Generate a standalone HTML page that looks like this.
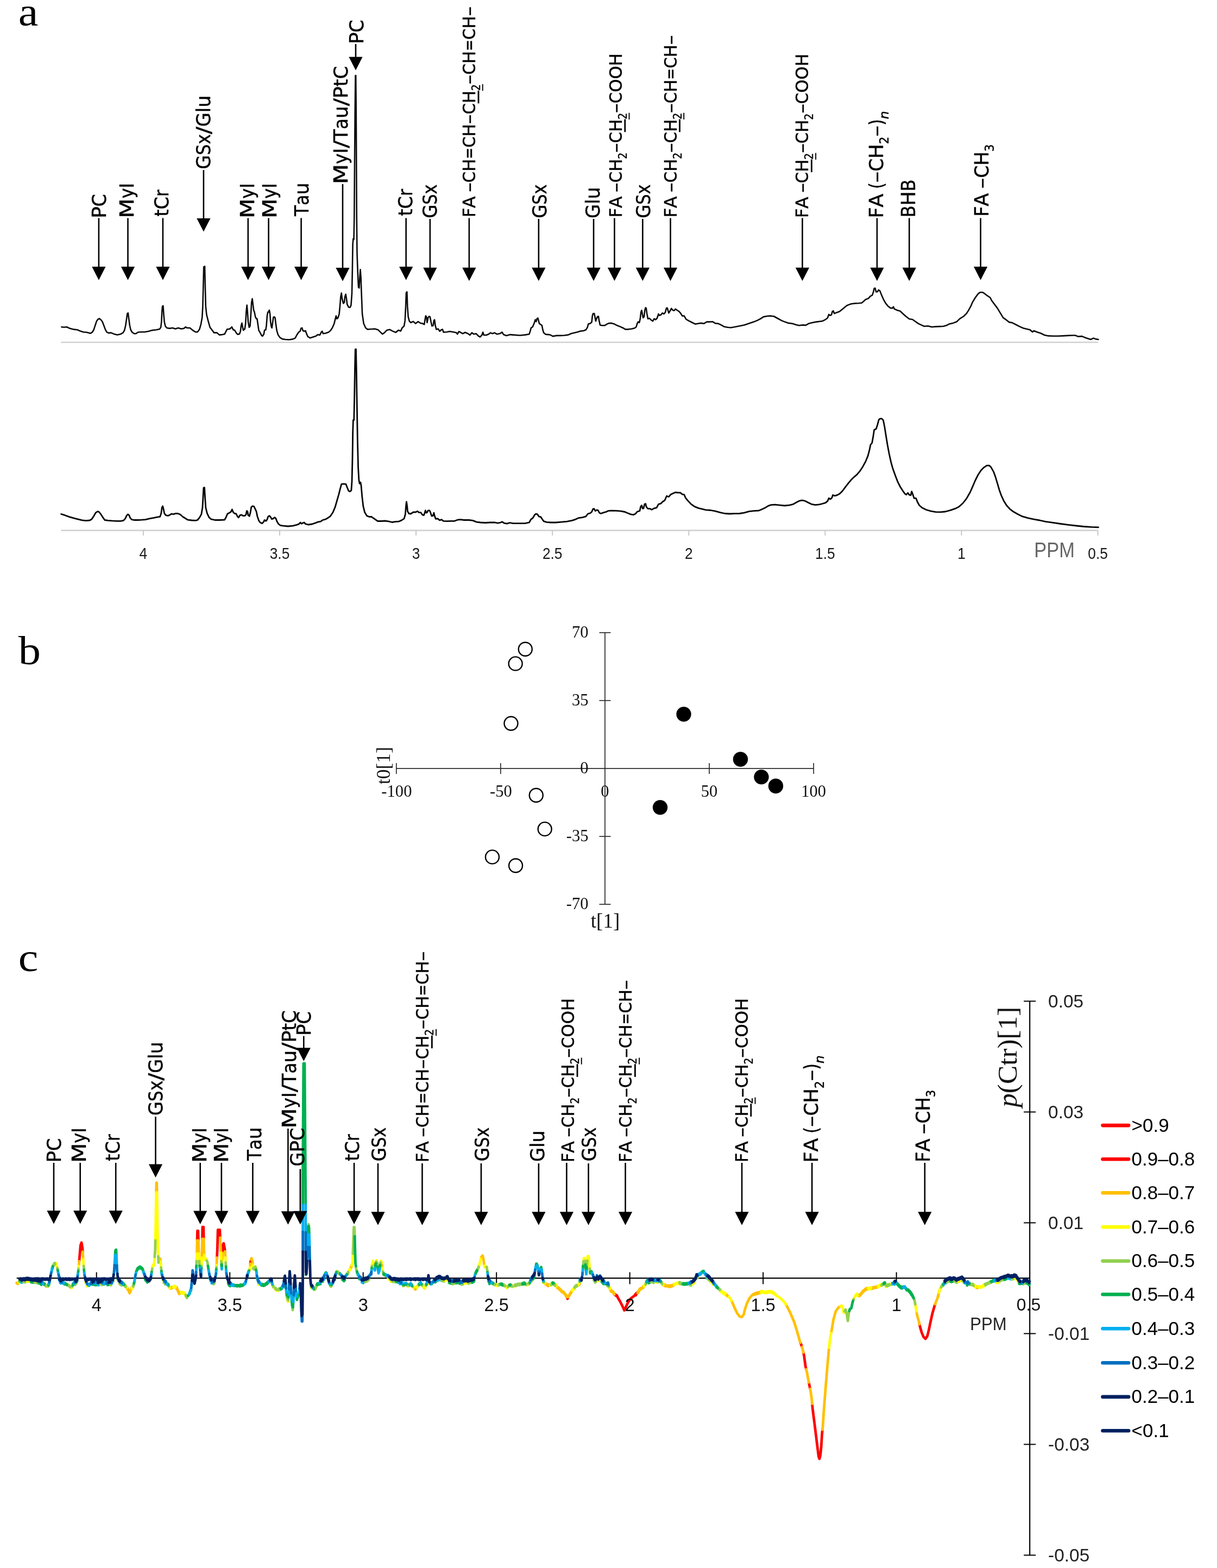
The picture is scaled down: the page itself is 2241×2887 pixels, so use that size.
<!DOCTYPE html>
<html lang="en">
<head>
<meta charset="utf-8">
<title>Figure</title>
<style>
html,body{margin:0;padding:0;background:#fff;}
body{width:2241px;height:2887px;overflow:hidden;}
svg{display:block;}
</style>
</head>
<body>
<svg width="2241" height="2887" viewBox="0 0 2241 2887">
<rect width="2241" height="2887" fill="#fff"/>
<text transform="translate(33.8,46.7) scale(1.12,1)" font-family='"Liberation Serif", serif' font-size="73.6" fill="#000">a</text>
<text transform="translate(33.8,1222.7) scale(1.12,1)" font-family='"Liberation Serif", serif' font-size="73.6" fill="#000">b</text>
<text transform="translate(33.8,1787.7) scale(1.12,1)" font-family='"Liberation Serif", serif' font-size="73.6" fill="#000">c</text>
<g id="panel-a">
<g transform="translate(195.30,398.40) rotate(-90)"><text font-family='"DejaVu Sans", "Liberation Sans", sans-serif' font-size="36.21" fill="#000" stroke="#000" stroke-width="0.5" stroke-linejoin="round" xml:space="preserve"><tspan x="-3.48" textLength="21.39" lengthAdjust="spacingAndGlyphs">P</tspan><tspan x="17.91" textLength="23.32" lengthAdjust="spacingAndGlyphs">C</tspan></text></g>
<line x1="181.9" y1="401.5" x2="181.9" y2="492.1" stroke="#000" stroke-width="2.6"/>
<polygon points="169.3,491.1 194.5,491.1 181.9,515.7" fill="#000"/>
<g transform="translate(246.10,397.60) rotate(-90)"><text font-family='"DejaVu Sans", "Liberation Sans", sans-serif' font-size="36.21" fill="#000" stroke="#000" stroke-width="0.5" stroke-linejoin="round" xml:space="preserve"><tspan x="-4.13" textLength="36.38" lengthAdjust="spacingAndGlyphs">M</tspan><tspan x="32.25" textLength="18.93" lengthAdjust="spacingAndGlyphs">y</tspan><tspan x="51.18" textLength="9.61" lengthAdjust="spacingAndGlyphs">I</tspan></text></g>
<line x1="235.5" y1="401.5" x2="235.5" y2="492.1" stroke="#000" stroke-width="2.6"/>
<polygon points="222.9,491.1 248.1,491.1 235.5,515.7" fill="#000"/>
<g transform="translate(309.90,397.90) rotate(-90)"><text font-family='"DejaVu Sans", "Liberation Sans", sans-serif' font-size="36.21" fill="#000" stroke="#000" stroke-width="0.5" stroke-linejoin="round" xml:space="preserve"><tspan x="-0.92" textLength="13.31" lengthAdjust="spacingAndGlyphs">t</tspan><tspan x="12.39" textLength="23.32" lengthAdjust="spacingAndGlyphs">C</tspan><tspan x="35.71" textLength="13.15" lengthAdjust="spacingAndGlyphs">r</tspan></text></g>
<line x1="299.9" y1="401.5" x2="299.9" y2="492.1" stroke="#000" stroke-width="2.6"/>
<polygon points="287.3,491.1 312.5,491.1 299.9,515.7" fill="#000"/>
<g transform="translate(386.90,309.50) rotate(-90)"><text font-family='"DejaVu Sans", "Liberation Sans", sans-serif' font-size="36.21" fill="#000" stroke="#000" stroke-width="0.5" stroke-linejoin="round" xml:space="preserve"><tspan x="-1.88" textLength="25.97" lengthAdjust="spacingAndGlyphs">G</tspan><tspan x="24.09" textLength="19.82" lengthAdjust="spacingAndGlyphs">S</tspan><tspan x="43.91" textLength="18.61" lengthAdjust="spacingAndGlyphs">x</tspan><tspan x="62.52" textLength="13.79" lengthAdjust="spacingAndGlyphs">/</tspan><tspan x="76.31" textLength="25.97" lengthAdjust="spacingAndGlyphs">G</tspan><tspan x="102.28" textLength="9.49" lengthAdjust="spacingAndGlyphs">l</tspan><tspan x="111.77" textLength="22.15" lengthAdjust="spacingAndGlyphs">u</tspan></text></g>
<line x1="374.9" y1="313.0" x2="374.9" y2="403.0" stroke="#000" stroke-width="2.6"/>
<polygon points="362.3,402.0 387.5,402.0 374.9,426.6" fill="#000"/>
<g transform="translate(468.10,398.00) rotate(-90)"><text font-family='"DejaVu Sans", "Liberation Sans", sans-serif' font-size="36.21" fill="#000" stroke="#000" stroke-width="0.5" stroke-linejoin="round" xml:space="preserve"><tspan x="-4.13" textLength="36.38" lengthAdjust="spacingAndGlyphs">M</tspan><tspan x="32.25" textLength="18.93" lengthAdjust="spacingAndGlyphs">y</tspan><tspan x="51.18" textLength="9.61" lengthAdjust="spacingAndGlyphs">I</tspan></text></g>
<line x1="456.8" y1="401.5" x2="456.8" y2="492.1" stroke="#000" stroke-width="2.6"/>
<polygon points="444.2,491.1 469.4,491.1 456.8,515.7" fill="#000"/>
<g transform="translate(508.50,398.00) rotate(-90)"><text font-family='"DejaVu Sans", "Liberation Sans", sans-serif' font-size="36.21" fill="#000" stroke="#000" stroke-width="0.5" stroke-linejoin="round" xml:space="preserve"><tspan x="-4.13" textLength="36.38" lengthAdjust="spacingAndGlyphs">M</tspan><tspan x="32.25" textLength="18.93" lengthAdjust="spacingAndGlyphs">y</tspan><tspan x="51.18" textLength="9.61" lengthAdjust="spacingAndGlyphs">I</tspan></text></g>
<line x1="494.6" y1="401.5" x2="494.6" y2="492.1" stroke="#000" stroke-width="2.6"/>
<polygon points="482.0,491.1 507.2,491.1 494.6,515.7" fill="#000"/>
<g transform="translate(568.40,398.00) rotate(-90)"><text font-family='"DejaVu Sans", "Liberation Sans", sans-serif' font-size="36.21" fill="#000" stroke="#000" stroke-width="0.5" stroke-linejoin="round" xml:space="preserve"><tspan x="0.10" textLength="19.98" lengthAdjust="spacingAndGlyphs">T</tspan><tspan x="20.08" textLength="19.38" lengthAdjust="spacingAndGlyphs">a</tspan><tspan x="39.45" textLength="22.15" lengthAdjust="spacingAndGlyphs">u</tspan></text></g>
<line x1="554.6" y1="401.5" x2="554.6" y2="492.1" stroke="#000" stroke-width="2.6"/>
<polygon points="542.0,491.1 567.2,491.1 554.6,515.7" fill="#000"/>
<g transform="translate(639.90,335.10) rotate(-90)"><text font-family='"DejaVu Sans", "Liberation Sans", sans-serif' font-size="36.21" fill="#000" stroke="#000" stroke-width="0.5" stroke-linejoin="round" xml:space="preserve"><tspan x="-4.24" textLength="37.36" lengthAdjust="spacingAndGlyphs">M</tspan><tspan x="33.12" textLength="19.45" lengthAdjust="spacingAndGlyphs">y</tspan><tspan x="52.57" textLength="9.87" lengthAdjust="spacingAndGlyphs">I</tspan><tspan x="62.43" textLength="14.16" lengthAdjust="spacingAndGlyphs">/</tspan><tspan x="76.59" textLength="20.52" lengthAdjust="spacingAndGlyphs">T</tspan><tspan x="97.11" textLength="19.90" lengthAdjust="spacingAndGlyphs">a</tspan><tspan x="117.01" textLength="22.75" lengthAdjust="spacingAndGlyphs">u</tspan><tspan x="139.76" textLength="14.16" lengthAdjust="spacingAndGlyphs">/</tspan><tspan x="153.92" textLength="21.96" lengthAdjust="spacingAndGlyphs">P</tspan><tspan x="175.89" textLength="13.67" lengthAdjust="spacingAndGlyphs">t</tspan><tspan x="189.55" textLength="23.95" lengthAdjust="spacingAndGlyphs">C</tspan></text></g>
<line x1="631.0" y1="339.0" x2="631.0" y2="494.1" stroke="#000" stroke-width="2.6"/>
<polygon points="618.4,493.1 643.6,493.1 631.0,517.7" fill="#000"/>
<g transform="translate(668.50,77.60) rotate(-90)"><text font-family='"DejaVu Sans", "Liberation Sans", sans-serif' font-size="36.21" fill="#000" stroke="#000" stroke-width="0.5" stroke-linejoin="round" xml:space="preserve"><tspan x="-3.48" textLength="21.39" lengthAdjust="spacingAndGlyphs">P</tspan><tspan x="17.91" textLength="23.32" lengthAdjust="spacingAndGlyphs">C</tspan></text></g>
<line x1="655.0" y1="81.0" x2="655.0" y2="105.8" stroke="#000" stroke-width="2.6"/>
<polygon points="642.4,104.8 667.6,104.8 655.0,129.4" fill="#000"/>
<g transform="translate(758.80,396.80) rotate(-90)"><text font-family='"DejaVu Sans", "Liberation Sans", sans-serif' font-size="36.21" fill="#000" stroke="#000" stroke-width="0.5" stroke-linejoin="round" xml:space="preserve"><tspan x="-0.92" textLength="13.31" lengthAdjust="spacingAndGlyphs">t</tspan><tspan x="12.39" textLength="23.32" lengthAdjust="spacingAndGlyphs">C</tspan><tspan x="35.71" textLength="13.15" lengthAdjust="spacingAndGlyphs">r</tspan></text></g>
<line x1="747.7" y1="401.5" x2="747.7" y2="492.1" stroke="#000" stroke-width="2.6"/>
<polygon points="735.1,491.1 760.3,491.1 747.7,515.7" fill="#000"/>
<g transform="translate(803.50,400.00) rotate(-90)"><text font-family='"DejaVu Sans", "Liberation Sans", sans-serif' font-size="36.21" fill="#000" stroke="#000" stroke-width="0.5" stroke-linejoin="round" xml:space="preserve"><tspan x="-1.82" textLength="25.19" lengthAdjust="spacingAndGlyphs">G</tspan><tspan x="23.37" textLength="19.22" lengthAdjust="spacingAndGlyphs">S</tspan><tspan x="42.59" textLength="18.05" lengthAdjust="spacingAndGlyphs">x</tspan></text></g>
<line x1="791.9" y1="403.0" x2="791.9" y2="493.7" stroke="#000" stroke-width="2.6"/>
<polygon points="779.3,492.7 804.5,492.7 791.9,517.3" fill="#000"/>
<g transform="translate(875.05,397.20) rotate(-90)"><text font-family='"DejaVu Sans", "Liberation Sans", sans-serif' font-size="31.69" fill="#000" stroke="#000" stroke-width="0.5" stroke-linejoin="round" xml:space="preserve"><tspan x="-2.93" textLength="17.19" lengthAdjust="spacingAndGlyphs">F</tspan><tspan x="14.26" textLength="21.60" lengthAdjust="spacingAndGlyphs">A</tspan><tspan x="35.86"> </tspan><tspan x="43.35" textLength="17.65" lengthAdjust="spacingAndGlyphs">–</tspan><tspan x="61.00" textLength="20.47" lengthAdjust="spacingAndGlyphs">C</tspan><tspan x="81.47" textLength="23.02" lengthAdjust="spacingAndGlyphs">H</tspan><tspan x="104.49" textLength="21.04" lengthAdjust="spacingAndGlyphs">=</tspan><tspan x="125.53" textLength="20.47" lengthAdjust="spacingAndGlyphs">C</tspan><tspan x="146.00" textLength="23.02" lengthAdjust="spacingAndGlyphs">H</tspan><tspan x="169.02" textLength="17.65" lengthAdjust="spacingAndGlyphs">–</tspan><tspan x="186.67" textLength="20.47" lengthAdjust="spacingAndGlyphs">C</tspan><tspan x="207.14" textLength="23.02" lengthAdjust="spacingAndGlyphs">H</tspan><tspan x="230.16" dy="9.00" font-size="20.76" textLength="11.86" lengthAdjust="spacingAndGlyphs">2</tspan><tspan x="242.02" dy="-9.00" textLength="17.65" lengthAdjust="spacingAndGlyphs">–</tspan><tspan x="259.67" textLength="20.47" lengthAdjust="spacingAndGlyphs">C</tspan><tspan x="280.14" textLength="23.02" lengthAdjust="spacingAndGlyphs">H</tspan><tspan x="303.16" textLength="21.04" lengthAdjust="spacingAndGlyphs">=</tspan><tspan x="324.20" textLength="20.47" lengthAdjust="spacingAndGlyphs">C</tspan><tspan x="344.67" textLength="23.02" lengthAdjust="spacingAndGlyphs">H</tspan><tspan x="367.69" textLength="17.65" lengthAdjust="spacingAndGlyphs">–</tspan></text><rect x="206.84" y="4.59" width="23.62" height="2.82" fill="#000"/><rect x="229.96" y="12.74" width="12.26" height="1.91" fill="#000"/></g>
<line x1="863.9" y1="401.5" x2="863.9" y2="493.7" stroke="#000" stroke-width="2.6"/>
<polygon points="851.3,492.7 876.5,492.7 863.9,517.3" fill="#000"/>
<g transform="translate(1005.90,400.00) rotate(-90)"><text font-family='"DejaVu Sans", "Liberation Sans", sans-serif' font-size="36.21" fill="#000" stroke="#000" stroke-width="0.5" stroke-linejoin="round" xml:space="preserve"><tspan x="-1.82" textLength="25.19" lengthAdjust="spacingAndGlyphs">G</tspan><tspan x="23.37" textLength="19.22" lengthAdjust="spacingAndGlyphs">S</tspan><tspan x="42.59" textLength="18.05" lengthAdjust="spacingAndGlyphs">x</tspan></text></g>
<line x1="991.9" y1="403.0" x2="991.9" y2="493.7" stroke="#000" stroke-width="2.6"/>
<polygon points="979.3,492.7 1004.5,492.7 991.9,517.3" fill="#000"/>
<g transform="translate(1104.20,400.00) rotate(-90)"><text font-family='"DejaVu Sans", "Liberation Sans", sans-serif' font-size="36.21" fill="#000" stroke="#000" stroke-width="0.5" stroke-linejoin="round" xml:space="preserve"><tspan x="-1.88" textLength="25.97" lengthAdjust="spacingAndGlyphs">G</tspan><tspan x="24.09" textLength="9.49" lengthAdjust="spacingAndGlyphs">l</tspan><tspan x="33.58" textLength="22.15" lengthAdjust="spacingAndGlyphs">u</tspan></text></g>
<line x1="1093.1" y1="403.0" x2="1093.1" y2="493.7" stroke="#000" stroke-width="2.6"/>
<polygon points="1080.5,492.7 1105.7,492.7 1093.1,517.3" fill="#000"/>
<g transform="translate(1144.85,397.30) rotate(-90)"><text font-family='"DejaVu Sans", "Liberation Sans", sans-serif' font-size="31.69" fill="#000" stroke="#000" stroke-width="0.5" stroke-linejoin="round" xml:space="preserve"><tspan x="-2.93" textLength="17.19" lengthAdjust="spacingAndGlyphs">F</tspan><tspan x="14.26" textLength="21.60" lengthAdjust="spacingAndGlyphs">A</tspan><tspan x="35.86"> </tspan><tspan x="43.35" textLength="17.65" lengthAdjust="spacingAndGlyphs">–</tspan><tspan x="61.00" textLength="20.47" lengthAdjust="spacingAndGlyphs">C</tspan><tspan x="81.47" textLength="23.02" lengthAdjust="spacingAndGlyphs">H</tspan><tspan x="104.49" dy="9.00" font-size="20.76" textLength="11.86" lengthAdjust="spacingAndGlyphs">2</tspan><tspan x="116.35" dy="-9.00" textLength="17.65" lengthAdjust="spacingAndGlyphs">–</tspan><tspan x="134.00" textLength="20.47" lengthAdjust="spacingAndGlyphs">C</tspan><tspan x="154.47" textLength="23.02" lengthAdjust="spacingAndGlyphs">H</tspan><tspan x="177.49" dy="9.00" font-size="20.76" textLength="11.86" lengthAdjust="spacingAndGlyphs">2</tspan><tspan x="189.35" dy="-9.00" textLength="17.65" lengthAdjust="spacingAndGlyphs">–</tspan><tspan x="207.00" textLength="20.47" lengthAdjust="spacingAndGlyphs">C</tspan><tspan x="227.47" textLength="24.32" lengthAdjust="spacingAndGlyphs">O</tspan><tspan x="251.80" textLength="24.32" lengthAdjust="spacingAndGlyphs">O</tspan><tspan x="276.12" textLength="23.02" lengthAdjust="spacingAndGlyphs">H</tspan></text><rect x="154.17" y="4.59" width="23.62" height="2.82" fill="#000"/><rect x="177.29" y="12.74" width="12.26" height="1.91" fill="#000"/></g>
<line x1="1131.5" y1="401.5" x2="1131.5" y2="493.7" stroke="#000" stroke-width="2.6"/>
<polygon points="1118.9,492.7 1144.1,492.7 1131.5,517.3" fill="#000"/>
<g transform="translate(1196.60,400.00) rotate(-90)"><text font-family='"DejaVu Sans", "Liberation Sans", sans-serif' font-size="36.21" fill="#000" stroke="#000" stroke-width="0.5" stroke-linejoin="round" xml:space="preserve"><tspan x="-1.82" textLength="25.19" lengthAdjust="spacingAndGlyphs">G</tspan><tspan x="23.37" textLength="19.22" lengthAdjust="spacingAndGlyphs">S</tspan><tspan x="42.59" textLength="18.05" lengthAdjust="spacingAndGlyphs">x</tspan></text></g>
<line x1="1183.4" y1="403.0" x2="1183.4" y2="493.7" stroke="#000" stroke-width="2.6"/>
<polygon points="1170.8,492.7 1196.0,492.7 1183.4,517.3" fill="#000"/>
<g transform="translate(1245.55,397.30) rotate(-90)"><text font-family='"DejaVu Sans", "Liberation Sans", sans-serif' font-size="31.69" fill="#000" stroke="#000" stroke-width="0.5" stroke-linejoin="round" xml:space="preserve"><tspan x="-2.93" textLength="17.19" lengthAdjust="spacingAndGlyphs">F</tspan><tspan x="14.26" textLength="21.60" lengthAdjust="spacingAndGlyphs">A</tspan><tspan x="35.86"> </tspan><tspan x="43.35" textLength="17.65" lengthAdjust="spacingAndGlyphs">–</tspan><tspan x="61.00" textLength="20.47" lengthAdjust="spacingAndGlyphs">C</tspan><tspan x="81.47" textLength="23.02" lengthAdjust="spacingAndGlyphs">H</tspan><tspan x="104.49" dy="9.00" font-size="20.76" textLength="11.86" lengthAdjust="spacingAndGlyphs">2</tspan><tspan x="116.35" dy="-9.00" textLength="17.65" lengthAdjust="spacingAndGlyphs">–</tspan><tspan x="134.00" textLength="20.47" lengthAdjust="spacingAndGlyphs">C</tspan><tspan x="154.47" textLength="23.02" lengthAdjust="spacingAndGlyphs">H</tspan><tspan x="177.49" dy="9.00" font-size="20.76" textLength="11.86" lengthAdjust="spacingAndGlyphs">2</tspan><tspan x="189.35" dy="-9.00" textLength="17.65" lengthAdjust="spacingAndGlyphs">–</tspan><tspan x="207.00" textLength="20.47" lengthAdjust="spacingAndGlyphs">C</tspan><tspan x="227.47" textLength="23.02" lengthAdjust="spacingAndGlyphs">H</tspan><tspan x="250.49" textLength="21.04" lengthAdjust="spacingAndGlyphs">=</tspan><tspan x="271.53" textLength="20.47" lengthAdjust="spacingAndGlyphs">C</tspan><tspan x="292.00" textLength="23.02" lengthAdjust="spacingAndGlyphs">H</tspan><tspan x="315.02" textLength="17.65" lengthAdjust="spacingAndGlyphs">–</tspan></text><rect x="154.17" y="4.59" width="23.62" height="2.82" fill="#000"/><rect x="177.29" y="12.74" width="12.26" height="1.91" fill="#000"/></g>
<line x1="1234.6" y1="401.5" x2="1234.6" y2="493.7" stroke="#000" stroke-width="2.6"/>
<polygon points="1222.0,492.7 1247.2,492.7 1234.6,517.3" fill="#000"/>
<g transform="translate(1488.45,398.20) rotate(-90)"><text font-family='"DejaVu Sans", "Liberation Sans", sans-serif' font-size="31.69" fill="#000" stroke="#000" stroke-width="0.5" stroke-linejoin="round" xml:space="preserve"><tspan x="-2.93" textLength="17.19" lengthAdjust="spacingAndGlyphs">F</tspan><tspan x="14.26" textLength="21.60" lengthAdjust="spacingAndGlyphs">A</tspan><tspan x="35.86"> </tspan><tspan x="43.35" textLength="17.65" lengthAdjust="spacingAndGlyphs">–</tspan><tspan x="61.00" textLength="20.47" lengthAdjust="spacingAndGlyphs">C</tspan><tspan x="81.47" textLength="23.02" lengthAdjust="spacingAndGlyphs">H</tspan><tspan x="104.49" dy="9.00" font-size="20.76" textLength="11.86" lengthAdjust="spacingAndGlyphs">2</tspan><tspan x="116.35" dy="-9.00" textLength="17.65" lengthAdjust="spacingAndGlyphs">–</tspan><tspan x="134.00" textLength="20.47" lengthAdjust="spacingAndGlyphs">C</tspan><tspan x="154.47" textLength="23.02" lengthAdjust="spacingAndGlyphs">H</tspan><tspan x="177.49" dy="9.00" font-size="20.76" textLength="11.86" lengthAdjust="spacingAndGlyphs">2</tspan><tspan x="189.35" dy="-9.00" textLength="17.65" lengthAdjust="spacingAndGlyphs">–</tspan><tspan x="207.00" textLength="20.47" lengthAdjust="spacingAndGlyphs">C</tspan><tspan x="227.47" textLength="24.32" lengthAdjust="spacingAndGlyphs">O</tspan><tspan x="251.80" textLength="24.32" lengthAdjust="spacingAndGlyphs">O</tspan><tspan x="276.12" textLength="23.02" lengthAdjust="spacingAndGlyphs">H</tspan></text><rect x="81.17" y="4.59" width="23.62" height="2.82" fill="#000"/><rect x="104.29" y="12.74" width="12.26" height="1.91" fill="#000"/></g>
<line x1="1477.5" y1="401.5" x2="1477.5" y2="493.7" stroke="#000" stroke-width="2.6"/>
<polygon points="1464.9,492.7 1490.1,492.7 1477.5,517.3" fill="#000"/>
<g transform="translate(1625.50,398.20) rotate(-90)"><text font-family='"DejaVu Sans", "Liberation Sans", sans-serif' font-size="36.21" fill="#000" stroke="#000" stroke-width="0.5" stroke-linejoin="round" xml:space="preserve"><tspan x="-3.40" textLength="19.97" lengthAdjust="spacingAndGlyphs">F</tspan><tspan x="16.57" textLength="25.09" lengthAdjust="spacingAndGlyphs">A</tspan><tspan x="41.66"> </tspan><tspan x="50.35" textLength="11.65" lengthAdjust="spacingAndGlyphs">(</tspan><tspan x="62.00" textLength="20.50" lengthAdjust="spacingAndGlyphs">–</tspan><tspan x="82.50" textLength="23.78" lengthAdjust="spacingAndGlyphs">C</tspan><tspan x="106.28" textLength="26.73" lengthAdjust="spacingAndGlyphs">H</tspan><tspan x="133.02" dy="10.46" font-size="23.72" textLength="13.78" lengthAdjust="spacingAndGlyphs">2</tspan><tspan x="146.79" dy="-10.46" textLength="20.50" lengthAdjust="spacingAndGlyphs">–</tspan><tspan x="167.30" textLength="11.65" lengthAdjust="spacingAndGlyphs">)</tspan><tspan x="178.94" dy="10.46" font-size="23.72" font-style="italic" textLength="14.91" lengthAdjust="spacingAndGlyphs">n</tspan></text></g>
<line x1="1615.0" y1="401.5" x2="1615.0" y2="493.7" stroke="#000" stroke-width="2.6"/>
<polygon points="1602.4,492.7 1627.6,492.7 1615.0,517.3" fill="#000"/>
<g transform="translate(1685.30,397.20) rotate(-90)"><text font-family='"DejaVu Sans", "Liberation Sans", sans-serif' font-size="36.21" fill="#000" stroke="#000" stroke-width="0.5" stroke-linejoin="round" xml:space="preserve"><tspan x="-3.11" textLength="21.79" lengthAdjust="spacingAndGlyphs">B</tspan><tspan x="18.68" textLength="26.21" lengthAdjust="spacingAndGlyphs">H</tspan><tspan x="44.89" textLength="21.79" lengthAdjust="spacingAndGlyphs">B</tspan></text></g>
<line x1="1674.3" y1="401.5" x2="1674.3" y2="493.7" stroke="#000" stroke-width="2.6"/>
<polygon points="1661.7,492.7 1686.9,492.7 1674.3,517.3" fill="#000"/>
<g transform="translate(1820.40,395.60) rotate(-90)"><text font-family='"DejaVu Sans", "Liberation Sans", sans-serif' font-size="36.21" fill="#000" stroke="#000" stroke-width="0.5" stroke-linejoin="round" xml:space="preserve"><tspan x="-3.27" textLength="19.19" lengthAdjust="spacingAndGlyphs">F</tspan><tspan x="15.92" textLength="24.11" lengthAdjust="spacingAndGlyphs">A</tspan><tspan x="40.03"> </tspan><tspan x="48.38" textLength="19.70" lengthAdjust="spacingAndGlyphs">–</tspan><tspan x="68.08" textLength="22.85" lengthAdjust="spacingAndGlyphs">C</tspan><tspan x="90.93" textLength="25.69" lengthAdjust="spacingAndGlyphs">H</tspan><tspan x="116.61" dy="10.05" font-size="23.72" textLength="13.24" lengthAdjust="spacingAndGlyphs">3</tspan></text></g>
<line x1="1805.7" y1="401.5" x2="1805.7" y2="492.1" stroke="#000" stroke-width="2.6"/>
<polygon points="1793.1,491.1 1818.3,491.1 1805.7,515.7" fill="#000"/>
<line x1="112.3" y1="630.3" x2="2022" y2="630.3" stroke="#d2d2d2" stroke-width="2.6"/>
<line x1="112.3" y1="976.6" x2="2022" y2="976.6" stroke="#d2d2d2" stroke-width="2.6"/>
<line x1="263.9" y1="976.6" x2="263.9" y2="986" stroke="#c8c8c8" stroke-width="2"/>
<text transform="translate(263.9,1029.2) scale(0.9,1)" font-family='"Liberation Sans", sans-serif' font-size="29.3" text-anchor="middle" fill="#1a1a1a">4</text>
<line x1="515.0" y1="976.6" x2="515.0" y2="986" stroke="#c8c8c8" stroke-width="2"/>
<text transform="translate(515.0,1029.2) scale(0.9,1)" font-family='"Liberation Sans", sans-serif' font-size="29.3" text-anchor="middle" fill="#1a1a1a">3.5</text>
<line x1="766.1" y1="976.6" x2="766.1" y2="986" stroke="#c8c8c8" stroke-width="2"/>
<text transform="translate(766.1,1029.2) scale(0.9,1)" font-family='"Liberation Sans", sans-serif' font-size="29.3" text-anchor="middle" fill="#1a1a1a">3</text>
<line x1="1017.2" y1="976.6" x2="1017.2" y2="986" stroke="#c8c8c8" stroke-width="2"/>
<text transform="translate(1017.2,1029.2) scale(0.9,1)" font-family='"Liberation Sans", sans-serif' font-size="29.3" text-anchor="middle" fill="#1a1a1a">2.5</text>
<line x1="1268.3" y1="976.6" x2="1268.3" y2="986" stroke="#c8c8c8" stroke-width="2"/>
<text transform="translate(1268.3,1029.2) scale(0.9,1)" font-family='"Liberation Sans", sans-serif' font-size="29.3" text-anchor="middle" fill="#1a1a1a">2</text>
<line x1="1519.4" y1="976.6" x2="1519.4" y2="986" stroke="#c8c8c8" stroke-width="2"/>
<text transform="translate(1519.4,1029.2) scale(0.9,1)" font-family='"Liberation Sans", sans-serif' font-size="29.3" text-anchor="middle" fill="#1a1a1a">1.5</text>
<line x1="1770.5" y1="976.6" x2="1770.5" y2="986" stroke="#c8c8c8" stroke-width="2"/>
<text transform="translate(1770.5,1029.2) scale(0.9,1)" font-family='"Liberation Sans", sans-serif' font-size="29.3" text-anchor="middle" fill="#1a1a1a">1</text>
<line x1="2021.6" y1="976.6" x2="2021.6" y2="986" stroke="#c8c8c8" stroke-width="2"/>
<text transform="translate(2021.6,1029.2) scale(0.9,1)" font-family='"Liberation Sans", sans-serif' font-size="29.3" text-anchor="middle" fill="#1a1a1a">0.5</text>
<text transform="translate(1904.2,1026.3) scale(0.885,1)" font-family='"Liberation Sans", sans-serif' font-size="39" fill="#666">PPM</text>
<polyline points="113.3,602.0 117.7,602.5 123.0,602.0 128.3,604.6 135.4,606.4 142.5,607.3 147.8,609.6 153.1,611.3 160.2,612.0 166.4,613.8 169.9,611.7 172.6,607.3 175.2,599.3 177.9,591.3 180.5,587.8 182.8,586.5 185.8,588.7 188.5,592.2 191.2,599.3 193.8,606.4 196.5,611.3 200.0,613.1 204.4,612.6 209.7,614.9 215.9,616.6 222.1,615.2 226.6,612.6 229.2,608.1 231.3,599.3 233.1,586.9 234.5,577.2 235.9,576.3 237.2,586.9 238.9,599.3 240.7,607.3 243.4,611.7 246.9,614.3 250.4,614.3 254.0,611.7 259.3,611.3 266.4,611.3 273.4,609.9 280.5,608.1 287.6,607.3 293.8,606.0 296.1,602.8 297.4,592.2 298.2,574.5 299.1,563.9 300.4,563.0 301.4,578.0 302.6,592.2 304.4,600.2 307.1,603.7 312.4,604.6 317.7,603.7 323.0,605.5 328.3,603.7 333.6,605.5 338.9,604.6 341.6,602.0 344.2,603.7 349.6,603.7 354.9,608.1 360.2,611.3 363.7,611.3 367.3,606.4 369.9,597.5 372.2,585.1 373.4,563.9 374.3,528.5 375.2,491.3 377.0,490.4 377.9,528.5 378.8,563.9 380.5,579.8 383.2,590.4 386.7,602.8 394.2,612.6 399.5,612.6 403.9,616.6 409.2,616.1 413.6,615.2 416.3,609.9 418.1,606.4 423.4,605.5 426.9,602.0 429.6,607.3 432.2,608.1 434.9,612.6 437.5,615.6 441.1,614.9 442.8,609.9 444.1,599.3 445.5,594.9 446.9,602.8 448.1,608.1 450.8,605.5 452.2,595.8 453.4,574.5 454.7,561.8 455.8,574.5 457.0,592.2 458.8,602.8 460.5,600.2 461.8,581.6 463.2,556.8 464.6,550.1 465.8,560.4 467.1,571.0 468.5,574.5 470.3,583.4 472.0,586.9 473.4,586.9 474.7,595.8 476.5,608.1 479.1,612.6 481.8,617.9 483.5,618.8 485.8,615.2 487.1,608.1 489.4,607.3 490.6,599.3 491.9,581.6 493.3,574.5 494.7,574.5 495.9,571.0 497.2,578.0 498.2,592.2 499.5,601.1 500.7,603.7 502.1,594.0 503.4,584.2 504.8,583.4 506.6,585.1 507.8,595.8 509.6,608.1 511.9,616.1 515.4,621.4 519.8,624.1 525.1,625.0 532.2,625.5 539.3,624.4 543.7,622.3 546.4,617.0 549.9,611.7 552.6,609.9 554.3,604.6 556.1,603.7 557.9,609.0 560.5,609.9 562.6,609.0 564.4,614.3 566.7,619.6 571.1,622.3 576.5,620.5 581.8,618.8 585.3,616.1 588.9,617.0 591.5,611.7 593.3,609.9 595.0,614.3 599.5,613.5 604.8,611.7 608.3,609.0 611.9,603.7 615.4,595.8 617.5,586.9 618.9,581.6 620.4,586.9 622.5,585.1 624.6,578.0 626.0,563.9 627.4,546.2 628.7,539.5 629.9,549.7 632.2,558.6 634.0,556.8 635.2,546.2 636.6,541.8 638.0,549.7 639.3,560.4 642.0,565.7 644.6,566.0 646.4,562.1 647.6,546.2 648.0,540.0 648.8,500.0 649.6,450.0 650.4,439.5 651.6,441.0 652.3,400.0 653.0,300.0 653.8,200.0 654.5,139.0 655.2,139.0 655.8,200.0 656.3,300.0 656.8,400.0 657.5,466.5 658.8,502.0 660.0,528.5 661.4,530.3 662.5,510.8 663.5,496.3 664.6,510.8 665.5,537.3 667.1,578.0 669.7,595.8 673.3,603.7 676.8,606.4 683.0,606.0 690.1,605.5 696.3,607.3 700.7,611.7 704.2,615.2 707.8,612.6 712.2,608.1 717.5,606.7 722.8,609.6 729.0,612.0 733.5,608.1 737.9,609.6 740.5,603.7 744.1,600.2 745.8,590.4 747.1,563.9 748.0,539.1 749.4,537.4 750.3,563.9 751.7,583.4 753.8,591.3 756.5,594.0 760.9,591.9 765.3,595.8 769.7,592.2 774.2,594.9 778.6,595.8 781.2,597.5 782.6,588.7 783.9,581.6 785.3,583.4 786.5,594.0 788.3,585.1 790.1,582.5 791.9,583.4 793.6,592.2 795.4,600.2 797.7,599.3 798.9,590.4 800.2,588.7 801.6,599.3 803.4,606.4 806.9,605.5 809.6,609.9 812.6,607.3 814.9,606.4 816.6,611.7 822.8,611.3 828.1,610.3 834.3,611.3 840.5,612.6 842.3,615.2 845.0,610.3 847.6,611.7 852.0,614.3 856.5,612.0 861.8,614.3 865.3,617.0 868.9,612.6 872.4,615.2 876.8,614.3 881.2,618.8 883.9,620.5 887.4,617.0 889.2,611.7 891.0,617.0 895.4,617.0 899.8,615.2 903.4,612.6 906.9,614.3 910.4,612.6 914.9,615.2 920.2,614.3 924.6,611.7 927.3,616.1 932.6,617.9 939.6,616.1 945.0,616.6 957.7,617.5 966.5,616.6 974.5,615.2 976.3,609.9 978.0,603.7 980.7,602.0 983.4,595.8 985.7,588.7 987.4,592.2 988.7,586.9 990.4,585.5 991.7,590.4 993.1,595.8 995.8,597.5 998.0,599.3 999.3,606.4 1001.1,612.6 1004.6,615.6 1010.8,616.1 1014.3,617.0 1017.9,619.1 1025.0,617.9 1032.0,617.9 1039.1,617.5 1046.2,616.6 1051.5,614.3 1058.6,612.6 1063.9,611.3 1069.2,609.6 1074.5,609.0 1078.9,607.3 1081.6,602.8 1083.4,596.6 1086.9,595.4 1089.6,593.1 1090.8,581.6 1092.2,577.2 1094.3,577.2 1095.8,585.1 1097.0,591.3 1098.4,586.9 1100.2,583.0 1102.0,582.5 1103.2,590.4 1105.0,598.4 1108.1,599.3 1113.5,599.3 1117.0,597.2 1120.5,595.4 1125.8,594.9 1131.2,596.6 1136.5,599.3 1141.8,601.4 1147.1,603.7 1151.5,606.4 1155.9,606.4 1163.0,605.5 1168.3,604.2 1171.5,602.0 1173.3,595.8 1175.0,592.6 1177.2,594.0 1178.9,586.9 1180.3,574.5 1181.6,571.3 1182.8,578.0 1184.2,585.1 1186.0,583.4 1187.4,571.0 1188.7,566.5 1189.9,567.4 1191.3,578.0 1193.1,586.9 1195.8,586.0 1198.4,588.7 1202.0,591.3 1204.6,586.9 1207.3,588.7 1209.9,586.0 1212.6,578.0 1214.3,580.7 1217.0,579.8 1219.7,576.3 1222.3,578.0 1225.0,575.4 1227.1,567.4 1228.8,567.1 1231.5,576.3 1234.2,571.9 1236.3,567.8 1238.6,571.0 1241.2,571.9 1243.9,568.9 1246.5,571.0 1250.1,573.1 1253.6,577.2 1256.3,581.6 1259.8,581.6 1263.4,587.8 1268.7,590.8 1274.9,594.0 1280.2,596.6 1285.5,595.8 1290.8,594.9 1296.1,595.8 1301.4,592.6 1306.7,592.6 1312.0,592.2 1317.3,595.4 1322.7,595.8 1328.0,598.4 1333.3,601.4 1340.3,602.8 1345.7,603.2 1352.7,602.0 1361.6,600.2 1370.4,598.4 1379.3,595.4 1388.1,592.6 1395.2,589.6 1400.5,586.9 1405.8,583.4 1412.9,582.0 1418.2,581.6 1425.3,582.5 1432.4,586.5 1439.5,590.4 1446.5,593.1 1451.9,594.9 1458.9,595.8 1466.0,597.9 1471.3,599.3 1478.4,598.4 1483.7,598.9 1489.0,595.8 1496.1,594.0 1503.2,592.6 1514.2,591.3 1519.5,588.7 1523.9,585.5 1526.2,578.9 1528.3,580.7 1531.0,579.8 1532.7,573.6 1534.5,572.4 1536.3,577.2 1540.7,575.4 1546.0,573.6 1551.3,569.2 1556.6,564.8 1560.2,562.1 1567.3,559.5 1574.3,558.6 1581.4,558.2 1586.7,557.7 1590.3,554.7 1593.8,551.5 1599.1,549.4 1602.7,545.3 1606.2,543.5 1608.3,537.4 1609.7,531.1 1611.5,530.6 1613.3,537.4 1615.9,537.0 1617.7,533.8 1620.3,535.6 1623.0,542.6 1626.5,550.6 1631.0,558.6 1635.4,563.9 1639.8,567.1 1643.4,567.4 1645.1,564.8 1646.9,568.9 1652.2,571.3 1657.5,572.7 1662.8,577.7 1668.1,582.5 1674.3,587.3 1680.5,588.3 1685.8,592.2 1691.2,595.8 1696.5,598.4 1701.8,600.7 1708.8,600.2 1715.9,602.0 1723.0,601.4 1730.1,601.1 1737.2,600.7 1742.5,599.3 1747.8,596.6 1754.9,594.9 1762.0,592.2 1767.3,586.9 1774.3,582.5 1779.7,577.2 1783.2,571.9 1787.6,563.9 1790.6,556.8 1795.9,548.0 1801.2,540.9 1804.8,538.2 1809.2,538.2 1813.6,540.9 1818.0,544.4 1823.4,548.0 1826.0,553.3 1831.3,560.4 1836.6,567.4 1842.0,576.3 1847.3,585.1 1852.6,588.7 1857.9,593.1 1864.1,594.3 1870.3,597.5 1877.3,601.1 1884.4,604.2 1891.5,606.0 1896.8,607.3 1901.2,611.3 1903.9,609.0 1909.2,611.3 1916.3,613.5 1923.4,617.0 1930.4,618.4 1939.3,618.8 1948.1,618.8 1957.0,618.4 1965.8,617.9 1974.7,617.5 1980.0,617.5 1985.3,619.6 1992.4,619.1 1997.7,621.4 2003.0,623.2 2008.3,625.0 2013.6,622.6 2018.0,624.4 2022.5,625.0" fill="none" stroke="#0a0a0a" stroke-width="2.6" stroke-linejoin="round" stroke-linecap="round"/>
<polyline points="112.7,946.5 119.5,948.7 128.3,951.9 137.2,954.3 144.2,956.1 151.3,957.9 158.4,958.6 165.5,958.0 169.0,955.8 172.6,950.4 176.1,944.2 179.7,941.6 182.3,942.5 185.8,946.9 189.4,952.6 192.9,957.5 199.1,958.4 206.2,958.9 215.0,959.3 222.1,959.3 227.4,958.4 230.6,954.9 233.1,949.6 235.4,946.9 237.7,948.7 239.8,953.6 242.5,956.6 246.9,957.5 254.0,957.5 261.1,957.2 268.1,956.6 275.2,954.9 282.3,953.6 289.4,952.2 294.7,951.3 296.8,945.1 298.2,934.5 299.6,931.9 300.9,936.3 302.6,945.1 305.3,948.7 309.7,949.6 313.3,947.8 315.9,946.0 319.5,946.9 323.0,945.5 327.4,945.5 331.9,947.3 336.3,951.3 340.7,954.0 346.0,957.2 353.1,958.0 360.2,958.4 363.7,957.5 367.3,953.1 370.8,946.9 372.9,934.5 374.0,915.0 374.9,898.2 376.5,897.7 377.5,915.0 378.8,934.5 381.4,945.1 385.0,952.6 388.5,955.8 395.9,957.5 404.8,957.5 413.6,957.0 416.3,952.2 418.9,946.0 422.5,944.2 425.1,942.5 427.4,938.0 429.6,943.4 432.2,945.5 434.9,946.0 437.5,951.3 439.3,953.1 441.9,948.7 444.6,947.8 447.3,949.6 450.8,949.6 452.9,947.8 454.3,940.7 455.8,941.6 457.0,948.7 459.3,950.4 461.1,943.4 462.8,933.6 465.0,931.9 467.6,932.4 469.9,937.2 472.0,941.6 473.8,950.4 476.5,958.4 479.1,962.0 482.6,963.7 485.3,961.1 487.1,957.5 489.7,959.3 491.9,956.6 493.6,951.3 495.9,949.6 498.2,951.9 500.4,955.8 503.0,954.9 505.7,952.6 507.8,954.3 510.1,960.2 512.7,964.6 516.3,967.3 521.6,968.1 530.4,969.0 539.3,968.1 546.4,966.4 550.8,964.6 553.1,962.0 555.2,964.2 557.9,962.8 560.2,962.0 562.3,964.6 567.6,966.0 574.7,965.0 580.0,963.2 585.3,961.1 590.6,960.2 594.2,957.5 599.5,956.1 603.2,954.0 608.1,950.7 613.1,943.3 617.2,933.4 620.5,921.9 623.8,910.3 626.3,900.4 628.8,891.4 632.9,890.9 637.0,891.4 639.5,898.0 641.9,903.7 644.4,905.0 646.9,902.9 648.0,887.2 649.0,844.4 649.7,794.9 650.4,773.5 651.8,773.5 652.7,728.9 653.5,679.5 654.3,643.2 655.5,642.9 656.3,679.5 657.3,745.4 658.4,811.4 659.6,860.9 660.9,884.0 662.2,890.5 663.9,888.1 665.0,893.8 666.7,913.6 668.8,931.8 671.6,943.3 675.8,949.9 679.9,951.5 684.0,951.5 688.9,954.9 695.5,959.5 702.1,959.5 708.7,959.0 715.3,959.8 721.9,961.5 727.3,960.7 734.3,960.2 739.6,957.9 744.1,954.9 746.4,946.9 747.6,931.0 748.5,923.9 749.6,931.0 750.6,941.6 752.9,945.5 756.5,946.0 760.9,943.0 765.3,943.0 768.9,941.2 771.5,943.7 775.0,943.7 777.7,947.8 780.4,948.7 782.1,944.2 783.4,939.8 784.8,944.2 786.5,943.4 788.3,939.8 791.0,939.8 792.7,943.7 794.9,950.1 797.2,949.6 798.9,944.2 800.4,950.4 802.5,955.4 806.0,954.9 809.6,957.9 813.1,956.6 816.6,959.3 822.8,959.6 829.9,959.3 837.0,959.3 842.3,957.2 847.6,956.6 854.7,957.5 863.5,957.5 870.6,958.4 877.7,961.1 884.8,962.0 893.6,962.5 902.5,962.0 911.3,962.0 916.6,963.2 922.0,962.0 924.6,960.7 928.1,963.2 933.5,964.2 938.8,962.5 945.0,963.7 957.7,963.7 966.5,963.7 974.5,962.0 977.5,956.6 981.6,953.1 984.6,947.8 986.9,946.0 989.6,946.9 992.2,950.8 995.8,951.9 998.4,955.8 1001.1,959.6 1006.4,961.4 1014.3,962.0 1023.2,962.0 1033.8,961.1 1044.4,960.2 1053.3,958.4 1060.3,956.1 1065.7,953.6 1072.7,952.6 1078.9,950.8 1082.5,946.0 1086.9,944.8 1089.6,942.5 1091.9,937.2 1094.0,936.6 1096.1,940.7 1099.3,938.9 1101.4,939.8 1103.7,944.2 1106.4,945.5 1111.7,943.7 1116.1,942.5 1119.7,940.7 1125.8,940.2 1134.7,940.4 1143.5,941.2 1150.6,942.5 1155.9,944.8 1161.2,946.9 1166.5,947.8 1170.1,946.0 1173.6,942.0 1178.0,940.7 1179.8,932.7 1181.6,930.6 1183.4,936.3 1185.1,935.9 1186.9,928.3 1188.7,927.4 1190.4,933.6 1193.1,936.6 1196.6,936.6 1200.2,938.4 1204.6,935.9 1209.0,934.9 1212.6,928.3 1217.0,927.1 1220.5,923.5 1224.1,921.2 1227.6,913.3 1231.5,914.7 1235.0,910.6 1239.5,908.3 1243.9,906.5 1248.3,907.1 1252.7,907.1 1256.3,910.1 1259.8,910.6 1262.5,916.8 1266.9,922.1 1272.2,927.8 1278.4,932.4 1285.5,935.4 1292.6,937.2 1299.7,938.9 1308.5,939.5 1317.3,941.2 1326.2,943.7 1335.0,945.5 1343.9,946.0 1352.7,945.7 1361.6,945.5 1370.4,944.2 1379.3,941.6 1388.1,940.7 1397.0,940.2 1404.1,937.2 1410.3,934.2 1414.7,931.3 1420.0,929.6 1427.1,929.2 1435.9,930.1 1444.8,931.0 1453.6,930.1 1460.7,928.3 1466.9,924.8 1472.2,922.1 1477.5,921.2 1482.8,922.5 1488.1,925.3 1494.3,928.3 1501.4,929.6 1508.5,928.9 1514.2,927.5 1520.3,925.6 1523.9,922.6 1526.2,917.3 1529.2,919.0 1531.9,916.4 1533.6,911.4 1536.3,912.8 1540.7,912.0 1546.0,909.3 1551.3,904.0 1556.6,896.9 1562.0,889.8 1567.3,883.6 1572.6,878.3 1577.9,873.9 1583.2,867.7 1588.5,859.7 1593.8,850.0 1598.2,839.4 1601.2,827.9 1603.0,819.0 1605.8,815.5 1608.0,803.1 1609.7,791.6 1613.3,789.8 1615.9,781.9 1618.2,773.0 1620.3,770.9 1623.9,770.9 1626.5,773.9 1628.8,785.4 1631.3,801.3 1634.2,819.0 1637.2,835.0 1640.7,850.9 1644.2,863.3 1648.7,875.7 1653.1,887.2 1657.5,896.0 1662.0,903.1 1666.4,909.3 1669.0,910.7 1671.7,907.5 1674.3,911.1 1677.0,912.0 1678.8,904.9 1680.5,909.3 1683.2,917.3 1686.7,917.3 1689.4,924.3 1692.9,930.5 1698.2,935.0 1705.3,938.5 1714.2,941.1 1723.0,942.6 1731.9,942.9 1740.7,942.0 1749.6,939.7 1758.4,936.7 1765.5,933.2 1772.6,927.0 1779.7,918.1 1786.7,905.8 1790.6,896.9 1795.9,884.5 1801.2,873.9 1806.5,865.9 1811.9,860.6 1817.2,857.1 1821.6,857.1 1825.1,860.6 1829.6,868.6 1833.1,878.3 1836.6,889.8 1840.2,902.2 1843.7,912.0 1848.1,921.7 1853.5,930.5 1859.7,937.3 1866.7,942.6 1873.8,946.5 1882.7,950.9 1893.3,953.9 1903.9,956.2 1914.5,958.0 1925.1,960.3 1939.3,962.4 1953.5,964.5 1967.6,966.3 1981.8,968.0 1995.9,969.5 2010.1,970.4 2022.5,970.9" fill="none" stroke="#050505" stroke-width="2.8" stroke-linejoin="round" stroke-linecap="round"/>
</g>
<g id="panel-b">
<line x1="729.8" y1="1414.9" x2="1498.2" y2="1414.9" stroke="#2a2a2a" stroke-width="1.7"/>
<line x1="1114.0" y1="1164.8" x2="1114.0" y2="1665.0" stroke="#2a2a2a" stroke-width="1.7"/>
<line x1="729.8" y1="1404.9" x2="729.8" y2="1424.9" stroke="#2a2a2a" stroke-width="1.7"/>
<line x1="921.9" y1="1404.9" x2="921.9" y2="1424.9" stroke="#2a2a2a" stroke-width="1.7"/>
<line x1="1306.1" y1="1404.9" x2="1306.1" y2="1424.9" stroke="#2a2a2a" stroke-width="1.7"/>
<line x1="1498.2" y1="1404.9" x2="1498.2" y2="1424.9" stroke="#2a2a2a" stroke-width="1.7"/>
<line x1="1103.5" y1="1665.0" x2="1124.5" y2="1665.0" stroke="#2a2a2a" stroke-width="1.7"/>
<line x1="1103.5" y1="1540.0" x2="1124.5" y2="1540.0" stroke="#2a2a2a" stroke-width="1.7"/>
<line x1="1103.5" y1="1289.8" x2="1124.5" y2="1289.8" stroke="#2a2a2a" stroke-width="1.7"/>
<line x1="1103.5" y1="1164.8" x2="1124.5" y2="1164.8" stroke="#2a2a2a" stroke-width="1.7"/>
<text x="730.4" y="1466.6" font-family='"Liberation Serif", serif' font-size="30.6" text-anchor="middle" fill="#111">-100</text>
<text x="922.5" y="1466.6" font-family='"Liberation Serif", serif' font-size="30.6" text-anchor="middle" fill="#111">-50</text>
<text x="1114.0" y="1466.6" font-family='"Liberation Serif", serif' font-size="30.6" text-anchor="middle" fill="#111">0</text>
<text x="1306.1" y="1466.6" font-family='"Liberation Serif", serif' font-size="30.6" text-anchor="middle" fill="#111">50</text>
<text x="1498.2" y="1466.6" font-family='"Liberation Serif", serif' font-size="30.6" text-anchor="middle" fill="#111">100</text>
<text x="1083.5" y="1173.8" font-family='"Liberation Serif", serif' font-size="30.6" text-anchor="end" fill="#111">70</text>
<text x="1083.5" y="1298.8" font-family='"Liberation Serif", serif' font-size="30.6" text-anchor="end" fill="#111">35</text>
<text x="1083.5" y="1423.9" font-family='"Liberation Serif", serif' font-size="30.6" text-anchor="end" fill="#111">0</text>
<text x="1083.5" y="1549.0" font-family='"Liberation Serif", serif' font-size="30.6" text-anchor="end" fill="#111">-35</text>
<text x="1083.5" y="1674.0" font-family='"Liberation Serif", serif' font-size="30.6" text-anchor="end" fill="#111">-70</text>
<text x="1114.5" y="1708.0" font-family='"Liberation Serif", serif' font-size="37" text-anchor="middle" fill="#111">t[1]</text>
<text transform="translate(718.2,1409.6) rotate(-90)" font-family='"Liberation Serif", serif' font-size="35.5" text-anchor="middle" fill="#111">t0[1]</text>
<circle cx="967.3" cy="1195.3" r="12.5" fill="#fff" stroke="#000" stroke-width="2.4"/>
<circle cx="949.2" cy="1221.9" r="12.5" fill="#fff" stroke="#000" stroke-width="2.4"/>
<circle cx="941" cy="1332" r="12.5" fill="#fff" stroke="#000" stroke-width="2.4"/>
<circle cx="987.3" cy="1464.3" r="12.5" fill="#fff" stroke="#000" stroke-width="2.4"/>
<circle cx="1003.2" cy="1526.4" r="12.5" fill="#fff" stroke="#000" stroke-width="2.4"/>
<circle cx="906.5" cy="1577.9" r="12.5" fill="#fff" stroke="#000" stroke-width="2.4"/>
<circle cx="949.6" cy="1593.8" r="12.5" fill="#fff" stroke="#000" stroke-width="2.4"/>
<circle cx="1259.1" cy="1315" r="13.7" fill="#000"/>
<circle cx="1363.5" cy="1398.0" r="13.7" fill="#000"/>
<circle cx="1402.0" cy="1430.6" r="13.7" fill="#000"/>
<circle cx="1428.5" cy="1447.2" r="13.7" fill="#000"/>
<circle cx="1215.6" cy="1486.6" r="13.7" fill="#000"/>
</g>
<g id="panel-c">
<line x1="30.7" y1="2353.4" x2="1896.2" y2="2353.4" stroke="#000" stroke-width="2.2"/>
<line x1="1896.2" y1="1843.4" x2="1896.2" y2="2863.4" stroke="#000" stroke-width="2.2"/>
<line x1="177.7" y1="2342.4" x2="177.7" y2="2364.4" stroke="#000" stroke-width="2"/>
<line x1="423.2" y1="2342.4" x2="423.2" y2="2364.4" stroke="#000" stroke-width="2"/>
<line x1="668.7" y1="2342.4" x2="668.7" y2="2364.4" stroke="#000" stroke-width="2"/>
<line x1="914.2" y1="2342.4" x2="914.2" y2="2364.4" stroke="#000" stroke-width="2"/>
<line x1="1159.7" y1="2342.4" x2="1159.7" y2="2364.4" stroke="#000" stroke-width="2"/>
<line x1="1405.2" y1="2342.4" x2="1405.2" y2="2364.4" stroke="#000" stroke-width="2"/>
<line x1="1650.7" y1="2342.4" x2="1650.7" y2="2364.4" stroke="#000" stroke-width="2"/>
<polyline points="38.6,2361.2 39.5,2358.7 40.6,2361.6 41.8,2358.8 43.0,2360.5" fill="none" stroke="#00b0f0" stroke-width="4.8" stroke-linejoin="round" stroke-linecap="round"/>
<polyline points="43.0,2360.5 44.2,2357.8 45.4,2361.1 46.5,2357.6 47.8,2360.2 49.1,2357.0" fill="none" stroke="#92d050" stroke-width="4.8" stroke-linejoin="round" stroke-linecap="round"/>
<polyline points="49.1,2357.0 50.3,2359.7 51.6,2357.0 52.9,2359.9 54.1,2357.9 55.4,2359.5 56.5,2357.9" fill="none" stroke="#ffff00" stroke-width="4.8" stroke-linejoin="round" stroke-linecap="round"/>
<polyline points="56.5,2357.9 57.6,2361.0 58.7,2358.6 59.8,2361.2 60.9,2358.5 62.0,2361.5 63.1,2359.1" fill="none" stroke="#00b050" stroke-width="4.8" stroke-linejoin="round" stroke-linecap="round"/>
<polyline points="63.1,2359.1 64.2,2361.6 65.5,2360.2 66.8,2362.0 68.0,2359.6 69.3,2362.6 70.6,2360.3" fill="none" stroke="#92d050" stroke-width="4.8" stroke-linejoin="round" stroke-linecap="round"/>
<polyline points="70.6,2360.3 71.8,2363.0 73.1,2360.4" fill="none" stroke="#00b050" stroke-width="4.8" stroke-linejoin="round" stroke-linecap="round"/>
<polyline points="74.0,2363.5 74.9,2361.4" fill="none" stroke="#00b050" stroke-width="4.8" stroke-linejoin="round" stroke-linecap="round"/>
<polyline points="75.8,2365.5 76.6,2363.6" fill="none" stroke="#00b050" stroke-width="4.8" stroke-linejoin="round" stroke-linecap="round"/>
<polyline points="90.8,2364.8 91.0,2364.9" fill="none" stroke="#ffff00" stroke-width="4.8" stroke-linejoin="round" stroke-linecap="round"/>
<polyline points="108.9,2356.6 109.4,2355.2" fill="none" stroke="#00b0f0" stroke-width="4.8" stroke-linejoin="round" stroke-linecap="round"/>
<polyline points="109.8,2358.3 110.3,2357.2" fill="none" stroke="#00b0f0" stroke-width="4.8" stroke-linejoin="round" stroke-linecap="round"/>
<polyline points="110.7,2361.5 111.2,2360.0" fill="none" stroke="#00b0f0" stroke-width="4.8" stroke-linejoin="round" stroke-linecap="round"/>
<polyline points="111.9,2363.0 112.6,2361.2" fill="none" stroke="#00b0f0" stroke-width="4.8" stroke-linejoin="round" stroke-linecap="round"/>
<polyline points="137.7,2364.0 138.6,2365.6" fill="none" stroke="#92d050" stroke-width="4.8" stroke-linejoin="round" stroke-linecap="round"/>
<polyline points="139.3,2362.5 140.0,2363.8" fill="none" stroke="#92d050" stroke-width="4.8" stroke-linejoin="round" stroke-linecap="round"/>
<polyline points="140.7,2360.4 141.4,2360.9" fill="none" stroke="#00b050" stroke-width="4.8" stroke-linejoin="round" stroke-linecap="round"/>
<polyline points="142.1,2358.1 142.3,2357.8" fill="none" stroke="#00b050" stroke-width="4.8" stroke-linejoin="round" stroke-linecap="round"/>
<polyline points="157.6,2361.1 158.1,2360.3" fill="none" stroke="#ffff00" stroke-width="4.8" stroke-linejoin="round" stroke-linecap="round"/>
<polyline points="158.5,2363.4 158.9,2363.1" fill="none" stroke="#ffff00" stroke-width="4.8" stroke-linejoin="round" stroke-linecap="round"/>
<polyline points="159.4,2365.8 159.8,2365.3 160.7,2368.2" fill="none" stroke="#ffff00" stroke-width="4.8" stroke-linejoin="round" stroke-linecap="round"/>
<polyline points="169.6,2363.4 170.4,2365.3 171.3,2362.5 172.2,2363.4 172.9,2362.5" fill="none" stroke="#00b050" stroke-width="4.8" stroke-linejoin="round" stroke-linecap="round"/>
<polyline points="173.7,2365.7 174.4,2363.9" fill="none" stroke="#00b050" stroke-width="4.8" stroke-linejoin="round" stroke-linecap="round"/>
<polyline points="179.3,2364.7 180.2,2366.0" fill="none" stroke="#00b0f0" stroke-width="4.8" stroke-linejoin="round" stroke-linecap="round"/>
<polyline points="181.1,2363.0 182.1,2366.0" fill="none" stroke="#00b0f0" stroke-width="4.8" stroke-linejoin="round" stroke-linecap="round"/>
<polyline points="183.2,2361.8 184.2,2364.9 185.3,2361.9 186.4,2363.8 187.3,2362.6" fill="none" stroke="#92d050" stroke-width="4.8" stroke-linejoin="round" stroke-linecap="round"/>
<polyline points="188.1,2366.1 189.0,2363.8" fill="none" stroke="#92d050" stroke-width="4.8" stroke-linejoin="round" stroke-linecap="round"/>
<polyline points="197.0,2362.6 198.1,2366.0 199.1,2363.4 200.2,2365.7 201.2,2363.2 202.3,2365.1 203.2,2364.1" fill="none" stroke="#00b050" stroke-width="4.8" stroke-linejoin="round" stroke-linecap="round"/>
<polyline points="203.2,2364.1 204.1,2366.3 205.0,2364.6" fill="none" stroke="#92d050" stroke-width="4.8" stroke-linejoin="round" stroke-linecap="round"/>
<polyline points="208.2,2357.4 208.5,2358.3" fill="none" stroke="#92d050" stroke-width="4.8" stroke-linejoin="round" stroke-linecap="round"/>
<polyline points="216.8,2355.5 217.3,2355.7" fill="none" stroke="#00b050" stroke-width="4.8" stroke-linejoin="round" stroke-linecap="round"/>
<polyline points="217.9,2358.8 218.4,2357.5" fill="none" stroke="#92d050" stroke-width="4.8" stroke-linejoin="round" stroke-linecap="round"/>
<polyline points="220.0,2363.9 221.1,2361.7" fill="none" stroke="#92d050" stroke-width="4.8" stroke-linejoin="round" stroke-linecap="round"/>
<polyline points="222.1,2365.7 223.2,2363.9 224.2,2366.7" fill="none" stroke="#92d050" stroke-width="4.8" stroke-linejoin="round" stroke-linecap="round"/>
<polyline points="267.3,2356.0 267.8,2354.7" fill="none" stroke="#00b050" stroke-width="4.8" stroke-linejoin="round" stroke-linecap="round"/>
<polyline points="268.5,2357.8 269.2,2356.3" fill="none" stroke="#00b050" stroke-width="4.8" stroke-linejoin="round" stroke-linecap="round"/>
<polyline points="269.9,2359.2 270.6,2357.3" fill="none" stroke="#00b050" stroke-width="4.8" stroke-linejoin="round" stroke-linecap="round"/>
<polyline points="271.3,2361.3 272.2,2358.9" fill="none" stroke="#00b050" stroke-width="4.8" stroke-linejoin="round" stroke-linecap="round"/>
<polyline points="277.7,2355.6 277.9,2355.7" fill="none" stroke="#92d050" stroke-width="4.8" stroke-linejoin="round" stroke-linecap="round"/>
<polyline points="299.5,2356.8 299.8,2356.1" fill="none" stroke="#ffff00" stroke-width="4.8" stroke-linejoin="round" stroke-linecap="round"/>
<polyline points="301.7,2361.8 302.4,2360.1" fill="none" stroke="#92d050" stroke-width="4.8" stroke-linejoin="round" stroke-linecap="round"/>
<polyline points="304.2,2364.9 305.1,2363.0" fill="none" stroke="#92d050" stroke-width="4.8" stroke-linejoin="round" stroke-linecap="round"/>
<polyline points="352.0,2375.3 352.2,2375.1" fill="none" stroke="#00b050" stroke-width="4.8" stroke-linejoin="round" stroke-linecap="round"/>
<polyline points="386.1,2353.8 386.5,2353.1" fill="none" stroke="#00b0f0" stroke-width="4.8" stroke-linejoin="round" stroke-linecap="round"/>
<polyline points="387.0,2356.1 387.4,2355.6" fill="none" stroke="#00b0f0" stroke-width="4.8" stroke-linejoin="round" stroke-linecap="round"/>
<polyline points="387.9,2358.5 388.3,2357.6" fill="none" stroke="#00b0f0" stroke-width="4.8" stroke-linejoin="round" stroke-linecap="round"/>
<polyline points="389.8,2362.8 390.3,2361.4" fill="none" stroke="#00b0f0" stroke-width="4.8" stroke-linejoin="round" stroke-linecap="round"/>
<polyline points="392.6,2363.9 393.3,2364.4" fill="none" stroke="#92d050" stroke-width="4.8" stroke-linejoin="round" stroke-linecap="round"/>
<polyline points="394.0,2360.9 394.7,2362.9" fill="none" stroke="#92d050" stroke-width="4.8" stroke-linejoin="round" stroke-linecap="round"/>
<polyline points="395.4,2359.5 395.7,2359.3" fill="none" stroke="#92d050" stroke-width="4.8" stroke-linejoin="round" stroke-linecap="round"/>
<polyline points="419.7,2361.3 420.2,2359.9" fill="none" stroke="#92d050" stroke-width="4.8" stroke-linejoin="round" stroke-linecap="round"/>
<polyline points="420.6,2364.1 421.1,2362.7" fill="none" stroke="#00b050" stroke-width="4.8" stroke-linejoin="round" stroke-linecap="round"/>
<polyline points="421.9,2366.7 422.8,2364.6" fill="none" stroke="#00b050" stroke-width="4.8" stroke-linejoin="round" stroke-linecap="round"/>
<polyline points="423.7,2368.0 424.6,2365.9" fill="none" stroke="#00b050" stroke-width="4.8" stroke-linejoin="round" stroke-linecap="round"/>
<polyline points="473.3,2355.2 473.6,2354.8" fill="none" stroke="#ffff00" stroke-width="4.8" stroke-linejoin="round" stroke-linecap="round"/>
<polyline points="475.9,2365.1 476.8,2362.9" fill="none" stroke="#ffff00" stroke-width="4.8" stroke-linejoin="round" stroke-linecap="round"/>
<polyline points="497.6,2359.6 498.3,2360.7" fill="none" stroke="#92d050" stroke-width="4.8" stroke-linejoin="round" stroke-linecap="round"/>
<polyline points="521.5,2369.0 522.0,2369.9" fill="none" stroke="#00b050" stroke-width="4.8" stroke-linejoin="round" stroke-linecap="round"/>
<polyline points="563.3,2347.0 563.6,2346.4" fill="none" stroke="#00b050" stroke-width="4.8" stroke-linejoin="round" stroke-linecap="round"/>
<polyline points="572.5,2368.8 573.1,2370.4 573.6,2369.7" fill="none" stroke="#92d050" stroke-width="4.8" stroke-linejoin="round" stroke-linecap="round"/>
<polyline points="574.2,2372.4 574.7,2370.6" fill="none" stroke="#ffff00" stroke-width="4.8" stroke-linejoin="round" stroke-linecap="round"/>
<polyline points="589.6,2362.5 590.1,2364.2" fill="none" stroke="#00b050" stroke-width="4.8" stroke-linejoin="round" stroke-linecap="round"/>
<polyline points="593.4,2357.9 594.1,2359.9" fill="none" stroke="#00b050" stroke-width="4.8" stroke-linejoin="round" stroke-linecap="round"/>
<polyline points="594.7,2355.9 595.4,2357.0" fill="none" stroke="#00b050" stroke-width="4.8" stroke-linejoin="round" stroke-linecap="round"/>
<polyline points="596.0,2354.7 596.7,2355.9" fill="none" stroke="#00b0f0" stroke-width="4.8" stroke-linejoin="round" stroke-linecap="round"/>
<polyline points="602.7,2353.5 603.1,2352.8" fill="none" stroke="#92d050" stroke-width="4.8" stroke-linejoin="round" stroke-linecap="round"/>
<polyline points="616.0,2355.1 616.5,2356.4" fill="none" stroke="#00b050" stroke-width="4.8" stroke-linejoin="round" stroke-linecap="round"/>
<polyline points="629.9,2356.3 630.6,2354.2" fill="none" stroke="#92d050" stroke-width="4.8" stroke-linejoin="round" stroke-linecap="round"/>
<polyline points="630.6,2354.2 631.5,2356.9 632.4,2354.5" fill="none" stroke="#00b050" stroke-width="4.8" stroke-linejoin="round" stroke-linecap="round"/>
<polyline points="633.3,2358.8 634.2,2356.0 634.9,2357.1" fill="none" stroke="#00b050" stroke-width="4.8" stroke-linejoin="round" stroke-linecap="round"/>
<polyline points="661.8,2355.1 662.5,2354.3" fill="none" stroke="#00b050" stroke-width="4.8" stroke-linejoin="round" stroke-linecap="round"/>
<polyline points="666.2,2361.0 666.9,2360.0 668.0,2361.3 669.1,2358.6 670.2,2361.1" fill="none" stroke="#00b0f0" stroke-width="4.8" stroke-linejoin="round" stroke-linecap="round"/>
<polyline points="671.3,2357.1 672.4,2360.3" fill="none" stroke="#00b0f0" stroke-width="4.8" stroke-linejoin="round" stroke-linecap="round"/>
<polyline points="672.4,2360.3 673.5,2356.8 674.5,2359.7 675.6,2356.3 676.6,2358.7" fill="none" stroke="#92d050" stroke-width="4.8" stroke-linejoin="round" stroke-linecap="round"/>
<polyline points="677.4,2355.6 678.1,2357.2" fill="none" stroke="#92d050" stroke-width="4.8" stroke-linejoin="round" stroke-linecap="round"/>
<polyline points="678.8,2353.6 679.6,2355.6" fill="none" stroke="#92d050" stroke-width="4.8" stroke-linejoin="round" stroke-linecap="round"/>
<polyline points="714.5,2352.0 715.6,2355.3 716.5,2353.4" fill="none" stroke="#ffff00" stroke-width="4.8" stroke-linejoin="round" stroke-linecap="round"/>
<polyline points="717.3,2356.5 718.2,2354.8" fill="none" stroke="#ffff00" stroke-width="4.8" stroke-linejoin="round" stroke-linecap="round"/>
<polyline points="719.1,2359.2 720.0,2357.2 720.9,2359.8 722.1,2357.9" fill="none" stroke="#ffff00" stroke-width="4.8" stroke-linejoin="round" stroke-linecap="round"/>
<polyline points="722.1,2357.9 723.2,2360.3 724.4,2357.5 725.6,2360.0 726.8,2357.3 728.0,2360.7 729.1,2358.0" fill="none" stroke="#92d050" stroke-width="4.8" stroke-linejoin="round" stroke-linecap="round"/>
<polyline points="729.1,2358.0 730.3,2360.6 731.5,2358.0 732.7,2361.3 733.9,2358.8 735.0,2361.8" fill="none" stroke="#00b050" stroke-width="4.8" stroke-linejoin="round" stroke-linecap="round"/>
<polyline points="735.0,2361.8 735.9,2360.7" fill="none" stroke="#00b0f0" stroke-width="4.8" stroke-linejoin="round" stroke-linecap="round"/>
<polyline points="736.8,2364.3 737.7,2362.4" fill="none" stroke="#00b0f0" stroke-width="4.8" stroke-linejoin="round" stroke-linecap="round"/>
<polyline points="790.3,2364.4 791.1,2364.0" fill="none" stroke="#ffff00" stroke-width="4.8" stroke-linejoin="round" stroke-linecap="round"/>
<polyline points="800.5,2359.6 801.4,2361.0" fill="none" stroke="#00b050" stroke-width="4.8" stroke-linejoin="round" stroke-linecap="round"/>
<polyline points="802.3,2357.8 803.2,2359.5" fill="none" stroke="#00b050" stroke-width="4.8" stroke-linejoin="round" stroke-linecap="round"/>
<polyline points="804.1,2355.4 805.1,2357.7" fill="none" stroke="#00b050" stroke-width="4.8" stroke-linejoin="round" stroke-linecap="round"/>
<polyline points="805.1,2357.7 806.2,2354.5 807.3,2357.3" fill="none" stroke="#00b0f0" stroke-width="4.8" stroke-linejoin="round" stroke-linecap="round"/>
<polyline points="808.3,2353.4 809.4,2356.3 810.4,2353.8 811.5,2357.2 812.6,2355.6" fill="none" stroke="#00b0f0" stroke-width="4.8" stroke-linejoin="round" stroke-linecap="round"/>
<polyline points="812.6,2355.6 813.6,2358.6 814.7,2356.4 815.8,2358.8 816.8,2356.8 817.9,2359.3 818.9,2356.4 820.0,2358.1" fill="none" stroke="#92d050" stroke-width="4.8" stroke-linejoin="round" stroke-linecap="round"/>
<polyline points="820.0,2358.1 820.9,2355.9 821.8,2357.4" fill="none" stroke="#ffff00" stroke-width="4.8" stroke-linejoin="round" stroke-linecap="round"/>
<polyline points="822.7,2354.2 823.5,2356.6" fill="none" stroke="#ffff00" stroke-width="4.8" stroke-linejoin="round" stroke-linecap="round"/>
<polyline points="825.9,2359.6 826.5,2359.0" fill="none" stroke="#ffff00" stroke-width="4.8" stroke-linejoin="round" stroke-linecap="round"/>
<polyline points="827.1,2362.2 828.1,2359.5 829.2,2362.8 830.3,2360.9 831.3,2363.5 832.4,2361.1 833.5,2364.0" fill="none" stroke="#00b050" stroke-width="4.8" stroke-linejoin="round" stroke-linecap="round"/>
<polyline points="833.5,2364.0 834.5,2360.6 835.6,2363.9" fill="none" stroke="#92d050" stroke-width="4.8" stroke-linejoin="round" stroke-linecap="round"/>
<polyline points="836.6,2360.3 837.7,2362.6 838.9,2359.8 840.1,2362.5" fill="none" stroke="#92d050" stroke-width="4.8" stroke-linejoin="round" stroke-linecap="round"/>
<polyline points="840.1,2362.5 841.2,2359.8 842.4,2362.3 843.6,2359.3 844.8,2361.8 845.7,2360.7 846.5,2363.6 847.4,2362.6" fill="none" stroke="#00b050" stroke-width="4.8" stroke-linejoin="round" stroke-linecap="round"/>
<polyline points="850.1,2365.4 851.0,2362.6 851.9,2365.1" fill="none" stroke="#92d050" stroke-width="4.8" stroke-linejoin="round" stroke-linecap="round"/>
<polyline points="852.7,2361.0 853.6,2362.7 854.8,2359.9" fill="none" stroke="#92d050" stroke-width="4.8" stroke-linejoin="round" stroke-linecap="round"/>
<polyline points="854.8,2359.9 856.0,2363.2 857.2,2359.7 858.3,2362.5 859.5,2360.4 860.7,2363.5 861.9,2359.8" fill="none" stroke="#ffff00" stroke-width="4.8" stroke-linejoin="round" stroke-linecap="round"/>
<polyline points="861.9,2359.8 863.1,2363.3 864.2,2360.5 865.4,2362.2 866.6,2360.1 867.8,2361.8 868.8,2358.5" fill="none" stroke="#92d050" stroke-width="4.8" stroke-linejoin="round" stroke-linecap="round"/>
<polyline points="868.8,2358.5 869.9,2361.6" fill="none" stroke="#00b050" stroke-width="4.8" stroke-linejoin="round" stroke-linecap="round"/>
<polyline points="871.0,2357.8 872.0,2360.6 873.1,2357.2 873.4,2357.8" fill="none" stroke="#00b050" stroke-width="4.8" stroke-linejoin="round" stroke-linecap="round"/>
<polyline points="898.8,2355.5 899.2,2355.0" fill="none" stroke="#00b050" stroke-width="4.8" stroke-linejoin="round" stroke-linecap="round"/>
<polyline points="899.6,2359.3 900.1,2358.3" fill="none" stroke="#00b050" stroke-width="4.8" stroke-linejoin="round" stroke-linecap="round"/>
<polyline points="900.5,2361.1 901.0,2360.2" fill="none" stroke="#00b050" stroke-width="4.8" stroke-linejoin="round" stroke-linecap="round"/>
<polyline points="901.4,2364.0 902.3,2361.7" fill="none" stroke="#00b050" stroke-width="4.8" stroke-linejoin="round" stroke-linecap="round"/>
<polyline points="977.9,2357.6 978.6,2359.4" fill="none" stroke="#92d050" stroke-width="4.8" stroke-linejoin="round" stroke-linecap="round"/>
<polyline points="979.3,2355.4 980.0,2357.0" fill="none" stroke="#92d050" stroke-width="4.8" stroke-linejoin="round" stroke-linecap="round"/>
<polyline points="980.7,2353.6 981.4,2355.2" fill="none" stroke="#00b050" stroke-width="4.8" stroke-linejoin="round" stroke-linecap="round"/>
<polyline points="982.1,2351.6 982.7,2353.5" fill="none" stroke="#00b050" stroke-width="4.8" stroke-linejoin="round" stroke-linecap="round"/>
<polyline points="983.4,2349.8 984.1,2351.5" fill="none" stroke="#00b050" stroke-width="4.8" stroke-linejoin="round" stroke-linecap="round"/>
<polyline points="999.8,2361.0 1000.2,2360.1" fill="none" stroke="#ffff00" stroke-width="4.8" stroke-linejoin="round" stroke-linecap="round"/>
<polyline points="1068.1,2359.0 1069.0,2360.4 1069.9,2358.5" fill="none" stroke="#ffff00" stroke-width="4.8" stroke-linejoin="round" stroke-linecap="round"/>
<polyline points="1093.4,2357.1 1093.8,2355.7" fill="none" stroke="#92d050" stroke-width="4.8" stroke-linejoin="round" stroke-linecap="round"/>
<polyline points="1094.5,2358.9 1095.1,2358.3" fill="none" stroke="#92d050" stroke-width="4.8" stroke-linejoin="round" stroke-linecap="round"/>
<polyline points="1095.8,2361.1 1096.5,2360.0 1096.9,2360.8" fill="none" stroke="#92d050" stroke-width="4.8" stroke-linejoin="round" stroke-linecap="round"/>
<polyline points="1097.3,2357.5 1097.8,2358.7" fill="none" stroke="#92d050" stroke-width="4.8" stroke-linejoin="round" stroke-linecap="round"/>
<polyline points="1098.2,2354.6 1098.7,2355.9" fill="none" stroke="#92d050" stroke-width="4.8" stroke-linejoin="round" stroke-linecap="round"/>
<polyline points="1099.6,2356.1 1100.2,2355.0" fill="none" stroke="#ffff00" stroke-width="4.8" stroke-linejoin="round" stroke-linecap="round"/>
<polyline points="1102.5,2357.2 1103.2,2358.5" fill="none" stroke="#ffff00" stroke-width="4.8" stroke-linejoin="round" stroke-linecap="round"/>
<polyline points="1105.8,2355.8 1106.4,2355.1" fill="none" stroke="#ffff00" stroke-width="4.8" stroke-linejoin="round" stroke-linecap="round"/>
<polyline points="1108.0,2360.2 1108.8,2358.4" fill="none" stroke="#00b050" stroke-width="4.8" stroke-linejoin="round" stroke-linecap="round"/>
<polyline points="1109.7,2362.1 1110.6,2359.8" fill="none" stroke="#00b050" stroke-width="4.8" stroke-linejoin="round" stroke-linecap="round"/>
<polyline points="1111.5,2364.2 1112.2,2362.8" fill="none" stroke="#00b050" stroke-width="4.8" stroke-linejoin="round" stroke-linecap="round"/>
<polyline points="1118.4,2367.9 1119.5,2365.4" fill="none" stroke="#92d050" stroke-width="4.8" stroke-linejoin="round" stroke-linecap="round"/>
<polyline points="1193.7,2359.6 1194.8,2362.4" fill="none" stroke="#00b050" stroke-width="4.8" stroke-linejoin="round" stroke-linecap="round"/>
<polyline points="1195.9,2358.7 1197.0,2361.4 1198.1,2358.1" fill="none" stroke="#00b050" stroke-width="4.8" stroke-linejoin="round" stroke-linecap="round"/>
<polyline points="1198.1,2358.1 1199.1,2360.5 1200.2,2358.2 1201.2,2360.6 1202.3,2358.8 1203.4,2362.0" fill="none" stroke="#92d050" stroke-width="4.8" stroke-linejoin="round" stroke-linecap="round"/>
<polyline points="1209.7,2361.5 1210.8,2359.5 1211.9,2360.7" fill="none" stroke="#ffff00" stroke-width="4.8" stroke-linejoin="round" stroke-linecap="round"/>
<polyline points="1211.9,2360.7 1213.0,2359.0" fill="none" stroke="#92d050" stroke-width="4.8" stroke-linejoin="round" stroke-linecap="round"/>
<polyline points="1271.0,2366.7 1272.0,2363.5 1273.1,2366.5 1274.2,2363.2" fill="none" stroke="#92d050" stroke-width="4.8" stroke-linejoin="round" stroke-linecap="round"/>
<polyline points="1274.2,2363.2 1275.4,2364.6 1276.5,2361.2 1277.3,2363.4" fill="none" stroke="#ffff00" stroke-width="4.8" stroke-linejoin="round" stroke-linecap="round"/>
<polyline points="1278.2,2359.9 1279.1,2361.3" fill="none" stroke="#ffff00" stroke-width="4.8" stroke-linejoin="round" stroke-linecap="round"/>
<polyline points="1281.8,2353.3 1282.2,2354.1" fill="none" stroke="#92d050" stroke-width="4.8" stroke-linejoin="round" stroke-linecap="round"/>
<polyline points="1282.7,2350.4 1283.5,2352.9 1284.4,2350.2 1285.3,2352.2" fill="none" stroke="#92d050" stroke-width="4.8" stroke-linejoin="round" stroke-linecap="round"/>
<polyline points="1301.2,2353.4 1302.1,2351.0" fill="none" stroke="#00b0f0" stroke-width="4.8" stroke-linejoin="round" stroke-linecap="round"/>
<polyline points="1303.0,2354.1 1303.9,2352.3" fill="none" stroke="#92d050" stroke-width="4.8" stroke-linejoin="round" stroke-linecap="round"/>
<polyline points="1304.8,2356.3 1305.7,2353.8" fill="none" stroke="#92d050" stroke-width="4.8" stroke-linejoin="round" stroke-linecap="round"/>
<polyline points="1306.5,2357.9 1307.4,2356.1" fill="none" stroke="#92d050" stroke-width="4.8" stroke-linejoin="round" stroke-linecap="round"/>
<polyline points="1308.3,2359.3 1309.2,2358.1" fill="none" stroke="#92d050" stroke-width="4.8" stroke-linejoin="round" stroke-linecap="round"/>
<polyline points="1310.1,2361.7 1311.0,2359.3" fill="none" stroke="#ffff00" stroke-width="4.8" stroke-linejoin="round" stroke-linecap="round"/>
<polyline points="1311.6,2363.5 1312.2,2361.9" fill="none" stroke="#ffff00" stroke-width="4.8" stroke-linejoin="round" stroke-linecap="round"/>
<polyline points="1312.9,2365.1 1313.5,2363.2" fill="none" stroke="#ffff00" stroke-width="4.8" stroke-linejoin="round" stroke-linecap="round"/>
<polyline points="1646.7,2363.7 1647.3,2365.1" fill="none" stroke="#00b0f0" stroke-width="4.8" stroke-linejoin="round" stroke-linecap="round"/>
<polyline points="1647.9,2362.6 1648.6,2364.1 1649.3,2362.4" fill="none" stroke="#00b0f0" stroke-width="4.8" stroke-linejoin="round" stroke-linecap="round"/>
<polyline points="1741.1,2360.3 1741.9,2362.2" fill="none" stroke="#00b050" stroke-width="4.8" stroke-linejoin="round" stroke-linecap="round"/>
<polyline points="1742.8,2358.5 1743.7,2360.7" fill="none" stroke="#00b050" stroke-width="4.8" stroke-linejoin="round" stroke-linecap="round"/>
<polyline points="1743.7,2360.7 1744.8,2357.7 1745.8,2360.0 1746.9,2357.1 1748.0,2358.6 1749.0,2355.9" fill="none" stroke="#92d050" stroke-width="4.8" stroke-linejoin="round" stroke-linecap="round"/>
<polyline points="1750.1,2359.7 1751.2,2357.0 1752.2,2360.5 1753.5,2357.0 1754.7,2359.5 1755.9,2356.1 1757.2,2358.5" fill="none" stroke="#00b050" stroke-width="4.8" stroke-linejoin="round" stroke-linecap="round"/>
<polyline points="1757.2,2358.5 1758.2,2356.7" fill="none" stroke="#92d050" stroke-width="4.8" stroke-linejoin="round" stroke-linecap="round"/>
<polyline points="1759.3,2360.4 1760.4,2358.3 1761.4,2361.7" fill="none" stroke="#92d050" stroke-width="4.8" stroke-linejoin="round" stroke-linecap="round"/>
<polyline points="1762.4,2358.3 1763.4,2360.4 1764.4,2357.3" fill="none" stroke="#92d050" stroke-width="4.8" stroke-linejoin="round" stroke-linecap="round"/>
<polyline points="1764.4,2357.3 1765.4,2359.9 1766.4,2356.8 1767.6,2358.7 1768.8,2355.8 1770.1,2358.2 1771.3,2354.6" fill="none" stroke="#ffff00" stroke-width="4.8" stroke-linejoin="round" stroke-linecap="round"/>
<polyline points="1772.2,2358.4 1773.1,2356.4" fill="none" stroke="#92d050" stroke-width="4.8" stroke-linejoin="round" stroke-linecap="round"/>
<polyline points="1774.0,2360.3 1774.9,2358.6" fill="none" stroke="#92d050" stroke-width="4.8" stroke-linejoin="round" stroke-linecap="round"/>
<polyline points="1775.3,2362.0 1775.8,2360.7" fill="none" stroke="#92d050" stroke-width="4.8" stroke-linejoin="round" stroke-linecap="round"/>
<polyline points="1780.9,2366.7 1781.9,2363.4" fill="none" stroke="#00b050" stroke-width="4.8" stroke-linejoin="round" stroke-linecap="round"/>
<polyline points="1834.1,2360.5 1835.2,2362.0 1836.3,2359.0 1837.5,2362.1" fill="none" stroke="#ffff00" stroke-width="4.8" stroke-linejoin="round" stroke-linecap="round"/>
<polyline points="1838.6,2358.0 1839.5,2360.7 1840.5,2357.5 1841.4,2359.0" fill="none" stroke="#ffff00" stroke-width="4.8" stroke-linejoin="round" stroke-linecap="round"/>
<polyline points="1841.4,2359.0 1842.4,2356.0 1843.3,2358.0 1844.2,2355.5 1845.4,2356.7 1846.5,2354.8 1847.6,2356.7 1848.8,2353.8" fill="none" stroke="#92d050" stroke-width="4.8" stroke-linejoin="round" stroke-linecap="round"/>
<polyline points="1848.8,2353.8 1849.9,2356.2 1851.0,2353.2 1852.2,2355.5 1853.3,2352.5 1854.4,2353.9 1855.6,2351.2" fill="none" stroke="#00b050" stroke-width="4.8" stroke-linejoin="round" stroke-linecap="round"/>
<polyline points="1855.6,2351.2 1856.7,2354.0 1857.8,2351.5 1859.0,2354.2 1860.1,2352.7 1861.2,2355.3 1862.3,2352.1" fill="none" stroke="#00b0f0" stroke-width="4.8" stroke-linejoin="round" stroke-linecap="round"/>
<polyline points="1863.4,2355.7 1864.4,2352.4 1865.5,2355.1" fill="none" stroke="#92d050" stroke-width="4.8" stroke-linejoin="round" stroke-linecap="round"/>
<polyline points="1868.3,2353.3 1869.3,2351.1" fill="none" stroke="#92d050" stroke-width="4.8" stroke-linejoin="round" stroke-linecap="round"/>
<polyline points="1870.2,2354.8 1871.2,2351.9" fill="none" stroke="#ffff00" stroke-width="4.8" stroke-linejoin="round" stroke-linecap="round"/>
<polyline points="1871.7,2355.2 1872.3,2354.7" fill="none" stroke="#ffff00" stroke-width="4.8" stroke-linejoin="round" stroke-linecap="round"/>
<polyline points="1874.1,2359.1 1874.7,2358.1" fill="none" stroke="#ffff00" stroke-width="4.8" stroke-linejoin="round" stroke-linecap="round"/>
<polyline points="1875.4,2361.7 1876.1,2360.0" fill="none" stroke="#ffff00" stroke-width="4.8" stroke-linejoin="round" stroke-linecap="round"/>
<polyline points="1876.8,2363.6 1877.5,2361.3" fill="none" stroke="#00b050" stroke-width="4.8" stroke-linejoin="round" stroke-linecap="round"/>
<polyline points="1878.2,2364.2 1879.1,2363.0" fill="none" stroke="#00b050" stroke-width="4.8" stroke-linejoin="round" stroke-linecap="round"/>
<polyline points="1883.9,2362.6 1884.6,2364.4" fill="none" stroke="#92d050" stroke-width="4.8" stroke-linejoin="round" stroke-linecap="round"/>
<polyline points="1885.3,2360.5 1886.4,2362.9 1887.4,2360.1 1888.5,2362.7" fill="none" stroke="#92d050" stroke-width="4.8" stroke-linejoin="round" stroke-linecap="round"/>
<polyline points="1890.6,2363.1 1891.7,2360.6 1892.7,2363.8 1893.8,2362.7 1894.9,2366.1 1895.9,2363.3" fill="none" stroke="#00b050" stroke-width="4.8" stroke-linejoin="round" stroke-linecap="round"/>
<polyline points="145.9,2322.1 146.0,2320.8 146.1,2319.5 146.2,2318.2 146.3,2316.9 146.4,2315.6 146.5,2314.3 148.3,2293.1 150.1,2287.8 151.9,2298.4 151.9,2299.6 152.0,2300.9 152.1,2302.1 152.2,2303.4 152.3,2304.6" fill="none" stroke="#ff0000" stroke-width="4.8" stroke-linejoin="round" stroke-linecap="round"/>
<polyline points="363.1,2283.9 363.1,2282.6 363.2,2281.4 363.2,2280.1 363.2,2278.8 363.3,2277.6 363.3,2276.3 363.3,2275.0 363.4,2273.8 363.4,2272.5 363.4,2271.3 363.4,2270.0 363.5,2268.7 363.5,2267.5 363.5,2266.2 364.8,2266.2 364.8,2267.5 364.9,2268.7 364.9,2270.0 364.9,2271.3 365.0,2272.5 365.0,2273.8 365.0,2275.0 365.1,2276.3 365.1,2277.6 365.2,2278.8 365.2,2280.1 365.2,2281.4 365.3,2282.6 365.3,2283.9" fill="none" stroke="#ff0000" stroke-width="4.8" stroke-linejoin="round" stroke-linecap="round"/>
<polyline points="372.5,2281.0 372.5,2279.7 372.5,2278.4 372.5,2277.1 372.6,2275.8 372.6,2274.6 372.6,2273.3 372.7,2272.0 372.7,2270.7 372.7,2269.4 372.7,2268.1 372.8,2266.8 372.8,2265.6 372.8,2264.3 372.8,2263.0 372.9,2261.7 372.9,2260.4 372.9,2259.1 374.7,2259.1 374.7,2260.4 374.7,2261.7 374.8,2263.0 374.8,2264.3 374.8,2265.6 374.9,2266.8 374.9,2268.1 374.9,2269.4 374.9,2270.7 375.0,2272.0 375.0,2273.3 375.0,2274.6 375.0,2275.8 375.1,2277.1 375.1,2278.4 375.1,2279.7 375.1,2281.0" fill="none" stroke="#ff0000" stroke-width="4.8" stroke-linejoin="round" stroke-linecap="round"/>
<polyline points="399.5,2315.5 399.6,2314.2 399.6,2313.0 399.7,2311.7 399.8,2310.4 399.8,2309.2 399.9,2307.9 399.9,2306.6 400.0,2305.4 400.1,2304.1 400.1,2302.9 400.2,2301.6 401.2,2264.4 404.8,2264.4 404.8,2265.7 404.9,2267.0 404.9,2268.3 405.0,2269.6 405.1,2270.9 405.1,2272.1 405.2,2273.4 405.2,2274.7 405.3,2276.0 405.3,2277.3 405.4,2278.6" fill="none" stroke="#ff0000" stroke-width="4.8" stroke-linejoin="round" stroke-linecap="round"/>
<polyline points="409.6,2306.6 409.7,2305.4 409.7,2304.1 409.8,2302.9 409.8,2301.6 409.8,2300.3 409.9,2299.1 409.9,2297.8 410.0,2296.5 410.0,2295.3 410.0,2294.0 410.1,2292.7 411.9,2289.2 413.6,2298.1 413.8,2299.3 413.9,2300.5 414.0,2301.8 414.1,2303.0 414.2,2304.2" fill="none" stroke="#ff0000" stroke-width="4.8" stroke-linejoin="round" stroke-linecap="round"/>
<polyline points="461.0,2326.7 461.2,2325.4 461.3,2324.1 461.4,2322.8 461.8,2321.6 462.1,2320.4 462.5,2319.1" fill="none" stroke="#ff0000" stroke-width="4.8" stroke-linejoin="round" stroke-linecap="round"/>
<polyline points="688.3,2329.7 688.5,2330.9 688.7,2332.0 689.0,2333.2" fill="none" stroke="#ff0000" stroke-width="4.8" stroke-linejoin="round" stroke-linecap="round"/>
<polyline points="1008.7,2367.4 1009.7,2365.5 1010.8,2366.9" fill="none" stroke="#ff0000" stroke-width="4.8" stroke-linejoin="round" stroke-linecap="round"/>
<polyline points="1043.8,2388.2 1044.2,2389.3 1044.7,2390.3 1045.1,2391.3 1045.6,2390.3 1046.0,2389.3 1046.5,2388.2" fill="none" stroke="#ff0000" stroke-width="4.8" stroke-linejoin="round" stroke-linecap="round"/>
<polyline points="1066.4,2365.2 1067.3,2362.6" fill="none" stroke="#ff0000" stroke-width="4.8" stroke-linejoin="round" stroke-linecap="round"/>
<polyline points="1131.2,2383.3 1131.9,2382.6 1132.9,2384.7 1134.0,2384.0 1135.0,2386.1 1136.1,2385.3 1137.2,2388.2 1142.5,2397.5 1146.9,2406.4 1149.6,2412.6 1152.2,2407.3 1156.6,2397.5 1161.9,2390.4 1169.0,2385.1 1169.9,2383.0 1170.8,2384.8 1171.7,2381.2 1172.6,2382.4 1173.5,2379.6 1174.3,2380.8" fill="none" stroke="#ff0000" stroke-width="4.8" stroke-linejoin="round" stroke-linecap="round"/>
<polyline points="1473.9,2472.2 1474.4,2473.3 1474.8,2474.3 1475.2,2475.4 1475.6,2476.6 1476.0,2477.8 1476.4,2479.0 1476.8,2480.2" fill="none" stroke="#ff0000" stroke-width="4.8" stroke-linejoin="round" stroke-linecap="round"/>
<polyline points="1479.3,2490.1 1479.6,2491.4 1479.9,2492.6 1480.1,2493.9 1480.4,2495.2 1480.7,2496.4 1483.2,2515.4 1483.5,2516.6 1483.8,2517.7 1484.0,2518.9 1484.3,2520.1 1484.6,2521.2" fill="none" stroke="#ff0000" stroke-width="4.8" stroke-linejoin="round" stroke-linecap="round"/>
<polyline points="1489.4,2545.4 1489.6,2546.5 1489.9,2547.7 1490.1,2548.9 1490.3,2550.0 1490.6,2551.2 1490.8,2552.4 1491.0,2553.5 1491.3,2554.7 1491.5,2555.9 1491.7,2557.1" fill="none" stroke="#ff0000" stroke-width="4.8" stroke-linejoin="round" stroke-linecap="round"/>
<polyline points="1495.5,2584.9 1495.6,2586.1 1495.7,2587.3 1495.8,2588.5 1495.9,2589.7 1496.1,2590.9 1496.2,2592.1 1496.3,2593.3 1499.0,2614.4 1502.2,2639.7 1505.3,2665.0 1507.4,2681.8 1508.9,2686.0 1510.6,2679.7 1512.3,2662.9 1513.7,2639.7 1513.9,2638.5 1514.0,2637.2 1514.1,2636.0 1514.2,2634.8 1514.4,2633.5 1514.5,2632.3" fill="none" stroke="#ff0000" stroke-width="4.8" stroke-linejoin="round" stroke-linecap="round"/>
<polyline points="1693.1,2438.1 1693.4,2439.3 1693.6,2440.5 1693.9,2441.8 1694.2,2443.0 1697.0,2452.9 1700.5,2461.4 1704.1,2465.0 1707.6,2460.0 1710.4,2448.7 1713.3,2434.5 1716.8,2418.9 1720.4,2406.2 1720.8,2405.0 1721.2,2403.8 1721.6,2402.6 1722.0,2401.3" fill="none" stroke="#ff0000" stroke-width="4.8" stroke-linejoin="round" stroke-linecap="round"/>
<polyline points="30.6,2362.1 31.5,2361.8 32.4,2364.0 33.3,2362.7 33.7,2363.5 34.2,2360.7" fill="none" stroke="#ffc000" stroke-width="4.8" stroke-linejoin="round" stroke-linecap="round"/>
<polyline points="145.1,2331.1 145.2,2329.8 145.3,2328.5 145.4,2327.2 145.5,2325.9 145.6,2324.6 145.8,2323.3 145.9,2322.1" fill="none" stroke="#ffc000" stroke-width="4.8" stroke-linejoin="round" stroke-linecap="round"/>
<polyline points="152.3,2304.6 152.4,2305.8 152.5,2307.1 152.6,2308.3 152.7,2309.6 152.7,2310.8 152.8,2312.1 152.9,2313.4 153.0,2314.7 153.1,2315.9 153.1,2317.2 153.2,2318.5" fill="none" stroke="#ffc000" stroke-width="4.8" stroke-linejoin="round" stroke-linecap="round"/>
<polyline points="233.6,2370.0 234.3,2373.4 235.0,2371.4 235.5,2374.5 236.1,2374.1 236.6,2376.5 237.1,2375.3 237.6,2379.2 238.1,2378.1 238.6,2381.2 239.1,2377.2 239.6,2379.0 240.1,2375.9 240.6,2376.9 241.1,2374.1 241.6,2374.3 242.1,2371.2 242.8,2372.9" fill="none" stroke="#ffc000" stroke-width="4.8" stroke-linejoin="round" stroke-linecap="round"/>
<polyline points="287.7,2195.4 287.7,2194.1 287.7,2192.9 287.8,2191.6 287.8,2190.3 287.8,2189.1 287.8,2187.8 287.8,2186.5 287.9,2185.3 287.9,2184.0 287.9,2182.8 287.9,2181.5 287.9,2180.2 287.9,2179.0 288.0,2177.7 288.7,2177.7 288.7,2179.0 288.7,2180.2 288.7,2181.5 288.8,2182.8 288.8,2184.0 288.8,2185.3 288.8,2186.5 288.9,2187.8 288.9,2189.1 288.9,2190.3 289.0,2191.6 289.0,2192.9 289.0,2194.1 289.0,2195.4" fill="none" stroke="#ffc000" stroke-width="4.8" stroke-linejoin="round" stroke-linecap="round"/>
<polyline points="293.3,2321.2 293.6,2318.2 295.0,2317.5 295.2,2318.8 295.3,2320.0 295.4,2321.2 295.5,2322.5 295.7,2323.7" fill="none" stroke="#ffc000" stroke-width="4.8" stroke-linejoin="round" stroke-linecap="round"/>
<polyline points="312.6,2372.3 313.1,2371.6 314.0,2372.8 314.9,2370.2 315.8,2371.6 316.6,2369.5 317.7,2371.2 318.8,2369.2" fill="none" stroke="#ffc000" stroke-width="4.8" stroke-linejoin="round" stroke-linecap="round"/>
<polyline points="323.3,2369.6 324.4,2372.4 325.5,2370.1 326.0,2374.2 326.5,2373.0 327.0,2375.6 327.5,2375.2 327.9,2378.3 328.4,2377.2 328.9,2379.8 329.4,2379.2 329.9,2382.7 331.0,2379.4 332.1,2381.2 333.2,2379.2" fill="none" stroke="#ffc000" stroke-width="4.8" stroke-linejoin="round" stroke-linecap="round"/>
<polyline points="362.4,2307.9 362.5,2306.6 362.5,2305.4 362.6,2304.1 362.6,2302.9 362.7,2301.6 362.7,2300.3 362.7,2299.1 362.7,2297.8 362.8,2296.5 362.8,2295.3 362.8,2294.0 362.9,2292.7 362.9,2291.5 362.9,2290.2 363.0,2289.0 363.0,2287.7 363.0,2286.4 363.1,2285.2 363.1,2283.9" fill="none" stroke="#ffc000" stroke-width="4.8" stroke-linejoin="round" stroke-linecap="round"/>
<polyline points="365.3,2283.9 365.3,2285.2 365.4,2286.4 365.4,2287.7 365.5,2289.0 365.5,2290.2 365.5,2291.5 365.6,2292.7 365.6,2294.0 365.7,2295.3 365.7,2296.5 365.7,2297.8 365.8,2299.1 365.8,2300.3 365.8,2301.6 365.9,2302.9 366.0,2304.1 366.0,2305.4 366.1,2306.6 366.1,2307.9" fill="none" stroke="#ffc000" stroke-width="4.8" stroke-linejoin="round" stroke-linecap="round"/>
<polyline points="371.6,2315.5 371.6,2314.2 371.7,2313.0 371.7,2311.7 371.7,2310.4 371.8,2309.2 371.8,2307.9 371.9,2306.6 371.9,2305.4 372.0,2304.1 372.0,2302.9 372.0,2301.6 372.1,2300.3 372.1,2299.0 372.1,2297.7 372.1,2296.4 372.2,2295.2 372.2,2293.9 372.2,2292.6 372.2,2291.3 372.3,2290.0 372.3,2288.7 372.3,2287.4 372.4,2286.1 372.4,2284.9 372.4,2283.6 372.4,2282.3 372.5,2281.0" fill="none" stroke="#ffc000" stroke-width="4.8" stroke-linejoin="round" stroke-linecap="round"/>
<polyline points="375.1,2281.0 375.2,2282.3 375.2,2283.6 375.2,2284.9 375.3,2286.1 375.3,2287.4 375.3,2288.7 375.3,2290.0 375.4,2291.3 375.4,2292.6 375.4,2293.9 375.4,2295.2 375.5,2296.4 375.5,2297.7 375.5,2299.0 375.5,2300.3 375.6,2301.6 375.7,2302.9 375.8,2304.1 375.8,2305.4 375.9,2306.6 376.0,2307.9 376.1,2309.2 376.2,2310.4" fill="none" stroke="#ffc000" stroke-width="4.8" stroke-linejoin="round" stroke-linecap="round"/>
<polyline points="398.8,2329.4 398.9,2328.1 399.0,2326.9 399.1,2325.6 399.1,2324.3 399.2,2323.1 399.2,2321.8 399.3,2320.6 399.4,2319.3 399.4,2318.0 399.5,2316.8 399.5,2315.5" fill="none" stroke="#ffc000" stroke-width="4.8" stroke-linejoin="round" stroke-linecap="round"/>
<polyline points="405.4,2278.6 405.5,2279.9 405.5,2281.2 405.6,2282.4 405.6,2283.7 405.7,2285.0 405.7,2286.3 405.8,2287.6 405.8,2288.9 405.9,2290.2 406.0,2291.5 406.0,2292.7 406.1,2294.0 406.1,2295.3 406.2,2296.5 406.3,2297.8 406.3,2299.1 406.4,2300.3 406.4,2301.6 406.5,2302.9 406.5,2304.1 406.6,2305.4 406.7,2306.6" fill="none" stroke="#ffc000" stroke-width="4.8" stroke-linejoin="round" stroke-linecap="round"/>
<polyline points="409.1,2321.8 409.1,2320.6 409.2,2319.3 409.2,2318.0 409.3,2316.8 409.3,2315.5 409.4,2314.2 409.4,2313.0 409.5,2311.7 409.5,2310.4 409.5,2309.2 409.6,2307.9 409.6,2306.6" fill="none" stroke="#ffc000" stroke-width="4.8" stroke-linejoin="round" stroke-linecap="round"/>
<polyline points="414.2,2304.2 414.4,2305.5 414.5,2306.7 414.6,2308.0 414.7,2309.2 414.9,2310.4 414.9,2311.7 415.0,2313.0 415.1,2314.2 415.1,2315.5" fill="none" stroke="#ffc000" stroke-width="4.8" stroke-linejoin="round" stroke-linecap="round"/>
<polyline points="460.0,2336.4 460.1,2335.7" fill="none" stroke="#ffc000" stroke-width="4.8" stroke-linejoin="round" stroke-linecap="round"/>
<polyline points="460.4,2333.1 460.5,2331.8 460.6,2330.6 460.8,2329.3 460.9,2328.0 461.0,2326.7" fill="none" stroke="#ffc000" stroke-width="4.8" stroke-linejoin="round" stroke-linecap="round"/>
<polyline points="462.5,2319.1 462.8,2317.9 463.2,2316.6 465.0,2322.8 465.1,2324.1 465.2,2325.3 465.3,2326.5 465.5,2327.8 465.6,2329.0" fill="none" stroke="#ffc000" stroke-width="4.8" stroke-linejoin="round" stroke-linecap="round"/>
<polyline points="644.4,2336.4 645.1,2336.8 645.8,2333.3 646.5,2334.5 646.9,2331.6 647.2,2332.8 647.5,2329.0 647.9,2330.2" fill="none" stroke="#ffc000" stroke-width="4.8" stroke-linejoin="round" stroke-linecap="round"/>
<polyline points="687.3,2323.8 687.5,2325.0 687.7,2326.1 687.9,2327.3 688.1,2328.5 688.3,2329.7" fill="none" stroke="#ffc000" stroke-width="4.8" stroke-linejoin="round" stroke-linecap="round"/>
<polyline points="689.0,2333.2 689.3,2334.4" fill="none" stroke="#ffc000" stroke-width="4.8" stroke-linejoin="round" stroke-linecap="round"/>
<polyline points="702.5,2325.0 702.7,2326.1 702.9,2327.3 703.2,2328.5 703.3,2329.7 703.5,2331.0 703.6,2332.2 703.8,2333.5 703.9,2334.7" fill="none" stroke="#ffc000" stroke-width="4.8" stroke-linejoin="round" stroke-linecap="round"/>
<polyline points="762.5,2370.1 763.4,2372.8 764.2,2371.2 765.1,2374.3 765.9,2371.0 766.6,2372.3 767.3,2369.6" fill="none" stroke="#ffc000" stroke-width="4.8" stroke-linejoin="round" stroke-linecap="round"/>
<polyline points="779.8,2369.8 780.5,2368.6 781.2,2371.8 781.9,2370.5 782.5,2372.2" fill="none" stroke="#ffc000" stroke-width="4.8" stroke-linejoin="round" stroke-linecap="round"/>
<polyline points="885.5,2317.9 885.8,2316.7 886.1,2315.5 886.4,2314.3 888.7,2311.7 890.4,2319.6 891.7,2330.3" fill="none" stroke="#ffc000" stroke-width="4.8" stroke-linejoin="round" stroke-linecap="round"/>
<polyline points="892.4,2332.1 893.2,2330.8" fill="none" stroke="#ffc000" stroke-width="4.8" stroke-linejoin="round" stroke-linecap="round"/>
<polyline points="1003.6,2361.9 1004.4,2364.5 1005.5,2363.2 1006.5,2365.6 1007.6,2364.2 1008.7,2367.4" fill="none" stroke="#ffc000" stroke-width="4.8" stroke-linejoin="round" stroke-linecap="round"/>
<polyline points="1010.8,2366.9 1011.9,2365.0 1013.1,2366.8" fill="none" stroke="#ffc000" stroke-width="4.8" stroke-linejoin="round" stroke-linecap="round"/>
<polyline points="1024.8,2366.9 1025.7,2370.7 1026.5,2369.5 1027.4,2371.9 1028.3,2370.5 1029.2,2373.5 1030.1,2372.1 1031.0,2375.4 1031.9,2374.0 1032.7,2377.0 1033.8,2375.9 1034.9,2379.2 1035.9,2377.6 1037.0,2379.9 1038.1,2378.7 1038.8,2381.6 1039.5,2381.0 1040.3,2383.2 1041.0,2382.6 1041.7,2385.8 1042.5,2383.9 1042.9,2386.2 1043.4,2387.2 1043.8,2388.2" fill="none" stroke="#ffc000" stroke-width="4.8" stroke-linejoin="round" stroke-linecap="round"/>
<polyline points="1046.5,2388.2 1046.9,2387.2 1047.3,2386.2 1047.8,2385.1 1048.5,2385.6 1049.2,2382.3 1049.9,2383.3 1050.6,2380.2 1051.3,2380.9 1052.1,2377.6 1052.8,2378.7 1053.5,2375.3" fill="none" stroke="#ffc000" stroke-width="4.8" stroke-linejoin="round" stroke-linecap="round"/>
<polyline points="1065.5,2364.1 1066.4,2365.2" fill="none" stroke="#ffc000" stroke-width="4.8" stroke-linejoin="round" stroke-linecap="round"/>
<polyline points="1067.3,2362.6 1067.4,2362.6 1067.5,2361.4" fill="none" stroke="#ffc000" stroke-width="4.8" stroke-linejoin="round" stroke-linecap="round"/>
<polyline points="1122.8,2373.0 1123.3,2372.4 1123.8,2375.1 1124.3,2374.7 1124.8,2377.8 1125.7,2375.4 1126.5,2378.5 1127.4,2377.0 1128.3,2379.5 1129.0,2377.8 1129.7,2381.2 1130.4,2379.9 1131.2,2383.3" fill="none" stroke="#ffc000" stroke-width="4.8" stroke-linejoin="round" stroke-linecap="round"/>
<polyline points="1174.3,2380.8 1175.0,2377.4 1175.8,2378.8 1176.5,2375.8 1177.2,2376.8 1177.9,2372.9 1178.9,2374.6 1180.0,2371.6 1181.1,2373.0 1182.1,2370.9 1183.2,2371.8 1184.0,2368.8 1184.8,2370.7 1185.6,2367.0" fill="none" stroke="#ffc000" stroke-width="4.8" stroke-linejoin="round" stroke-linecap="round"/>
<polyline points="1222.0,2364.6 1223.1,2367.3 1224.2,2365.0 1225.4,2368.4 1226.6,2366.5 1227.8,2368.2 1229.0,2367.1 1230.1,2368.6 1231.3,2366.9 1232.5,2369.6 1233.7,2366.8 1234.9,2369.3 1236.0,2366.5 1237.2,2368.4 1238.4,2366.8 1239.5,2367.4 1240.5,2364.7 1241.6,2366.1" fill="none" stroke="#ffc000" stroke-width="4.8" stroke-linejoin="round" stroke-linecap="round"/>
<polyline points="1336.1,2381.7 1337.2,2384.7 1338.2,2383.7 1339.3,2386.4 1340.2,2386.0 1341.1,2386.9 1341.9,2387.8" fill="none" stroke="#ffc000" stroke-width="4.8" stroke-linejoin="round" stroke-linecap="round"/>
<polyline points="1346.8,2394.9 1347.4,2396.0 1347.9,2397.1 1348.5,2398.2 1349.0,2399.3 1353.5,2409.9 1357.9,2418.8 1362.3,2424.1 1365.8,2425.0 1369.4,2420.5 1372.0,2409.9 1375.6,2399.3 1380.0,2390.4 1385.3,2384.2 1386.5,2383.1 1387.7,2384.1 1388.8,2382.0 1390.0,2383.1 1391.2,2381.1 1392.4,2383.0 1393.6,2380.0 1394.7,2382.1 1395.9,2379.5 1397.1,2381.5 1398.3,2379.4 1399.5,2381.0 1400.4,2378.4 1401.2,2380.3" fill="none" stroke="#ffc000" stroke-width="4.8" stroke-linejoin="round" stroke-linecap="round"/>
<polyline points="1447.1,2401.6 1447.7,2402.7 1448.3,2403.7 1448.9,2404.8 1449.5,2405.8 1455.8,2418.5 1462.1,2433.2 1467.4,2450.1 1472.7,2469.0 1473.1,2470.1 1473.5,2471.2 1473.9,2472.2" fill="none" stroke="#ffc000" stroke-width="4.8" stroke-linejoin="round" stroke-linecap="round"/>
<polyline points="1476.8,2480.2 1477.2,2481.4 1477.5,2482.6 1477.9,2483.8 1478.2,2485.1 1478.5,2486.3 1478.8,2487.6 1479.0,2488.8 1479.3,2490.1" fill="none" stroke="#ffc000" stroke-width="4.8" stroke-linejoin="round" stroke-linecap="round"/>
<polyline points="1484.6,2521.2 1484.9,2522.4 1485.2,2523.6 1485.4,2524.8 1485.7,2525.9 1488.5,2540.7 1488.7,2541.8 1488.9,2543.0 1489.2,2544.2 1489.4,2545.4" fill="none" stroke="#ffc000" stroke-width="4.8" stroke-linejoin="round" stroke-linecap="round"/>
<polyline points="1491.7,2557.1 1492.0,2558.2 1492.2,2559.4 1492.4,2560.6 1492.7,2561.7 1494.8,2576.5 1494.9,2577.7 1495.0,2578.9 1495.1,2580.1 1495.2,2581.3 1495.3,2582.5 1495.4,2583.7 1495.5,2584.9" fill="none" stroke="#ffc000" stroke-width="4.8" stroke-linejoin="round" stroke-linecap="round"/>
<polyline points="1514.5,2632.3 1514.6,2631.1 1514.7,2629.9 1514.9,2628.6 1515.0,2627.4 1515.1,2626.2 1515.2,2624.9 1517.3,2593.3 1520.1,2557.5 1523.2,2519.6 1525.8,2490.1 1525.9,2488.9 1526.0,2487.7 1526.1,2486.5 1526.2,2485.3 1526.4,2484.1 1526.5,2482.9 1526.6,2481.7" fill="none" stroke="#ffc000" stroke-width="4.8" stroke-linejoin="round" stroke-linecap="round"/>
<polyline points="1530.4,2454.3 1530.6,2453.0 1530.9,2451.8 1531.2,2450.5 1531.4,2449.2 1531.7,2448.0 1534.8,2429.0 1539.0,2414.3 1544.3,2406.9 1545.4,2406.3 1546.4,2405.6 1547.5,2405.0" fill="none" stroke="#ffc000" stroke-width="4.8" stroke-linejoin="round" stroke-linecap="round"/>
<polyline points="1579.1,2385.5 1580.1,2383.8 1581.2,2386.4 1582.2,2384.5 1583.0,2385.9 1583.8,2382.9 1584.6,2384.6 1585.4,2381.5 1586.2,2382.3 1587.0,2379.6 1587.7,2380.7 1588.5,2376.9 1589.4,2378.8 1590.3,2376.3 1591.2,2377.4 1592.1,2374.3 1593.1,2376.0 1594.0,2372.8 1594.9,2374.4 1596.1,2371.6 1597.4,2373.9 1598.7,2371.6" fill="none" stroke="#ffc000" stroke-width="4.8" stroke-linejoin="round" stroke-linecap="round"/>
<polyline points="1603.7,2370.7 1605.0,2372.9 1606.2,2370.6 1607.5,2372.7 1608.8,2369.9 1610.0,2371.3 1611.3,2369.6 1612.6,2371.2 1613.8,2369.5 1614.9,2370.5 1615.9,2368.0 1617.0,2369.7" fill="none" stroke="#ffc000" stroke-width="4.8" stroke-linejoin="round" stroke-linecap="round"/>
<polyline points="1687.6,2414.3 1687.8,2415.5 1688.0,2416.8 1688.2,2418.1 1688.4,2419.3 1688.6,2420.6 1692.0,2433.1 1692.3,2434.3 1692.6,2435.6 1692.8,2436.8 1693.1,2438.1" fill="none" stroke="#ffc000" stroke-width="4.8" stroke-linejoin="round" stroke-linecap="round"/>
<polyline points="1722.0,2401.3 1722.4,2400.1 1722.8,2398.9 1723.2,2397.7 1726.7,2389.2 1727.0,2386.9 1727.3,2388.1 1727.6,2384.5 1727.9,2385.8 1728.2,2382.0 1728.5,2382.8 1728.8,2379.9" fill="none" stroke="#ffc000" stroke-width="4.8" stroke-linejoin="round" stroke-linecap="round"/>
<polyline points="1729.2,2379.5 1729.5,2378.3 1729.8,2377.1 1730.1,2375.9" fill="none" stroke="#ffc000" stroke-width="4.8" stroke-linejoin="round" stroke-linecap="round"/>
<polyline points="1796.4,2369.9 1797.2,2368.2 1798.1,2371.3 1798.9,2369.5 1800.1,2371.5 1801.3,2368.6" fill="none" stroke="#ffc000" stroke-width="4.8" stroke-linejoin="round" stroke-linecap="round"/>
<polyline points="34.2,2360.7 34.6,2361.7 35.0,2359.1 35.5,2359.8" fill="none" stroke="#ffff00" stroke-width="4.8" stroke-linejoin="round" stroke-linecap="round"/>
<polyline points="85.9,2366.7 87.0,2368.9 88.1,2367.7 88.6,2368.5" fill="none" stroke="#ffff00" stroke-width="4.8" stroke-linejoin="round" stroke-linecap="round"/>
<polyline points="101.4,2327.3 102.3,2325.2 103.2,2327.1 103.5,2326.5 103.9,2329.4 104.2,2328.8 104.6,2331.5 105.0,2331.4 105.2,2333.3 105.5,2334.6" fill="none" stroke="#ffff00" stroke-width="4.8" stroke-linejoin="round" stroke-linecap="round"/>
<polyline points="128.8,2369.8 129.7,2368.6 130.6,2371.4 131.5,2369.4 132.0,2371.2 132.5,2367.9" fill="none" stroke="#ffff00" stroke-width="4.8" stroke-linejoin="round" stroke-linecap="round"/>
<polyline points="144.5,2336.2 144.7,2334.9 144.8,2333.6 144.9,2332.4 145.1,2331.1" fill="none" stroke="#ffff00" stroke-width="4.8" stroke-linejoin="round" stroke-linecap="round"/>
<polyline points="153.2,2318.5 153.3,2319.8 153.4,2321.1 153.5,2322.4 153.5,2323.7 153.6,2325.0 153.7,2326.1 153.8,2327.3 153.9,2328.5 154.0,2329.7 154.1,2330.9" fill="none" stroke="#ffff00" stroke-width="4.8" stroke-linejoin="round" stroke-linecap="round"/>
<polyline points="231.4,2369.7 232.1,2367.6 232.8,2371.1 233.6,2370.0" fill="none" stroke="#ffff00" stroke-width="4.8" stroke-linejoin="round" stroke-linecap="round"/>
<polyline points="242.8,2372.9 243.5,2369.5 244.2,2371.1 245.0,2367.5" fill="none" stroke="#ffff00" stroke-width="4.8" stroke-linejoin="round" stroke-linecap="round"/>
<polyline points="280.3,2335.8 280.5,2334.6 280.6,2333.5 280.8,2332.3 281.0,2331.1 281.2,2329.9 282.1,2330.4 283.0,2327.7 283.9,2329.7 284.0,2326.9 284.1,2325.6 284.1,2324.3 284.2,2323.1 284.3,2321.8 284.4,2320.6 284.5,2319.3 284.6,2318.0 284.7,2316.8 284.7,2315.5 284.8,2314.2" fill="none" stroke="#ffff00" stroke-width="4.8" stroke-linejoin="round" stroke-linecap="round"/>
<polyline points="286.1,2283.9 286.1,2282.6 286.2,2281.4 286.2,2280.1 286.2,2278.8 286.3,2277.6 286.3,2276.3 286.3,2275.0 286.4,2273.8 286.4,2272.5 286.4,2271.3 286.5,2270.0 286.5,2268.7 286.5,2267.5 286.5,2266.2 287.4,2213.1 287.5,2211.8 287.5,2210.6 287.5,2209.3 287.5,2208.0 287.5,2206.8 287.5,2205.5 287.6,2204.2 287.6,2203.0 287.6,2201.7 287.6,2200.5 287.6,2199.2 287.7,2197.9 287.7,2196.7 287.7,2195.4" fill="none" stroke="#ffff00" stroke-width="4.8" stroke-linejoin="round" stroke-linecap="round"/>
<polyline points="289.0,2195.4 289.1,2196.7 289.1,2197.9 289.1,2199.2 289.1,2200.5 289.2,2201.7 289.2,2203.0 289.2,2204.2 289.2,2205.5 289.3,2206.8 289.3,2208.0 289.3,2209.3 289.3,2210.6 289.4,2211.8 289.4,2213.1 290.1,2266.2 291.0,2301.6 291.0,2302.9 291.1,2304.1 291.1,2305.4 291.2,2306.7 291.2,2308.0 291.3,2309.3 291.3,2310.5 291.4,2311.8 291.4,2313.1" fill="none" stroke="#ffff00" stroke-width="4.8" stroke-linejoin="round" stroke-linecap="round"/>
<polyline points="291.9,2324.6 292.2,2322.3 292.6,2323.9 292.9,2319.9 293.3,2321.2" fill="none" stroke="#ffff00" stroke-width="4.8" stroke-linejoin="round" stroke-linecap="round"/>
<polyline points="295.7,2323.7 295.8,2325.0 295.9,2326.2 296.0,2327.4 296.2,2328.7 296.3,2329.9 296.4,2331.2 296.5,2332.5 296.6,2333.8" fill="none" stroke="#ffff00" stroke-width="4.8" stroke-linejoin="round" stroke-linecap="round"/>
<polyline points="311.1,2367.6 311.6,2370.4 312.1,2369.3 312.6,2372.3" fill="none" stroke="#ffff00" stroke-width="4.8" stroke-linejoin="round" stroke-linecap="round"/>
<polyline points="318.8,2369.2 320.0,2370.2 321.1,2367.6 322.2,2370.6 323.3,2369.6" fill="none" stroke="#ffff00" stroke-width="4.8" stroke-linejoin="round" stroke-linecap="round"/>
<polyline points="333.2,2379.2 334.3,2381.0 335.4,2378.7 336.5,2381.5 337.5,2379.9 338.6,2381.5 339.6,2380.0 340.3,2383.3 340.9,2382.6 341.5,2385.8 342.2,2384.1" fill="none" stroke="#ffff00" stroke-width="4.8" stroke-linejoin="round" stroke-linecap="round"/>
<polyline points="362.0,2321.8 362.0,2320.6 362.1,2319.3 362.1,2318.0 362.1,2316.8 362.2,2315.5 362.2,2314.2 362.3,2313.0 362.3,2311.7 362.4,2310.4 362.4,2309.2 362.4,2307.9" fill="none" stroke="#ffff00" stroke-width="4.8" stroke-linejoin="round" stroke-linecap="round"/>
<polyline points="366.1,2307.9 366.2,2309.2 366.3,2310.4 366.3,2311.7 366.4,2313.0 366.4,2314.2 366.5,2315.5 366.5,2316.8 366.6,2318.0 366.7,2319.3 366.7,2320.6 366.8,2321.8" fill="none" stroke="#ffff00" stroke-width="4.8" stroke-linejoin="round" stroke-linecap="round"/>
<polyline points="371.0,2330.7 371.1,2329.4 371.2,2328.1 371.2,2326.9 371.2,2325.6 371.3,2324.3 371.3,2323.1 371.4,2321.8 371.4,2320.6 371.4,2319.3 371.5,2318.0 371.5,2316.8 371.6,2315.5" fill="none" stroke="#ffff00" stroke-width="4.8" stroke-linejoin="round" stroke-linecap="round"/>
<polyline points="376.2,2310.4 376.3,2311.7 376.4,2313.0 376.5,2314.2 376.5,2315.5 376.6,2316.8 376.7,2318.0 376.8,2319.3 379.5,2317.5 379.9,2318.7 380.4,2319.9 380.8,2321.1" fill="none" stroke="#ffff00" stroke-width="4.8" stroke-linejoin="round" stroke-linecap="round"/>
<polyline points="398.6,2333.2 398.7,2331.9 398.8,2330.7 398.8,2329.4" fill="none" stroke="#ffff00" stroke-width="4.8" stroke-linejoin="round" stroke-linecap="round"/>
<polyline points="406.7,2306.6 406.7,2307.9 406.8,2309.2 406.8,2310.4 406.9,2311.7 407.0,2313.0 407.0,2314.2 407.1,2315.5 407.1,2316.8 407.2,2318.0 407.3,2319.3 407.3,2320.6 407.4,2321.8" fill="none" stroke="#ffff00" stroke-width="4.8" stroke-linejoin="round" stroke-linecap="round"/>
<polyline points="408.9,2325.6 409.0,2324.3 409.0,2323.1 409.1,2321.8" fill="none" stroke="#ffff00" stroke-width="4.8" stroke-linejoin="round" stroke-linecap="round"/>
<polyline points="415.1,2315.5 415.2,2316.8 415.2,2318.0 415.3,2319.3 415.4,2320.6 415.4,2321.8 415.5,2323.1 415.6,2324.3" fill="none" stroke="#ffff00" stroke-width="4.8" stroke-linejoin="round" stroke-linecap="round"/>
<polyline points="459.5,2339.1 460.0,2336.4" fill="none" stroke="#ffff00" stroke-width="4.8" stroke-linejoin="round" stroke-linecap="round"/>
<polyline points="460.1,2335.7 460.3,2334.4 460.4,2333.1" fill="none" stroke="#ffff00" stroke-width="4.8" stroke-linejoin="round" stroke-linecap="round"/>
<polyline points="465.6,2329.0 465.7,2330.3 465.8,2331.5 465.9,2332.7 466.1,2334.0 466.2,2335.2" fill="none" stroke="#ffff00" stroke-width="4.8" stroke-linejoin="round" stroke-linecap="round"/>
<polyline points="468.9,2334.3 469.3,2334.4 469.8,2331.9 470.3,2332.5" fill="none" stroke="#ffff00" stroke-width="4.8" stroke-linejoin="round" stroke-linecap="round"/>
<polyline points="470.5,2332.9 470.8,2334.2" fill="none" stroke="#ffff00" stroke-width="4.8" stroke-linejoin="round" stroke-linecap="round"/>
<polyline points="503.5,2368.2 503.9,2370.9 504.4,2370.0 505.5,2373.1 506.6,2371.1" fill="none" stroke="#ffff00" stroke-width="4.8" stroke-linejoin="round" stroke-linecap="round"/>
<polyline points="509.0,2374.9 509.7,2373.8 510.3,2376.9 511.0,2376.3 511.8,2376.9 512.6,2374.0" fill="none" stroke="#ffff00" stroke-width="4.8" stroke-linejoin="round" stroke-linecap="round"/>
<polyline points="529.3,2392.3 529.5,2393.4 529.7,2394.5 530.0,2395.6 530.2,2396.7 530.4,2395.4 530.5,2394.1" fill="none" stroke="#ffff00" stroke-width="4.8" stroke-linejoin="round" stroke-linecap="round"/>
<polyline points="579.0,2374.6 579.7,2373.2 580.1,2374.4 580.5,2371.0 581.0,2373.0" fill="none" stroke="#ffff00" stroke-width="4.8" stroke-linejoin="round" stroke-linecap="round"/>
<polyline points="608.8,2368.5 609.3,2367.3 609.9,2368.6" fill="none" stroke="#ffff00" stroke-width="4.8" stroke-linejoin="round" stroke-linecap="round"/>
<polyline points="620.3,2340.7 620.9,2341.6 621.5,2340.7 622.2,2343.7 622.9,2341.7" fill="none" stroke="#ffff00" stroke-width="4.8" stroke-linejoin="round" stroke-linecap="round"/>
<polyline points="641.4,2343.3 641.9,2340.2 642.5,2341.3 643.0,2338.2 643.7,2339.0 644.4,2336.4" fill="none" stroke="#ffff00" stroke-width="4.8" stroke-linejoin="round" stroke-linecap="round"/>
<polyline points="647.9,2330.2 648.2,2327.4 648.5,2328.0 648.9,2325.1 649.2,2326.0 649.3,2323.7 649.3,2322.4 649.4,2321.1 649.4,2319.9 649.5,2318.6 649.5,2317.3 649.6,2316.0 649.6,2314.8 649.6,2313.5 649.7,2312.2 649.7,2310.9 649.8,2309.7 649.8,2308.4" fill="none" stroke="#ffff00" stroke-width="4.8" stroke-linejoin="round" stroke-linecap="round"/>
<polyline points="684.9,2330.9 685.0,2329.7 685.1,2328.5 686.9,2321.4 687.1,2322.6 687.3,2323.8" fill="none" stroke="#ffff00" stroke-width="4.8" stroke-linejoin="round" stroke-linecap="round"/>
<polyline points="689.3,2334.4 689.6,2335.6" fill="none" stroke="#ffff00" stroke-width="4.8" stroke-linejoin="round" stroke-linecap="round"/>
<polyline points="692.9,2322.8 693.2,2321.7 693.5,2320.5 693.7,2321.7 694.0,2322.8 694.2,2323.9 694.5,2325.1" fill="none" stroke="#ffff00" stroke-width="4.8" stroke-linejoin="round" stroke-linecap="round"/>
<polyline points="700.9,2324.6 701.4,2321.4 701.8,2322.0 702.0,2322.6 702.2,2323.8 702.5,2325.0" fill="none" stroke="#ffff00" stroke-width="4.8" stroke-linejoin="round" stroke-linecap="round"/>
<polyline points="703.9,2334.7 704.0,2335.9 704.2,2337.2 704.3,2338.4 704.5,2339.6 704.6,2340.9 705.0,2341.1" fill="none" stroke="#ffff00" stroke-width="4.8" stroke-linejoin="round" stroke-linecap="round"/>
<polyline points="742.5,2367.9 743.0,2366.7 743.7,2367.3" fill="none" stroke="#ffff00" stroke-width="4.8" stroke-linejoin="round" stroke-linecap="round"/>
<polyline points="750.2,2365.2 751.0,2369.0 752.0,2365.2" fill="none" stroke="#ffff00" stroke-width="4.8" stroke-linejoin="round" stroke-linecap="round"/>
<polyline points="760.0,2369.2 760.7,2368.5 761.6,2370.7 762.5,2370.1" fill="none" stroke="#ffff00" stroke-width="4.8" stroke-linejoin="round" stroke-linecap="round"/>
<polyline points="767.3,2369.6 768.1,2370.9 768.8,2367.1 769.6,2368.4 770.3,2365.9" fill="none" stroke="#ffff00" stroke-width="4.8" stroke-linejoin="round" stroke-linecap="round"/>
<polyline points="777.7,2365.2 778.4,2368.0 779.1,2367.7 779.8,2369.8" fill="none" stroke="#ffff00" stroke-width="4.8" stroke-linejoin="round" stroke-linecap="round"/>
<polyline points="782.5,2372.2 783.0,2368.7 783.5,2369.3 784.0,2365.8" fill="none" stroke="#ffff00" stroke-width="4.8" stroke-linejoin="round" stroke-linecap="round"/>
<polyline points="881.5,2333.2 881.9,2329.6 882.4,2330.4 882.8,2327.9 884.6,2321.4 884.9,2320.2 885.2,2319.1 885.5,2317.9" fill="none" stroke="#ffff00" stroke-width="4.8" stroke-linejoin="round" stroke-linecap="round"/>
<polyline points="891.7,2330.3 892.4,2332.1" fill="none" stroke="#ffff00" stroke-width="4.8" stroke-linejoin="round" stroke-linecap="round"/>
<polyline points="893.2,2330.8 894.0,2333.7 895.0,2331.6 896.1,2332.8" fill="none" stroke="#ffff00" stroke-width="4.8" stroke-linejoin="round" stroke-linecap="round"/>
<polyline points="896.3,2333.3 896.5,2334.6 896.7,2335.8 896.9,2337.1" fill="none" stroke="#ffff00" stroke-width="4.8" stroke-linejoin="round" stroke-linecap="round"/>
<polyline points="912.4,2364.3 913.6,2366.7 914.7,2364.6 915.9,2368.1 917.1,2365.2 918.3,2366.4" fill="none" stroke="#ffff00" stroke-width="4.8" stroke-linejoin="round" stroke-linecap="round"/>
<polyline points="930.4,2367.4 931.5,2369.8 932.6,2368.2 933.6,2371.6 934.5,2368.7 935.4,2369.8" fill="none" stroke="#ffff00" stroke-width="4.8" stroke-linejoin="round" stroke-linecap="round"/>
<polyline points="943.2,2368.9 944.2,2366.9 945.4,2369.4 946.6,2366.7 947.8,2367.7" fill="none" stroke="#ffff00" stroke-width="4.8" stroke-linejoin="round" stroke-linecap="round"/>
<polyline points="969.7,2364.0 970.8,2366.6 971.7,2364.3 972.6,2365.1 973.5,2362.2" fill="none" stroke="#ffff00" stroke-width="4.8" stroke-linejoin="round" stroke-linecap="round"/>
<polyline points="1002.0,2360.6 1002.8,2363.1 1003.6,2361.9" fill="none" stroke="#ffff00" stroke-width="4.8" stroke-linejoin="round" stroke-linecap="round"/>
<polyline points="1013.1,2366.8 1014.2,2364.1 1015.0,2365.7" fill="none" stroke="#ffff00" stroke-width="4.8" stroke-linejoin="round" stroke-linecap="round"/>
<polyline points="1022.1,2367.2 1023.0,2365.0 1023.9,2368.2 1024.8,2366.9" fill="none" stroke="#ffff00" stroke-width="4.8" stroke-linejoin="round" stroke-linecap="round"/>
<polyline points="1053.5,2375.3 1054.3,2376.8 1055.0,2373.5 1055.8,2375.1 1056.5,2372.1 1057.2,2373.5 1058.0,2369.8" fill="none" stroke="#ffff00" stroke-width="4.8" stroke-linejoin="round" stroke-linecap="round"/>
<polyline points="1062.4,2368.2 1063.5,2365.4 1064.6,2367.0 1065.5,2364.1" fill="none" stroke="#ffff00" stroke-width="4.8" stroke-linejoin="round" stroke-linecap="round"/>
<polyline points="1067.5,2361.4 1067.6,2360.1" fill="none" stroke="#ffff00" stroke-width="4.8" stroke-linejoin="round" stroke-linecap="round"/>
<polyline points="1074.5,2322.3 1074.7,2321.1 1074.8,2319.8 1074.9,2318.6 1075.1,2317.3 1075.2,2316.1 1077.0,2317.9 1077.1,2319.2 1077.2,2320.5 1077.4,2321.7" fill="none" stroke="#ffff00" stroke-width="4.8" stroke-linejoin="round" stroke-linecap="round"/>
<polyline points="1081.5,2321.1 1081.6,2319.9 1081.8,2318.7 1081.9,2317.5 1082.0,2316.2 1082.1,2315.0 1082.2,2313.8 1082.3,2312.6 1084.1,2314.3 1085.5,2332.0 1085.6,2333.3 1085.7,2334.5 1085.9,2335.8" fill="none" stroke="#ffff00" stroke-width="4.8" stroke-linejoin="round" stroke-linecap="round"/>
<polyline points="1120.9,2369.2 1121.2,2368.1 1121.7,2371.4 1122.3,2369.8 1122.8,2373.0" fill="none" stroke="#ffff00" stroke-width="4.8" stroke-linejoin="round" stroke-linecap="round"/>
<polyline points="1185.6,2367.0 1186.4,2368.3 1187.2,2365.1 1188.0,2366.6 1188.5,2363.8 1189.0,2365.1" fill="none" stroke="#ffff00" stroke-width="4.8" stroke-linejoin="round" stroke-linecap="round"/>
<polyline points="1219.1,2364.2 1219.8,2362.5 1220.9,2366.0 1222.0,2364.6" fill="none" stroke="#ffff00" stroke-width="4.8" stroke-linejoin="round" stroke-linecap="round"/>
<polyline points="1241.6,2366.1 1242.7,2363.7 1243.7,2364.9 1244.8,2362.9 1245.9,2363.8 1247.0,2361.7 1248.1,2363.4 1249.2,2361.4 1250.3,2363.4 1251.3,2361.1" fill="none" stroke="#ffff00" stroke-width="4.8" stroke-linejoin="round" stroke-linecap="round"/>
<polyline points="1326.0,2374.5 1326.9,2377.0 1327.8,2375.6 1328.7,2379.4 1329.7,2378.1 1330.8,2381.0 1331.9,2379.5 1332.9,2381.8 1334.0,2380.0 1335.0,2383.7 1336.1,2381.7" fill="none" stroke="#ffff00" stroke-width="4.8" stroke-linejoin="round" stroke-linecap="round"/>
<polyline points="1341.9,2387.8 1342.8,2388.7 1343.7,2389.6 1344.6,2390.4 1345.2,2391.5 1345.7,2392.7 1346.3,2393.8 1346.8,2394.9" fill="none" stroke="#ffff00" stroke-width="4.8" stroke-linejoin="round" stroke-linecap="round"/>
<polyline points="1401.2,2380.3 1402.1,2377.0 1403.0,2379.1 1404.1,2377.3 1405.1,2380.1 1406.2,2378.1 1407.3,2380.3 1408.3,2378.5 1409.4,2381.1 1410.4,2378.1 1411.5,2380.6 1412.6,2377.7 1413.6,2380.2 1414.7,2377.5 1415.8,2379.6 1416.8,2377.5 1417.9,2379.4 1418.9,2377.4 1420.0,2379.6 1421.1,2377.7 1422.1,2380.9 1423.2,2379.0 1424.2,2381.5 1425.3,2380.5 1426.3,2383.2 1427.4,2381.8 1428.4,2384.7 1436.9,2390.0 1445.3,2398.5 1445.9,2399.5 1446.5,2400.6 1447.1,2401.6" fill="none" stroke="#ffff00" stroke-width="4.8" stroke-linejoin="round" stroke-linecap="round"/>
<polyline points="1526.6,2481.7 1526.7,2480.5 1526.8,2479.3 1527.0,2478.1 1527.1,2476.9 1527.2,2475.7 1527.3,2474.5 1527.4,2473.3 1529.1,2460.6 1529.4,2459.4 1529.6,2458.1 1529.9,2456.8 1530.1,2455.6 1530.4,2454.3" fill="none" stroke="#ffff00" stroke-width="4.8" stroke-linejoin="round" stroke-linecap="round"/>
<polyline points="1547.5,2405.0 1548.5,2404.4 1549.6,2403.7 1552.3,2410.1 1553.8,2417.4 1554.3,2416.4 1554.8,2415.3 1555.4,2414.3" fill="none" stroke="#ffff00" stroke-width="4.8" stroke-linejoin="round" stroke-linecap="round"/>
<polyline points="1572.0,2392.1 1572.3,2391.1 1572.7,2390.0 1577.0,2382.7 1578.0,2382.0 1579.1,2385.5" fill="none" stroke="#ffff00" stroke-width="4.8" stroke-linejoin="round" stroke-linecap="round"/>
<polyline points="1598.7,2371.6 1599.9,2373.9 1601.2,2371.4 1602.4,2373.2 1603.7,2370.7" fill="none" stroke="#ffff00" stroke-width="4.8" stroke-linejoin="round" stroke-linecap="round"/>
<polyline points="1617.0,2369.7 1618.0,2367.0 1619.1,2368.2 1620.1,2366.1 1621.2,2367.8 1622.2,2364.5 1623.3,2366.7" fill="none" stroke="#ffff00" stroke-width="4.8" stroke-linejoin="round" stroke-linecap="round"/>
<polyline points="1630.8,2367.0 1631.3,2366.1 1631.7,2369.5 1632.8,2366.5 1633.8,2368.1" fill="none" stroke="#ffff00" stroke-width="4.8" stroke-linejoin="round" stroke-linecap="round"/>
<polyline points="1638.0,2366.3 1639.1,2364.1 1640.2,2365.7 1641.2,2363.3 1642.3,2365.2" fill="none" stroke="#ffff00" stroke-width="4.8" stroke-linejoin="round" stroke-linecap="round"/>
<polyline points="1685.4,2401.6 1685.7,2402.9 1685.9,2404.2 1686.1,2405.4 1686.3,2406.7 1686.5,2407.9 1686.7,2409.2 1686.9,2410.5 1687.1,2411.7 1687.3,2413.0 1687.6,2414.3" fill="none" stroke="#ffff00" stroke-width="4.8" stroke-linejoin="round" stroke-linecap="round"/>
<polyline points="1728.8,2379.9 1729.2,2379.5" fill="none" stroke="#ffff00" stroke-width="4.8" stroke-linejoin="round" stroke-linecap="round"/>
<polyline points="1730.1,2375.9 1730.4,2374.6 1730.7,2373.4 1731.0,2372.2 1731.7,2372.1 1732.4,2369.4 1733.1,2370.3" fill="none" stroke="#ffff00" stroke-width="4.8" stroke-linejoin="round" stroke-linecap="round"/>
<polyline points="1792.6,2367.4 1793.6,2365.5 1794.7,2368.6 1795.5,2366.5 1796.4,2369.9" fill="none" stroke="#ffff00" stroke-width="4.8" stroke-linejoin="round" stroke-linecap="round"/>
<polyline points="1801.3,2368.6 1802.5,2370.2 1803.5,2368.3 1804.6,2370.8 1805.7,2368.6 1806.7,2370.8 1807.8,2368.6 1808.8,2369.3 1809.9,2366.6 1811.0,2368.8 1812.0,2365.4 1813.0,2367.1 1813.9,2364.1" fill="none" stroke="#ffff00" stroke-width="4.8" stroke-linejoin="round" stroke-linecap="round"/>
<polyline points="35.5,2359.8 35.9,2357.1 36.8,2358.3" fill="none" stroke="#92d050" stroke-width="4.8" stroke-linejoin="round" stroke-linecap="round"/>
<polyline points="81.9,2363.5 82.8,2366.5 83.7,2365.6 84.8,2368.3 85.9,2366.7" fill="none" stroke="#92d050" stroke-width="4.8" stroke-linejoin="round" stroke-linecap="round"/>
<polyline points="88.6,2368.5 89.0,2364.9 89.5,2366.4" fill="none" stroke="#92d050" stroke-width="4.8" stroke-linejoin="round" stroke-linecap="round"/>
<polyline points="97.2,2331.4 97.5,2332.6 97.9,2329.6 98.5,2330.7 99.2,2327.3 99.9,2329.2 100.5,2325.3 101.4,2327.3" fill="none" stroke="#92d050" stroke-width="4.8" stroke-linejoin="round" stroke-linecap="round"/>
<polyline points="105.5,2334.6 105.7,2335.8 106.0,2337.1 106.2,2338.4" fill="none" stroke="#92d050" stroke-width="4.8" stroke-linejoin="round" stroke-linecap="round"/>
<polyline points="123.0,2365.8 124.1,2364.7 125.1,2367.1 126.2,2365.4 127.1,2368.1 128.0,2367.5 128.8,2369.8" fill="none" stroke="#92d050" stroke-width="4.8" stroke-linejoin="round" stroke-linecap="round"/>
<polyline points="132.5,2367.9 133.0,2369.1 133.5,2365.7 134.0,2366.5" fill="none" stroke="#92d050" stroke-width="4.8" stroke-linejoin="round" stroke-linecap="round"/>
<polyline points="144.2,2340.1 144.3,2338.8 144.4,2337.5 144.5,2336.2" fill="none" stroke="#92d050" stroke-width="4.8" stroke-linejoin="round" stroke-linecap="round"/>
<polyline points="154.1,2330.9 154.2,2332.0 154.3,2333.2 154.4,2334.4 154.5,2335.6 154.6,2336.8 154.7,2337.9" fill="none" stroke="#92d050" stroke-width="4.8" stroke-linejoin="round" stroke-linecap="round"/>
<polyline points="228.8,2364.9 229.7,2367.9 230.6,2366.5 231.4,2369.7" fill="none" stroke="#92d050" stroke-width="4.8" stroke-linejoin="round" stroke-linecap="round"/>
<polyline points="245.0,2367.5 245.7,2368.9 246.0,2364.8 246.3,2365.9 246.5,2363.1" fill="none" stroke="#92d050" stroke-width="4.8" stroke-linejoin="round" stroke-linecap="round"/>
<polyline points="279.3,2341.8 279.5,2340.5 279.7,2339.4 279.9,2338.2 280.1,2337.0 280.3,2335.8" fill="none" stroke="#92d050" stroke-width="4.8" stroke-linejoin="round" stroke-linecap="round"/>
<polyline points="284.8,2314.2 284.9,2313.0 285.0,2311.7 285.1,2310.4 285.2,2309.2 285.2,2307.9 285.3,2306.6 285.4,2305.4 285.5,2304.1 285.6,2302.9 285.7,2301.6 285.7,2300.3 285.7,2299.1 285.8,2297.8 285.8,2296.5 285.8,2295.3 285.9,2294.0 285.9,2292.7 285.9,2291.5 285.9,2290.2 286.0,2289.0 286.0,2287.7 286.0,2286.4 286.1,2285.2 286.1,2283.9" fill="none" stroke="#92d050" stroke-width="4.8" stroke-linejoin="round" stroke-linecap="round"/>
<polyline points="291.4,2313.1 291.5,2314.4 291.5,2315.7 291.6,2316.9 291.6,2318.2 291.7,2319.5 291.7,2320.8 291.8,2322.0 291.8,2323.3 291.9,2324.6" fill="none" stroke="#92d050" stroke-width="4.8" stroke-linejoin="round" stroke-linecap="round"/>
<polyline points="296.6,2333.8 296.7,2335.1 296.8,2336.3 297.0,2337.6 297.1,2338.9 297.2,2340.2" fill="none" stroke="#92d050" stroke-width="4.8" stroke-linejoin="round" stroke-linecap="round"/>
<polyline points="310.1,2364.7 310.6,2368.8 311.1,2367.6" fill="none" stroke="#92d050" stroke-width="4.8" stroke-linejoin="round" stroke-linecap="round"/>
<polyline points="342.2,2384.1 342.8,2387.7 343.4,2386.7 344.1,2389.8 344.8,2387.4 345.5,2386.5 346.3,2385.7" fill="none" stroke="#92d050" stroke-width="4.8" stroke-linejoin="round" stroke-linecap="round"/>
<polyline points="361.7,2330.7 361.7,2329.4 361.8,2328.1 361.8,2326.9 361.9,2325.6 361.9,2324.3 361.9,2323.1 362.0,2321.8" fill="none" stroke="#92d050" stroke-width="4.8" stroke-linejoin="round" stroke-linecap="round"/>
<polyline points="366.8,2321.8 366.8,2323.1 366.9,2324.3 367.0,2325.6 367.0,2326.9 367.1,2328.1 367.3,2329.4 367.4,2330.6" fill="none" stroke="#92d050" stroke-width="4.8" stroke-linejoin="round" stroke-linecap="round"/>
<polyline points="370.9,2334.5 370.9,2333.3 371.0,2332.0 371.0,2330.7" fill="none" stroke="#92d050" stroke-width="4.8" stroke-linejoin="round" stroke-linecap="round"/>
<polyline points="380.8,2321.1 381.2,2322.2 381.7,2323.4 382.1,2324.6 382.3,2325.8 382.5,2327.1 382.7,2328.3 382.8,2329.6 383.0,2330.8" fill="none" stroke="#92d050" stroke-width="4.8" stroke-linejoin="round" stroke-linecap="round"/>
<polyline points="398.3,2337.0 398.4,2335.7 398.5,2334.5 398.6,2333.2" fill="none" stroke="#92d050" stroke-width="4.8" stroke-linejoin="round" stroke-linecap="round"/>
<polyline points="407.4,2321.8 407.5,2323.1 407.6,2324.3 407.6,2325.6 407.7,2326.9 407.8,2328.1" fill="none" stroke="#92d050" stroke-width="4.8" stroke-linejoin="round" stroke-linecap="round"/>
<polyline points="408.6,2330.7 408.7,2329.4 408.8,2328.1 408.8,2326.9 408.9,2325.6" fill="none" stroke="#92d050" stroke-width="4.8" stroke-linejoin="round" stroke-linecap="round"/>
<polyline points="415.6,2324.3 415.6,2325.6 415.7,2326.9 415.8,2328.1 415.8,2329.4 415.9,2330.7 416.0,2332.0" fill="none" stroke="#92d050" stroke-width="4.8" stroke-linejoin="round" stroke-linecap="round"/>
<polyline points="457.9,2340.2 458.4,2341.3 458.9,2338.3 459.5,2339.1" fill="none" stroke="#92d050" stroke-width="4.8" stroke-linejoin="round" stroke-linecap="round"/>
<polyline points="466.2,2335.2 467.1,2336.9 468.0,2336.3 468.4,2336.9 468.9,2334.3" fill="none" stroke="#92d050" stroke-width="4.8" stroke-linejoin="round" stroke-linecap="round"/>
<polyline points="470.3,2332.5 470.5,2332.9" fill="none" stroke="#92d050" stroke-width="4.8" stroke-linejoin="round" stroke-linecap="round"/>
<polyline points="470.8,2334.2 471.0,2335.5 471.3,2336.7 471.5,2338.0" fill="none" stroke="#92d050" stroke-width="4.8" stroke-linejoin="round" stroke-linecap="round"/>
<polyline points="501.6,2364.8 502.1,2367.1 502.6,2365.8 503.0,2369.4 503.5,2368.2" fill="none" stroke="#92d050" stroke-width="4.8" stroke-linejoin="round" stroke-linecap="round"/>
<polyline points="506.6,2371.1 507.7,2373.6 508.4,2372.2 509.0,2374.9" fill="none" stroke="#92d050" stroke-width="4.8" stroke-linejoin="round" stroke-linecap="round"/>
<polyline points="512.6,2374.0 513.5,2375.2 514.3,2372.3 515.4,2374.9 516.5,2372.0" fill="none" stroke="#92d050" stroke-width="4.8" stroke-linejoin="round" stroke-linecap="round"/>
<polyline points="528.1,2385.4 528.3,2386.6 528.4,2387.8 528.6,2389.0 528.8,2390.1 529.0,2391.2 529.3,2392.3" fill="none" stroke="#92d050" stroke-width="4.8" stroke-linejoin="round" stroke-linecap="round"/>
<polyline points="530.5,2394.1 530.6,2392.9 530.8,2391.6 530.9,2390.3 531.0,2389.0" fill="none" stroke="#92d050" stroke-width="4.8" stroke-linejoin="round" stroke-linecap="round"/>
<polyline points="538.2,2404.9 538.3,2406.1 538.5,2407.3 538.6,2408.5 538.7,2409.7 538.9,2410.9 539.0,2412.1 539.1,2410.9 539.2,2409.6 539.3,2408.4 539.4,2407.1" fill="none" stroke="#92d050" stroke-width="4.8" stroke-linejoin="round" stroke-linecap="round"/>
<polyline points="567.7,2257.7 567.8,2256.4 568.0,2255.1 568.1,2253.8 568.3,2255.1 568.4,2256.4 568.6,2257.7" fill="none" stroke="#92d050" stroke-width="4.8" stroke-linejoin="round" stroke-linecap="round"/>
<polyline points="577.6,2373.3 578.3,2372.0 579.0,2374.6" fill="none" stroke="#92d050" stroke-width="4.8" stroke-linejoin="round" stroke-linecap="round"/>
<polyline points="581.0,2373.0 581.4,2369.8 581.9,2370.3 582.4,2366.7 583.0,2368.6 583.5,2364.9" fill="none" stroke="#92d050" stroke-width="4.8" stroke-linejoin="round" stroke-linecap="round"/>
<polyline points="607.7,2365.4 608.2,2365.3 608.8,2368.5" fill="none" stroke="#92d050" stroke-width="4.8" stroke-linejoin="round" stroke-linecap="round"/>
<polyline points="609.9,2368.6 610.4,2365.1 611.0,2365.7" fill="none" stroke="#92d050" stroke-width="4.8" stroke-linejoin="round" stroke-linecap="round"/>
<polyline points="619.2,2342.4 619.8,2343.5 620.3,2340.7" fill="none" stroke="#92d050" stroke-width="4.8" stroke-linejoin="round" stroke-linecap="round"/>
<polyline points="622.9,2341.7 623.5,2345.0 624.2,2343.8 625.1,2346.3 626.1,2344.7" fill="none" stroke="#92d050" stroke-width="4.8" stroke-linejoin="round" stroke-linecap="round"/>
<polyline points="639.0,2347.0 639.7,2344.2 640.4,2345.9 640.9,2342.0 641.4,2343.3" fill="none" stroke="#92d050" stroke-width="4.8" stroke-linejoin="round" stroke-linecap="round"/>
<polyline points="649.8,2308.4 649.9,2307.1 649.9,2305.8 650.0,2304.6 650.0,2303.3 650.1,2302.0 650.1,2300.7 650.2,2299.5 650.2,2298.2 650.3,2296.9 650.3,2295.6 650.4,2294.4 650.4,2293.1 651.5,2259.5 652.7,2259.5 652.8,2260.8 652.8,2262.1 652.8,2263.3 652.9,2264.6 652.9,2265.9 652.9,2267.2 653.0,2268.5 653.0,2269.8 653.0,2271.1 653.1,2272.4 653.1,2273.7 653.2,2275.0 653.2,2276.3" fill="none" stroke="#92d050" stroke-width="4.8" stroke-linejoin="round" stroke-linecap="round"/>
<polyline points="655.3,2331.4 655.5,2332.7 655.6,2334.0 655.8,2335.3 656.0,2336.5 656.1,2337.8 656.3,2339.1 656.7,2338.7 657.2,2342.9 657.6,2341.2" fill="none" stroke="#92d050" stroke-width="4.8" stroke-linejoin="round" stroke-linecap="round"/>
<polyline points="684.6,2334.6 684.7,2333.4 684.8,2332.2 684.9,2330.9" fill="none" stroke="#92d050" stroke-width="4.8" stroke-linejoin="round" stroke-linecap="round"/>
<polyline points="689.6,2335.6 689.9,2336.8" fill="none" stroke="#92d050" stroke-width="4.8" stroke-linejoin="round" stroke-linecap="round"/>
<polyline points="692.2,2326.2 692.4,2325.1 692.7,2323.9 692.9,2322.8" fill="none" stroke="#92d050" stroke-width="4.8" stroke-linejoin="round" stroke-linecap="round"/>
<polyline points="694.5,2325.1 694.7,2326.2 695.0,2327.4 695.2,2328.5 695.4,2329.7 695.5,2330.9 695.6,2332.2" fill="none" stroke="#92d050" stroke-width="4.8" stroke-linejoin="round" stroke-linecap="round"/>
<polyline points="700.0,2328.8 700.2,2327.5 700.4,2326.2 700.5,2325.0 700.9,2324.6" fill="none" stroke="#92d050" stroke-width="4.8" stroke-linejoin="round" stroke-linecap="round"/>
<polyline points="705.0,2341.1 705.5,2344.0 705.9,2342.5 706.3,2346.4" fill="none" stroke="#92d050" stroke-width="4.8" stroke-linejoin="round" stroke-linecap="round"/>
<polyline points="741.4,2365.2 741.9,2364.1 742.5,2367.9" fill="none" stroke="#92d050" stroke-width="4.8" stroke-linejoin="round" stroke-linecap="round"/>
<polyline points="743.7,2367.3 744.4,2364.5 745.1,2365.8" fill="none" stroke="#92d050" stroke-width="4.8" stroke-linejoin="round" stroke-linecap="round"/>
<polyline points="748.8,2363.3 749.5,2367.1 750.2,2365.2" fill="none" stroke="#92d050" stroke-width="4.8" stroke-linejoin="round" stroke-linecap="round"/>
<polyline points="752.0,2365.2 753.1,2366.9 754.2,2364.6" fill="none" stroke="#92d050" stroke-width="4.8" stroke-linejoin="round" stroke-linecap="round"/>
<polyline points="758.5,2367.5 759.2,2366.5 760.0,2369.2" fill="none" stroke="#92d050" stroke-width="4.8" stroke-linejoin="round" stroke-linecap="round"/>
<polyline points="770.3,2365.9 771.0,2366.7 771.8,2363.8" fill="none" stroke="#92d050" stroke-width="4.8" stroke-linejoin="round" stroke-linecap="round"/>
<polyline points="776.2,2363.8 776.9,2367.1 777.7,2365.2" fill="none" stroke="#92d050" stroke-width="4.8" stroke-linejoin="round" stroke-linecap="round"/>
<polyline points="784.0,2365.8 784.5,2367.4 785.0,2364.2" fill="none" stroke="#92d050" stroke-width="4.8" stroke-linejoin="round" stroke-linecap="round"/>
<polyline points="878.6,2340.0 879.1,2336.9 879.6,2337.6 880.2,2334.9 880.6,2335.2 881.1,2332.4 881.5,2333.2" fill="none" stroke="#92d050" stroke-width="4.8" stroke-linejoin="round" stroke-linecap="round"/>
<polyline points="896.1,2332.8 896.3,2333.3" fill="none" stroke="#92d050" stroke-width="4.8" stroke-linejoin="round" stroke-linecap="round"/>
<polyline points="896.9,2337.1 897.1,2338.4 897.3,2339.6 897.5,2340.9 897.7,2342.1" fill="none" stroke="#92d050" stroke-width="4.8" stroke-linejoin="round" stroke-linecap="round"/>
<polyline points="907.9,2362.4 908.8,2365.4 910.0,2363.5 911.2,2365.9 912.4,2364.3" fill="none" stroke="#92d050" stroke-width="4.8" stroke-linejoin="round" stroke-linecap="round"/>
<polyline points="918.3,2366.4 919.5,2363.9 920.6,2365.6 921.8,2363.8" fill="none" stroke="#92d050" stroke-width="4.8" stroke-linejoin="round" stroke-linecap="round"/>
<polyline points="925.1,2366.4 926.2,2364.5 927.3,2367.5 928.3,2365.5 929.4,2368.0 930.4,2367.4" fill="none" stroke="#92d050" stroke-width="4.8" stroke-linejoin="round" stroke-linecap="round"/>
<polyline points="935.4,2369.8 936.3,2366.9 937.2,2368.2 938.1,2365.7" fill="none" stroke="#92d050" stroke-width="4.8" stroke-linejoin="round" stroke-linecap="round"/>
<polyline points="940.0,2365.1 941.1,2368.2 942.1,2366.6 943.2,2368.9" fill="none" stroke="#92d050" stroke-width="4.8" stroke-linejoin="round" stroke-linecap="round"/>
<polyline points="947.8,2367.7 949.0,2365.0 950.1,2367.7 951.3,2364.6 952.5,2366.1 953.7,2363.8 954.9,2366.2 956.0,2363.6 957.2,2366.1 958.4,2363.4 959.6,2365.2 960.8,2362.8 961.9,2364.7" fill="none" stroke="#92d050" stroke-width="4.8" stroke-linejoin="round" stroke-linecap="round"/>
<polyline points="966.5,2364.3 967.6,2363.3 968.7,2365.6 969.7,2364.0" fill="none" stroke="#92d050" stroke-width="4.8" stroke-linejoin="round" stroke-linecap="round"/>
<polyline points="973.5,2362.2 974.3,2364.3 975.2,2361.5 975.7,2362.1" fill="none" stroke="#92d050" stroke-width="4.8" stroke-linejoin="round" stroke-linecap="round"/>
<polyline points="1000.9,2358.6 1001.2,2361.4 1002.0,2360.6" fill="none" stroke="#92d050" stroke-width="4.8" stroke-linejoin="round" stroke-linecap="round"/>
<polyline points="1015.0,2365.7 1015.9,2362.8 1016.8,2365.1 1017.7,2361.5" fill="none" stroke="#92d050" stroke-width="4.8" stroke-linejoin="round" stroke-linecap="round"/>
<polyline points="1019.5,2362.2 1020.4,2365.5 1021.2,2363.7 1022.1,2367.2" fill="none" stroke="#92d050" stroke-width="4.8" stroke-linejoin="round" stroke-linecap="round"/>
<polyline points="1058.0,2369.8 1058.7,2371.1 1059.4,2367.8 1060.2,2369.2 1061.3,2366.1 1062.4,2368.2" fill="none" stroke="#92d050" stroke-width="4.8" stroke-linejoin="round" stroke-linecap="round"/>
<polyline points="1067.6,2360.1 1067.8,2358.8" fill="none" stroke="#92d050" stroke-width="4.8" stroke-linejoin="round" stroke-linecap="round"/>
<polyline points="1073.6,2331.0 1073.7,2329.8 1073.8,2328.5 1073.9,2327.3 1074.1,2326.0 1074.2,2324.8 1074.4,2323.5 1074.5,2322.3" fill="none" stroke="#92d050" stroke-width="4.8" stroke-linejoin="round" stroke-linecap="round"/>
<polyline points="1077.4,2321.7 1077.5,2323.0 1077.6,2324.3 1077.8,2325.6 1077.9,2326.9 1078.0,2328.2" fill="none" stroke="#92d050" stroke-width="4.8" stroke-linejoin="round" stroke-linecap="round"/>
<polyline points="1080.5,2333.6 1080.6,2332.3 1080.7,2331.0 1080.8,2329.8 1080.9,2328.5 1081.0,2327.3 1081.1,2326.0 1081.2,2324.8 1081.3,2323.6 1081.4,2322.4 1081.5,2321.1" fill="none" stroke="#92d050" stroke-width="4.8" stroke-linejoin="round" stroke-linecap="round"/>
<polyline points="1085.9,2335.8 1086.0,2337.0 1086.1,2338.2 1086.2,2339.5 1086.4,2340.7 1086.5,2341.9" fill="none" stroke="#92d050" stroke-width="4.8" stroke-linejoin="round" stroke-linecap="round"/>
<polyline points="1114.3,2363.9 1115.0,2362.9 1116.2,2364.3" fill="none" stroke="#92d050" stroke-width="4.8" stroke-linejoin="round" stroke-linecap="round"/>
<polyline points="1120.6,2366.1 1120.9,2369.2" fill="none" stroke="#92d050" stroke-width="4.8" stroke-linejoin="round" stroke-linecap="round"/>
<polyline points="1189.0,2365.1 1189.5,2361.4 1190.0,2362.9 1190.5,2359.4" fill="none" stroke="#92d050" stroke-width="4.8" stroke-linejoin="round" stroke-linecap="round"/>
<polyline points="1217.0,2359.0 1217.7,2361.9 1218.4,2360.8 1219.1,2364.2" fill="none" stroke="#92d050" stroke-width="4.8" stroke-linejoin="round" stroke-linecap="round"/>
<polyline points="1251.3,2361.1 1252.4,2363.9 1253.5,2361.6 1254.7,2364.4 1255.9,2362.8 1257.2,2364.5" fill="none" stroke="#92d050" stroke-width="4.8" stroke-linejoin="round" stroke-linecap="round"/>
<polyline points="1321.6,2371.7 1322.5,2371.0 1323.4,2373.6 1324.2,2372.5 1325.1,2375.2 1326.0,2374.5" fill="none" stroke="#92d050" stroke-width="4.8" stroke-linejoin="round" stroke-linecap="round"/>
<polyline points="1555.4,2414.3 1555.9,2413.2 1556.4,2412.2 1556.9,2411.1 1559.5,2420.6 1561.2,2432.2 1562.8,2418.5 1563.1,2417.3 1563.4,2416.1 1563.7,2414.9 1564.0,2413.7" fill="none" stroke="#92d050" stroke-width="4.8" stroke-linejoin="round" stroke-linecap="round"/>
<polyline points="1570.8,2395.3 1571.2,2394.3 1571.6,2393.2 1572.0,2392.1" fill="none" stroke="#92d050" stroke-width="4.8" stroke-linejoin="round" stroke-linecap="round"/>
<polyline points="1623.3,2366.7 1624.4,2364.4 1625.4,2366.2 1626.3,2363.0 1627.2,2364.0" fill="none" stroke="#92d050" stroke-width="4.8" stroke-linejoin="round" stroke-linecap="round"/>
<polyline points="1629.4,2361.3 1629.9,2364.9 1630.4,2363.7 1630.8,2367.0" fill="none" stroke="#92d050" stroke-width="4.8" stroke-linejoin="round" stroke-linecap="round"/>
<polyline points="1633.8,2368.1 1634.9,2364.9 1635.9,2367.2 1637.0,2364.6 1638.0,2366.3" fill="none" stroke="#92d050" stroke-width="4.8" stroke-linejoin="round" stroke-linecap="round"/>
<polyline points="1642.3,2365.2 1643.3,2362.3" fill="none" stroke="#92d050" stroke-width="4.8" stroke-linejoin="round" stroke-linecap="round"/>
<polyline points="1681.2,2388.2 1681.7,2388.1" fill="none" stroke="#92d050" stroke-width="4.8" stroke-linejoin="round" stroke-linecap="round"/>
<polyline points="1682.6,2390.5 1683.0,2391.7 1683.5,2392.9 1683.9,2394.1 1684.4,2395.3 1684.6,2396.6 1684.8,2397.8 1685.0,2399.1 1685.2,2400.4 1685.4,2401.6" fill="none" stroke="#92d050" stroke-width="4.8" stroke-linejoin="round" stroke-linecap="round"/>
<polyline points="1733.1,2370.3 1733.8,2367.8 1734.5,2368.7 1735.2,2366.0 1735.9,2367.3 1736.6,2364.3" fill="none" stroke="#92d050" stroke-width="4.8" stroke-linejoin="round" stroke-linecap="round"/>
<polyline points="1785.3,2362.2 1786.2,2365.6 1787.3,2364.0 1788.3,2365.7 1789.4,2364.4 1790.4,2365.9 1791.5,2364.1 1792.6,2367.4" fill="none" stroke="#92d050" stroke-width="4.8" stroke-linejoin="round" stroke-linecap="round"/>
<polyline points="1813.9,2364.1 1814.9,2366.4 1815.9,2363.3 1817.1,2364.7 1818.2,2362.4 1819.3,2363.7 1820.5,2361.3 1821.6,2362.6 1822.7,2359.8 1823.9,2362.0 1825.0,2359.3" fill="none" stroke="#92d050" stroke-width="4.8" stroke-linejoin="round" stroke-linecap="round"/>
<polyline points="36.8,2358.3 37.7,2356.2" fill="none" stroke="#00b050" stroke-width="4.8" stroke-linejoin="round" stroke-linecap="round"/>
<polyline points="79.3,2364.3 80.2,2362.3 81.1,2365.2 81.9,2363.5" fill="none" stroke="#00b050" stroke-width="4.8" stroke-linejoin="round" stroke-linecap="round"/>
<polyline points="89.5,2366.4 89.9,2362.7 90.4,2364.0" fill="none" stroke="#00b050" stroke-width="4.8" stroke-linejoin="round" stroke-linecap="round"/>
<polyline points="95.9,2335.7 96.2,2336.8 96.5,2333.3 96.9,2335.1 97.2,2331.4" fill="none" stroke="#00b050" stroke-width="4.8" stroke-linejoin="round" stroke-linecap="round"/>
<polyline points="106.2,2338.4 106.5,2339.6 106.7,2340.9 107.0,2342.1 107.2,2343.4" fill="none" stroke="#00b050" stroke-width="4.8" stroke-linejoin="round" stroke-linecap="round"/>
<polyline points="117.7,2361.9 118.8,2364.7 119.8,2362.0 120.9,2364.6 121.9,2363.7 123.0,2365.8" fill="none" stroke="#00b050" stroke-width="4.8" stroke-linejoin="round" stroke-linecap="round"/>
<polyline points="134.0,2366.5 134.5,2363.4 135.0,2365.3 135.9,2361.5" fill="none" stroke="#00b050" stroke-width="4.8" stroke-linejoin="round" stroke-linecap="round"/>
<polyline points="143.5,2345.1 143.7,2343.9 143.9,2342.7 144.0,2341.4 144.2,2340.1" fill="none" stroke="#00b050" stroke-width="4.8" stroke-linejoin="round" stroke-linecap="round"/>
<polyline points="154.7,2337.9 154.8,2339.1 154.9,2340.3 155.0,2341.5 155.1,2342.7 155.2,2343.8" fill="none" stroke="#00b050" stroke-width="4.8" stroke-linejoin="round" stroke-linecap="round"/>
<polyline points="163.4,2364.5 164.2,2367.3 165.0,2364.8" fill="none" stroke="#00b050" stroke-width="4.8" stroke-linejoin="round" stroke-linecap="round"/>
<polyline points="175.9,2363.2 176.6,2366.3 177.5,2362.8" fill="none" stroke="#00b050" stroke-width="4.8" stroke-linejoin="round" stroke-linecap="round"/>
<polyline points="190.8,2362.1 191.7,2364.7 192.7,2361.8" fill="none" stroke="#00b050" stroke-width="4.8" stroke-linejoin="round" stroke-linecap="round"/>
<polyline points="212.0,2310.8 212.1,2309.5 212.2,2308.3 212.3,2307.0 212.3,2305.7 212.4,2304.5 212.5,2303.2 212.6,2301.9 213.8,2301.1 213.9,2302.3 213.9,2303.5 214.0,2304.8 214.0,2306.0 214.1,2307.3 214.2,2308.5 214.2,2309.7 214.3,2311.0" fill="none" stroke="#00b050" stroke-width="4.8" stroke-linejoin="round" stroke-linecap="round"/>
<polyline points="226.2,2364.4 227.1,2362.6 228.0,2365.8 228.8,2364.9" fill="none" stroke="#00b050" stroke-width="4.8" stroke-linejoin="round" stroke-linecap="round"/>
<polyline points="246.5,2363.1 246.8,2363.6 247.1,2360.7 247.4,2361.5 247.6,2359.2 247.8,2358.0" fill="none" stroke="#00b050" stroke-width="4.8" stroke-linejoin="round" stroke-linecap="round"/>
<polyline points="250.5,2343.4 250.7,2342.1 251.0,2340.9 251.5,2339.0 252.0,2339.8 252.6,2337.0 253.1,2338.1 253.6,2334.6 254.7,2335.9 255.8,2333.1 256.9,2335.1 258.1,2331.9 258.9,2335.1 259.8,2333.3 260.7,2336.2 261.6,2334.6 262.5,2337.0 262.9,2336.6 263.2,2339.5 263.6,2339.3 264.0,2342.4" fill="none" stroke="#00b050" stroke-width="4.8" stroke-linejoin="round" stroke-linecap="round"/>
<polyline points="278.8,2345.5 278.9,2344.2 279.1,2343.0 279.3,2341.8" fill="none" stroke="#00b050" stroke-width="4.8" stroke-linejoin="round" stroke-linecap="round"/>
<polyline points="297.2,2340.2 297.3,2341.5 297.4,2342.8 297.5,2344.1" fill="none" stroke="#00b050" stroke-width="4.8" stroke-linejoin="round" stroke-linecap="round"/>
<polyline points="307.8,2365.1 308.7,2363.5 309.6,2366.4 310.1,2364.7" fill="none" stroke="#00b050" stroke-width="4.8" stroke-linejoin="round" stroke-linecap="round"/>
<polyline points="346.3,2385.7 347.0,2384.8 347.8,2383.9 348.5,2383.0" fill="none" stroke="#00b050" stroke-width="4.8" stroke-linejoin="round" stroke-linecap="round"/>
<polyline points="348.9,2381.2 349.3,2382.1 349.7,2378.4 350.1,2379.2 350.5,2376.0" fill="none" stroke="#00b050" stroke-width="4.8" stroke-linejoin="round" stroke-linecap="round"/>
<polyline points="361.4,2337.1 361.5,2335.8 361.5,2334.5 361.6,2333.3 361.6,2332.0 361.7,2330.7" fill="none" stroke="#00b050" stroke-width="4.8" stroke-linejoin="round" stroke-linecap="round"/>
<polyline points="367.4,2330.6 367.6,2331.9 367.8,2333.1 368.0,2334.3" fill="none" stroke="#00b050" stroke-width="4.8" stroke-linejoin="round" stroke-linecap="round"/>
<polyline points="370.6,2339.6 370.7,2338.4 370.7,2337.1 370.8,2335.8 370.9,2334.5" fill="none" stroke="#00b050" stroke-width="4.8" stroke-linejoin="round" stroke-linecap="round"/>
<polyline points="383.0,2330.8 383.2,2332.0 383.4,2333.3 383.5,2334.5 383.7,2335.8 383.9,2337.0 384.1,2338.2 384.3,2339.4" fill="none" stroke="#00b050" stroke-width="4.8" stroke-linejoin="round" stroke-linecap="round"/>
<polyline points="398.1,2340.8 398.1,2339.5 398.2,2338.3 398.3,2337.0" fill="none" stroke="#00b050" stroke-width="4.8" stroke-linejoin="round" stroke-linecap="round"/>
<polyline points="407.8,2328.1 407.9,2329.4 407.9,2330.7 408.0,2331.9 408.1,2333.2 408.2,2334.5" fill="none" stroke="#00b050" stroke-width="4.8" stroke-linejoin="round" stroke-linecap="round"/>
<polyline points="408.4,2334.5 408.5,2333.2 408.6,2331.9 408.6,2330.7" fill="none" stroke="#00b050" stroke-width="4.8" stroke-linejoin="round" stroke-linecap="round"/>
<polyline points="416.0,2332.0 416.1,2333.3 416.2,2334.6 416.2,2335.9 416.3,2337.2 416.4,2338.4" fill="none" stroke="#00b050" stroke-width="4.8" stroke-linejoin="round" stroke-linecap="round"/>
<polyline points="429.9,2367.4 431.1,2365.5 432.3,2367.7 433.5,2366.5 434.6,2367.8 435.8,2366.4 437.0,2368.4 438.2,2366.3 439.4,2367.8 440.5,2366.4 441.7,2368.4 442.9,2365.3 444.1,2367.9 445.3,2365.6 446.4,2367.2 447.6,2365.3 448.5,2366.3 449.4,2363.7 450.3,2364.6" fill="none" stroke="#00b050" stroke-width="4.8" stroke-linejoin="round" stroke-linecap="round"/>
<polyline points="457.0,2342.8 457.3,2343.3 457.9,2340.2" fill="none" stroke="#00b050" stroke-width="4.8" stroke-linejoin="round" stroke-linecap="round"/>
<polyline points="471.5,2338.0 471.8,2339.3 472.0,2340.5 472.2,2341.7 472.3,2342.9" fill="none" stroke="#00b050" stroke-width="4.8" stroke-linejoin="round" stroke-linecap="round"/>
<polyline points="479.5,2364.8 480.4,2363.8 481.2,2366.7 482.3,2364.0 483.4,2366.9 484.4,2364.5 485.5,2367.4 486.5,2365.5 487.6,2366.6 488.7,2363.7 489.7,2365.5 490.8,2362.0 491.9,2364.1 492.7,2360.6 493.6,2362.4 494.5,2358.7" fill="none" stroke="#00b050" stroke-width="4.8" stroke-linejoin="round" stroke-linecap="round"/>
<polyline points="501.4,2363.6 501.6,2364.8" fill="none" stroke="#00b050" stroke-width="4.8" stroke-linejoin="round" stroke-linecap="round"/>
<polyline points="516.5,2372.0 517.6,2373.8 518.7,2371.5 519.2,2372.7 519.6,2369.0" fill="none" stroke="#00b050" stroke-width="4.8" stroke-linejoin="round" stroke-linecap="round"/>
<polyline points="527.4,2379.4 527.5,2380.6 527.7,2381.8 527.8,2383.0 528.0,2384.2 528.1,2385.4" fill="none" stroke="#00b050" stroke-width="4.8" stroke-linejoin="round" stroke-linecap="round"/>
<polyline points="531.0,2389.0 531.2,2387.7 531.3,2386.4 531.5,2385.2 531.6,2383.9" fill="none" stroke="#00b050" stroke-width="4.8" stroke-linejoin="round" stroke-linecap="round"/>
<polyline points="537.0,2392.6 537.1,2393.9 537.2,2395.2 537.3,2396.5 537.4,2397.8 537.5,2399.0 537.6,2400.2 537.8,2401.4 537.9,2402.6 538.0,2403.8 538.2,2404.9" fill="none" stroke="#00b050" stroke-width="4.8" stroke-linejoin="round" stroke-linecap="round"/>
<polyline points="539.4,2407.1 539.5,2405.9 539.5,2404.7 539.6,2403.4 539.7,2402.2 539.8,2401.0 539.9,2399.7 540.0,2398.5 540.1,2397.3" fill="none" stroke="#00b050" stroke-width="4.8" stroke-linejoin="round" stroke-linecap="round"/>
<polyline points="545.9,2387.4 546.0,2388.6 546.2,2389.8 546.4,2391.0 546.5,2392.2 546.7,2393.4 548.9,2386.8 549.1,2385.6 549.4,2384.4 549.6,2383.2 549.9,2381.9 550.1,2380.7" fill="none" stroke="#00b050" stroke-width="4.8" stroke-linejoin="round" stroke-linecap="round"/>
<polyline points="557.6,2218.7 557.6,2217.6 557.6,2160.0 558.9,1958.0 560.9,1958.0 562.4,2160.0 562.8,2217.0 562.8,2218.0" fill="none" stroke="#00b050" stroke-width="4.8" stroke-linejoin="round" stroke-linecap="round"/>
<polyline points="566.8,2272.6 566.9,2271.4 566.9,2270.1 567.0,2268.9 567.0,2267.7 567.1,2266.5 567.1,2265.2 567.2,2264.0 567.2,2262.8 567.3,2261.5 567.4,2260.3 567.5,2259.0 567.7,2257.7" fill="none" stroke="#00b050" stroke-width="4.8" stroke-linejoin="round" stroke-linecap="round"/>
<polyline points="568.6,2257.7 568.7,2259.0 568.9,2260.3 569.0,2261.5 569.1,2262.8 569.1,2264.0 569.1,2265.2 569.2,2266.5 569.2,2267.7 569.3,2268.9 569.3,2270.1 569.4,2271.4 569.4,2272.6" fill="none" stroke="#00b050" stroke-width="4.8" stroke-linejoin="round" stroke-linecap="round"/>
<polyline points="576.4,2371.5 576.9,2370.3 577.6,2373.3" fill="none" stroke="#00b050" stroke-width="4.8" stroke-linejoin="round" stroke-linecap="round"/>
<polyline points="583.5,2364.9 584.1,2365.7 584.6,2363.0 585.7,2365.3 586.8,2363.0 587.9,2364.9 588.5,2361.9" fill="none" stroke="#00b050" stroke-width="4.8" stroke-linejoin="round" stroke-linecap="round"/>
<polyline points="598.5,2347.1 599.0,2344.2 599.5,2345.4 600.3,2342.8 601.1,2344.2" fill="none" stroke="#00b050" stroke-width="4.8" stroke-linejoin="round" stroke-linecap="round"/>
<polyline points="601.4,2344.0 601.6,2345.1" fill="none" stroke="#00b050" stroke-width="4.8" stroke-linejoin="round" stroke-linecap="round"/>
<polyline points="606.8,2363.6 607.1,2362.9 607.7,2365.4" fill="none" stroke="#00b050" stroke-width="4.8" stroke-linejoin="round" stroke-linecap="round"/>
<polyline points="611.0,2365.7 611.5,2362.6 612.0,2363.4" fill="none" stroke="#00b050" stroke-width="4.8" stroke-linejoin="round" stroke-linecap="round"/>
<polyline points="618.3,2345.3 618.7,2345.7 619.2,2342.4" fill="none" stroke="#00b050" stroke-width="4.8" stroke-linejoin="round" stroke-linecap="round"/>
<polyline points="626.1,2344.7 627.1,2347.2 627.8,2346.5" fill="none" stroke="#00b050" stroke-width="4.8" stroke-linejoin="round" stroke-linecap="round"/>
<polyline points="637.0,2348.1 637.7,2348.6 638.4,2346.3 639.0,2347.0" fill="none" stroke="#00b050" stroke-width="4.8" stroke-linejoin="round" stroke-linecap="round"/>
<polyline points="653.2,2276.3 653.2,2277.6 653.3,2278.9 653.3,2280.2 653.3,2281.5 653.4,2282.8 653.4,2284.0 653.4,2285.3 653.5,2286.6 653.5,2287.9 653.5,2289.2 653.6,2290.5 653.6,2291.8 653.6,2293.1 654.5,2325.0 654.7,2326.2 654.8,2327.5 655.0,2328.8 655.2,2330.1 655.3,2331.4" fill="none" stroke="#00b050" stroke-width="4.8" stroke-linejoin="round" stroke-linecap="round"/>
<polyline points="657.6,2341.2 658.1,2344.4 658.5,2344.4 658.9,2347.5 659.6,2345.8" fill="none" stroke="#00b050" stroke-width="4.8" stroke-linejoin="round" stroke-linecap="round"/>
<polyline points="684.3,2338.3 684.4,2337.1 684.5,2335.8 684.6,2334.6" fill="none" stroke="#00b050" stroke-width="4.8" stroke-linejoin="round" stroke-linecap="round"/>
<polyline points="689.9,2336.8 690.1,2337.9" fill="none" stroke="#00b050" stroke-width="4.8" stroke-linejoin="round" stroke-linecap="round"/>
<polyline points="691.0,2334.4 691.1,2333.2 691.3,2332.0 691.4,2330.9 691.5,2329.7 691.7,2328.5 691.9,2327.4 692.2,2326.2" fill="none" stroke="#00b050" stroke-width="4.8" stroke-linejoin="round" stroke-linecap="round"/>
<polyline points="695.6,2332.2 695.8,2333.4 695.9,2334.6 696.0,2335.8 696.2,2337.1 696.3,2338.3 696.4,2339.5 696.6,2340.7" fill="none" stroke="#00b050" stroke-width="4.8" stroke-linejoin="round" stroke-linecap="round"/>
<polyline points="698.8,2338.2 698.9,2337.8" fill="none" stroke="#00b050" stroke-width="4.8" stroke-linejoin="round" stroke-linecap="round"/>
<polyline points="699.2,2335.3 699.4,2334.0 699.6,2332.7 699.7,2331.4 699.9,2330.1 700.0,2328.8" fill="none" stroke="#00b050" stroke-width="4.8" stroke-linejoin="round" stroke-linecap="round"/>
<polyline points="706.3,2346.4 706.7,2344.7 707.6,2347.7 708.5,2346.3 709.4,2348.3 710.3,2346.4 711.3,2349.6" fill="none" stroke="#00b050" stroke-width="4.8" stroke-linejoin="round" stroke-linecap="round"/>
<polyline points="740.9,2362.4 741.4,2365.2" fill="none" stroke="#00b050" stroke-width="4.8" stroke-linejoin="round" stroke-linecap="round"/>
<polyline points="745.1,2365.8 745.8,2362.5" fill="none" stroke="#00b050" stroke-width="4.8" stroke-linejoin="round" stroke-linecap="round"/>
<polyline points="747.3,2362.4 748.0,2364.9 748.8,2363.3" fill="none" stroke="#00b050" stroke-width="4.8" stroke-linejoin="round" stroke-linecap="round"/>
<polyline points="754.2,2364.6 755.2,2366.1" fill="none" stroke="#00b050" stroke-width="4.8" stroke-linejoin="round" stroke-linecap="round"/>
<polyline points="757.0,2365.4 757.8,2364.4 758.5,2367.5" fill="none" stroke="#00b050" stroke-width="4.8" stroke-linejoin="round" stroke-linecap="round"/>
<polyline points="771.8,2363.8 772.5,2365.4 773.2,2362.2" fill="none" stroke="#00b050" stroke-width="4.8" stroke-linejoin="round" stroke-linecap="round"/>
<polyline points="774.7,2361.5 775.5,2364.5 776.2,2363.8" fill="none" stroke="#00b050" stroke-width="4.8" stroke-linejoin="round" stroke-linecap="round"/>
<polyline points="785.0,2364.2 785.5,2365.2 785.8,2362.7 786.1,2361.5" fill="none" stroke="#00b050" stroke-width="4.8" stroke-linejoin="round" stroke-linecap="round"/>
<polyline points="793.5,2364.5 794.3,2362.4 795.1,2364.2 795.8,2360.6" fill="none" stroke="#00b050" stroke-width="4.8" stroke-linejoin="round" stroke-linecap="round"/>
<polyline points="874.6,2347.5 874.9,2346.2 875.4,2346.2 875.9,2343.2 876.5,2344.4 877.0,2340.4 877.5,2341.6 878.1,2338.6 878.6,2340.0" fill="none" stroke="#00b050" stroke-width="4.8" stroke-linejoin="round" stroke-linecap="round"/>
<polyline points="897.7,2342.1 897.8,2343.2 897.9,2344.4" fill="none" stroke="#00b050" stroke-width="4.8" stroke-linejoin="round" stroke-linecap="round"/>
<polyline points="905.1,2362.5 906.1,2360.9 907.0,2363.4 907.9,2362.4" fill="none" stroke="#00b050" stroke-width="4.8" stroke-linejoin="round" stroke-linecap="round"/>
<polyline points="921.8,2363.8 923.0,2365.4 924.1,2363.4 925.1,2366.4" fill="none" stroke="#00b050" stroke-width="4.8" stroke-linejoin="round" stroke-linecap="round"/>
<polyline points="938.1,2365.7 938.9,2366.5 940.0,2365.1" fill="none" stroke="#00b050" stroke-width="4.8" stroke-linejoin="round" stroke-linecap="round"/>
<polyline points="961.9,2364.7 963.1,2362.6 964.3,2364.7 965.5,2361.6 966.5,2364.3" fill="none" stroke="#00b050" stroke-width="4.8" stroke-linejoin="round" stroke-linecap="round"/>
<polyline points="975.7,2362.1 976.1,2358.4 976.5,2359.2" fill="none" stroke="#00b050" stroke-width="4.8" stroke-linejoin="round" stroke-linecap="round"/>
<polyline points="986.6,2331.8 986.9,2330.5 987.1,2329.3 987.4,2328.0 987.6,2326.7 988.5,2327.0 989.4,2329.7" fill="none" stroke="#00b050" stroke-width="4.8" stroke-linejoin="round" stroke-linecap="round"/>
<polyline points="989.6,2329.7 989.8,2330.9 990.0,2332.0 990.2,2333.2 990.4,2334.4" fill="none" stroke="#00b050" stroke-width="4.8" stroke-linejoin="round" stroke-linecap="round"/>
<polyline points="994.2,2339.1 994.6,2337.0" fill="none" stroke="#00b050" stroke-width="4.8" stroke-linejoin="round" stroke-linecap="round"/>
<polyline points="995.1,2337.8 995.5,2334.6 996.0,2336.2 996.5,2332.8 996.7,2334.9 997.0,2335.9 997.2,2337.0" fill="none" stroke="#00b050" stroke-width="4.8" stroke-linejoin="round" stroke-linecap="round"/>
<polyline points="1000.5,2358.9 1000.9,2358.6" fill="none" stroke="#00b050" stroke-width="4.8" stroke-linejoin="round" stroke-linecap="round"/>
<polyline points="1017.7,2361.5 1018.6,2363.5 1019.5,2362.2" fill="none" stroke="#00b050" stroke-width="4.8" stroke-linejoin="round" stroke-linecap="round"/>
<polyline points="1067.8,2358.8 1067.9,2357.6" fill="none" stroke="#00b050" stroke-width="4.8" stroke-linejoin="round" stroke-linecap="round"/>
<polyline points="1073.2,2337.3 1073.3,2336.1 1073.4,2334.8 1073.5,2333.6 1073.5,2332.3 1073.6,2331.0" fill="none" stroke="#00b050" stroke-width="4.8" stroke-linejoin="round" stroke-linecap="round"/>
<polyline points="1078.0,2328.2 1078.1,2329.5 1078.3,2330.7 1078.4,2332.0 1078.5,2333.3 1078.6,2334.6 1078.7,2335.9 1078.9,2337.2 1079.0,2338.5 1079.1,2339.8" fill="none" stroke="#00b050" stroke-width="4.8" stroke-linejoin="round" stroke-linecap="round"/>
<polyline points="1079.9,2342.4 1080.0,2341.1 1080.1,2339.9 1080.2,2338.6 1080.3,2337.3 1080.4,2336.1 1080.4,2334.8 1080.5,2333.6" fill="none" stroke="#00b050" stroke-width="4.8" stroke-linejoin="round" stroke-linecap="round"/>
<polyline points="1086.5,2341.9 1086.6,2343.2 1086.7,2344.4 1087.3,2342.3 1087.9,2344.2 1088.5,2340.6 1089.0,2342.1 1089.5,2341.1 1089.9,2343.6 1090.3,2343.5" fill="none" stroke="#00b050" stroke-width="4.8" stroke-linejoin="round" stroke-linecap="round"/>
<polyline points="1112.9,2362.2 1113.6,2361.2 1114.3,2363.9" fill="none" stroke="#00b050" stroke-width="4.8" stroke-linejoin="round" stroke-linecap="round"/>
<polyline points="1116.2,2364.3 1117.3,2362.4" fill="none" stroke="#00b050" stroke-width="4.8" stroke-linejoin="round" stroke-linecap="round"/>
<polyline points="1120.1,2362.9 1120.4,2366.4 1120.6,2366.1" fill="none" stroke="#00b050" stroke-width="4.8" stroke-linejoin="round" stroke-linecap="round"/>
<polyline points="1190.5,2359.4 1191.0,2361.2 1191.5,2357.5 1192.6,2359.4" fill="none" stroke="#00b050" stroke-width="4.8" stroke-linejoin="round" stroke-linecap="round"/>
<polyline points="1205.5,2357.8 1206.5,2357.0 1207.6,2358.9" fill="none" stroke="#00b050" stroke-width="4.8" stroke-linejoin="round" stroke-linecap="round"/>
<polyline points="1215.2,2356.6 1216.3,2359.9 1217.0,2359.0" fill="none" stroke="#00b050" stroke-width="4.8" stroke-linejoin="round" stroke-linecap="round"/>
<polyline points="1257.2,2364.5 1258.4,2362.7 1259.6,2365.3 1260.8,2363.0 1262.0,2365.2 1263.2,2362.8 1264.4,2364.7 1265.5,2362.4 1266.7,2364.5 1267.8,2362.0" fill="none" stroke="#00b050" stroke-width="4.8" stroke-linejoin="round" stroke-linecap="round"/>
<polyline points="1291.5,2344.5 1292.4,2341.7 1293.3,2342.7 1294.2,2340.3 1295.0,2342.4 1295.9,2340.3 1296.6,2343.5 1297.3,2343.2" fill="none" stroke="#00b050" stroke-width="4.8" stroke-linejoin="round" stroke-linecap="round"/>
<polyline points="1317.6,2365.8 1318.3,2368.3 1319.1,2367.0 1319.8,2370.6 1320.7,2369.4 1321.6,2371.7" fill="none" stroke="#00b050" stroke-width="4.8" stroke-linejoin="round" stroke-linecap="round"/>
<polyline points="1564.0,2413.7 1564.3,2412.5 1564.6,2411.3 1564.9,2410.1 1567.5,2409.0 1570.0,2397.4 1570.4,2396.4 1570.8,2395.3" fill="none" stroke="#00b050" stroke-width="4.8" stroke-linejoin="round" stroke-linecap="round"/>
<polyline points="1627.2,2364.0 1628.1,2361.7 1629.0,2363.0 1629.4,2361.3" fill="none" stroke="#00b050" stroke-width="4.8" stroke-linejoin="round" stroke-linecap="round"/>
<polyline points="1643.3,2362.3 1644.4,2364.0" fill="none" stroke="#00b050" stroke-width="4.8" stroke-linejoin="round" stroke-linecap="round"/>
<polyline points="1650.0,2361.4 1650.7,2360.7 1651.4,2363.5 1652.1,2362.4 1652.8,2365.5 1653.5,2363.9 1654.2,2366.9 1654.9,2365.3 1655.8,2369.0 1656.7,2367.7 1657.5,2370.4 1658.4,2368.2 1659.3,2371.8 1660.2,2370.4 1661.2,2372.1 1662.3,2369.0 1663.3,2370.4" fill="none" stroke="#00b050" stroke-width="4.8" stroke-linejoin="round" stroke-linecap="round"/>
<polyline points="1667.5,2370.9 1668.2,2373.2 1668.9,2372.6 1669.6,2375.6 1670.7,2374.0 1671.8,2376.2 1672.8,2374.6 1673.9,2378.2 1674.9,2376.7 1675.6,2379.9 1676.3,2378.3 1677.0,2381.9 1677.7,2380.4 1678.4,2384.2 1679.1,2382.3 1679.8,2386.2 1680.5,2385.1 1681.2,2388.2" fill="none" stroke="#00b050" stroke-width="4.8" stroke-linejoin="round" stroke-linecap="round"/>
<polyline points="1681.7,2388.1 1682.1,2389.3 1682.6,2390.5" fill="none" stroke="#00b050" stroke-width="4.8" stroke-linejoin="round" stroke-linecap="round"/>
<polyline points="1736.6,2364.3 1737.3,2366.0 1738.1,2363.1 1738.5,2364.0" fill="none" stroke="#00b050" stroke-width="4.8" stroke-linejoin="round" stroke-linecap="round"/>
<polyline points="1777.2,2362.6 1777.7,2361.4 1778.8,2362.8" fill="none" stroke="#00b050" stroke-width="4.8" stroke-linejoin="round" stroke-linecap="round"/>
<polyline points="1783.6,2361.7 1784.5,2364.3 1785.3,2362.2" fill="none" stroke="#00b050" stroke-width="4.8" stroke-linejoin="round" stroke-linecap="round"/>
<polyline points="1825.0,2359.3 1826.1,2360.5 1827.3,2358.2 1828.4,2359.2 1829.5,2356.8 1830.7,2359.1" fill="none" stroke="#00b050" stroke-width="4.8" stroke-linejoin="round" stroke-linecap="round"/>
<polyline points="1880.9,2360.6 1881.8,2363.6 1882.5,2360.7" fill="none" stroke="#00b050" stroke-width="4.8" stroke-linejoin="round" stroke-linecap="round"/>
<polyline points="37.7,2356.2 38.6,2357.2" fill="none" stroke="#00b0f0" stroke-width="4.8" stroke-linejoin="round" stroke-linecap="round"/>
<polyline points="76.6,2359.6 77.5,2362.5 78.4,2361.0 79.3,2364.3" fill="none" stroke="#00b0f0" stroke-width="4.8" stroke-linejoin="round" stroke-linecap="round"/>
<polyline points="90.4,2364.0 90.8,2360.8" fill="none" stroke="#00b0f0" stroke-width="4.8" stroke-linejoin="round" stroke-linecap="round"/>
<polyline points="91.0,2360.9 91.2,2359.8" fill="none" stroke="#00b0f0" stroke-width="4.8" stroke-linejoin="round" stroke-linecap="round"/>
<polyline points="94.4,2342.8 94.7,2341.6 95.0,2340.4 95.2,2339.1 95.6,2339.2 95.9,2335.7" fill="none" stroke="#00b0f0" stroke-width="4.8" stroke-linejoin="round" stroke-linecap="round"/>
<polyline points="107.2,2343.4 107.5,2344.7 107.7,2345.9 108.0,2347.2" fill="none" stroke="#00b0f0" stroke-width="4.8" stroke-linejoin="round" stroke-linecap="round"/>
<polyline points="114.1,2358.6 114.8,2362.7 115.6,2361.3 116.6,2363.5 117.7,2361.9" fill="none" stroke="#00b0f0" stroke-width="4.8" stroke-linejoin="round" stroke-linecap="round"/>
<polyline points="135.9,2361.5 136.8,2363.5 137.7,2360.0" fill="none" stroke="#00b0f0" stroke-width="4.8" stroke-linejoin="round" stroke-linecap="round"/>
<polyline points="143.0,2348.8 143.2,2347.6 143.4,2346.4 143.5,2345.1" fill="none" stroke="#00b0f0" stroke-width="4.8" stroke-linejoin="round" stroke-linecap="round"/>
<polyline points="155.2,2343.8 155.3,2345.0 155.4,2346.2 155.7,2347.5 155.9,2348.7" fill="none" stroke="#00b0f0" stroke-width="4.8" stroke-linejoin="round" stroke-linecap="round"/>
<polyline points="160.7,2364.2 161.6,2363.3 162.5,2366.2 163.4,2364.5" fill="none" stroke="#00b0f0" stroke-width="4.8" stroke-linejoin="round" stroke-linecap="round"/>
<polyline points="165.0,2364.8 165.7,2365.7 166.4,2363.0 167.1,2363.9" fill="none" stroke="#00b0f0" stroke-width="4.8" stroke-linejoin="round" stroke-linecap="round"/>
<polyline points="174.4,2359.9 175.2,2363.4 175.9,2363.2" fill="none" stroke="#00b0f0" stroke-width="4.8" stroke-linejoin="round" stroke-linecap="round"/>
<polyline points="177.5,2362.8 178.4,2363.7 179.3,2360.7" fill="none" stroke="#00b0f0" stroke-width="4.8" stroke-linejoin="round" stroke-linecap="round"/>
<polyline points="189.0,2359.8 189.9,2363.5 190.8,2362.1" fill="none" stroke="#00b0f0" stroke-width="4.8" stroke-linejoin="round" stroke-linecap="round"/>
<polyline points="192.7,2361.8 193.8,2364.1 194.9,2360.3 195.9,2362.8" fill="none" stroke="#00b0f0" stroke-width="4.8" stroke-linejoin="round" stroke-linecap="round"/>
<polyline points="205.0,2360.6 205.8,2363.4 206.2,2359.5 206.5,2361.2" fill="none" stroke="#00b0f0" stroke-width="4.8" stroke-linejoin="round" stroke-linecap="round"/>
<polyline points="210.9,2329.4 211.0,2328.2 211.0,2326.9 211.1,2325.7 211.2,2324.5 211.3,2323.3 211.3,2322.1 211.4,2320.9 211.5,2319.6 211.6,2318.4 211.7,2317.1 211.7,2315.9 211.8,2314.6 211.9,2313.3 212.0,2312.1 212.0,2310.8" fill="none" stroke="#00b0f0" stroke-width="4.8" stroke-linejoin="round" stroke-linecap="round"/>
<polyline points="214.3,2311.0 214.3,2312.2 214.4,2313.5 214.5,2314.7 214.5,2315.9 214.6,2317.2 214.6,2318.4 214.7,2319.6 214.7,2320.9 214.8,2322.2 214.9,2323.5 214.9,2324.8 215.0,2326.1 215.0,2327.4 215.1,2328.7 215.2,2330.0" fill="none" stroke="#00b0f0" stroke-width="4.8" stroke-linejoin="round" stroke-linecap="round"/>
<polyline points="224.2,2362.7 225.3,2360.6 226.2,2364.4" fill="none" stroke="#00b0f0" stroke-width="4.8" stroke-linejoin="round" stroke-linecap="round"/>
<polyline points="247.8,2358.0 248.0,2356.8 248.2,2355.6 248.4,2354.5 248.6,2353.3 248.8,2352.1" fill="none" stroke="#00b0f0" stroke-width="4.8" stroke-linejoin="round" stroke-linecap="round"/>
<polyline points="249.7,2347.2 250.0,2345.9 250.2,2344.7 250.5,2343.4" fill="none" stroke="#00b0f0" stroke-width="4.8" stroke-linejoin="round" stroke-linecap="round"/>
<polyline points="264.0,2342.4 264.4,2341.4 264.8,2344.3 265.1,2343.1 265.6,2346.7 266.0,2345.7" fill="none" stroke="#00b0f0" stroke-width="4.8" stroke-linejoin="round" stroke-linecap="round"/>
<polyline points="278.4,2348.0 278.6,2346.7 278.8,2345.5" fill="none" stroke="#00b0f0" stroke-width="4.8" stroke-linejoin="round" stroke-linecap="round"/>
<polyline points="297.5,2344.1 297.8,2346.7 298.1,2344.8 298.4,2348.1 298.7,2347.6" fill="none" stroke="#00b0f0" stroke-width="4.8" stroke-linejoin="round" stroke-linecap="round"/>
<polyline points="305.1,2359.0 306.0,2363.3 306.9,2361.9 307.8,2365.1" fill="none" stroke="#00b0f0" stroke-width="4.8" stroke-linejoin="round" stroke-linecap="round"/>
<polyline points="348.5,2383.0 348.9,2381.2" fill="none" stroke="#00b0f0" stroke-width="4.8" stroke-linejoin="round" stroke-linecap="round"/>
<polyline points="350.5,2376.0 350.9,2377.5 351.2,2373.9 351.6,2374.3 352.0,2371.3" fill="none" stroke="#00b0f0" stroke-width="4.8" stroke-linejoin="round" stroke-linecap="round"/>
<polyline points="352.2,2371.1 352.3,2369.9 352.4,2368.6 352.5,2367.3" fill="none" stroke="#00b0f0" stroke-width="4.8" stroke-linejoin="round" stroke-linecap="round"/>
<polyline points="361.2,2342.2 361.3,2340.9 361.3,2339.6 361.4,2338.4 361.4,2337.1" fill="none" stroke="#00b0f0" stroke-width="4.8" stroke-linejoin="round" stroke-linecap="round"/>
<polyline points="368.0,2334.3 368.1,2335.6 368.3,2336.8 368.5,2338.1" fill="none" stroke="#00b0f0" stroke-width="4.8" stroke-linejoin="round" stroke-linecap="round"/>
<polyline points="370.4,2344.8 370.4,2343.5 370.5,2342.2 370.6,2340.9 370.6,2339.6" fill="none" stroke="#00b0f0" stroke-width="4.8" stroke-linejoin="round" stroke-linecap="round"/>
<polyline points="384.3,2339.4 384.5,2340.5 384.7,2341.7 384.9,2342.9 385.1,2344.1 385.3,2345.3" fill="none" stroke="#00b0f0" stroke-width="4.8" stroke-linejoin="round" stroke-linecap="round"/>
<polyline points="390.8,2360.7 391.4,2359.8 391.9,2362.3 392.6,2359.9" fill="none" stroke="#00b0f0" stroke-width="4.8" stroke-linejoin="round" stroke-linecap="round"/>
<polyline points="397.8,2344.6 397.9,2343.3 398.0,2342.0 398.1,2340.8" fill="none" stroke="#00b0f0" stroke-width="4.8" stroke-linejoin="round" stroke-linecap="round"/>
<polyline points="408.2,2334.5 408.2,2335.7 408.3,2337.0 408.4,2335.7 408.4,2334.5" fill="none" stroke="#00b0f0" stroke-width="4.8" stroke-linejoin="round" stroke-linecap="round"/>
<polyline points="416.4,2338.4 416.5,2339.7 416.6,2341.0 416.6,2342.3 416.8,2343.5 417.0,2344.7" fill="none" stroke="#00b0f0" stroke-width="4.8" stroke-linejoin="round" stroke-linecap="round"/>
<polyline points="424.6,2361.9 425.5,2366.0 426.4,2364.4 427.6,2367.0 428.7,2364.6 429.9,2367.4" fill="none" stroke="#00b0f0" stroke-width="4.8" stroke-linejoin="round" stroke-linecap="round"/>
<polyline points="450.3,2364.6 451.2,2361.8 452.0,2363.3 452.3,2360.6 452.6,2359.4" fill="none" stroke="#00b0f0" stroke-width="4.8" stroke-linejoin="round" stroke-linecap="round"/>
<polyline points="456.0,2348.7 456.3,2344.7 456.7,2345.4 457.0,2342.8" fill="none" stroke="#00b0f0" stroke-width="4.8" stroke-linejoin="round" stroke-linecap="round"/>
<polyline points="472.3,2342.9 472.4,2344.1 472.6,2345.3 472.7,2346.4 472.9,2347.6 473.0,2348.8" fill="none" stroke="#00b0f0" stroke-width="4.8" stroke-linejoin="round" stroke-linecap="round"/>
<polyline points="473.6,2350.8 473.9,2354.8 474.3,2352.8 474.6,2357.1" fill="none" stroke="#00b0f0" stroke-width="4.8" stroke-linejoin="round" stroke-linecap="round"/>
<polyline points="476.8,2358.9 477.7,2362.5 478.6,2361.3 479.5,2364.8" fill="none" stroke="#00b0f0" stroke-width="4.8" stroke-linejoin="round" stroke-linecap="round"/>
<polyline points="494.5,2358.7 495.4,2360.4 496.3,2357.4 496.9,2358.1" fill="none" stroke="#00b0f0" stroke-width="4.8" stroke-linejoin="round" stroke-linecap="round"/>
<polyline points="500.7,2359.8 500.9,2361.1 501.2,2362.3 501.4,2363.6" fill="none" stroke="#00b0f0" stroke-width="4.8" stroke-linejoin="round" stroke-linecap="round"/>
<polyline points="519.6,2369.0 520.1,2370.4 520.6,2366.9 521.0,2367.7" fill="none" stroke="#00b0f0" stroke-width="4.8" stroke-linejoin="round" stroke-linecap="round"/>
<polyline points="526.7,2372.0 526.8,2373.3 526.8,2374.6 526.9,2375.8 527.1,2377.0 527.2,2378.2 527.4,2379.4" fill="none" stroke="#00b0f0" stroke-width="4.8" stroke-linejoin="round" stroke-linecap="round"/>
<polyline points="531.6,2383.9 531.7,2382.6 531.9,2381.3 531.9,2380.1 531.9,2378.8 532.0,2377.6 532.0,2376.3 532.1,2375.1 532.1,2373.8" fill="none" stroke="#00b0f0" stroke-width="4.8" stroke-linejoin="round" stroke-linecap="round"/>
<polyline points="536.1,2381.0 536.2,2382.3 536.3,2383.6 536.4,2384.9 536.5,2386.2 536.6,2387.5 536.7,2388.8 536.8,2390.0 536.9,2391.3 537.0,2392.6" fill="none" stroke="#00b0f0" stroke-width="4.8" stroke-linejoin="round" stroke-linecap="round"/>
<polyline points="540.1,2397.3 540.2,2396.0 540.3,2394.8 540.4,2393.5 540.4,2392.3 540.5,2391.1 540.5,2389.8 540.6,2388.6 540.6,2387.3 540.7,2386.1 540.7,2384.8" fill="none" stroke="#00b0f0" stroke-width="4.8" stroke-linejoin="round" stroke-linecap="round"/>
<polyline points="544.8,2377.5 544.9,2378.8 545.0,2380.1 545.1,2381.3 545.2,2382.5 545.4,2383.7 545.5,2384.9 545.7,2386.2 545.9,2387.4" fill="none" stroke="#00b0f0" stroke-width="4.8" stroke-linejoin="round" stroke-linecap="round"/>
<polyline points="550.1,2380.7 550.4,2379.5 550.6,2378.3 550.9,2377.0 551.1,2375.8 551.2,2374.6 551.4,2373.4 551.5,2372.2" fill="none" stroke="#00b0f0" stroke-width="4.8" stroke-linejoin="round" stroke-linecap="round"/>
<polyline points="557.6,2268.1 557.6,2267.0 557.6,2218.7" fill="none" stroke="#00b0f0" stroke-width="4.8" stroke-linejoin="round" stroke-linecap="round"/>
<polyline points="562.8,2218.0 562.8,2268.0 562.8,2269.0" fill="none" stroke="#00b0f0" stroke-width="4.8" stroke-linejoin="round" stroke-linecap="round"/>
<polyline points="566.1,2296.2 566.1,2294.9 566.2,2293.7 566.2,2292.4 566.2,2291.2 566.3,2289.9 566.3,2288.7 566.3,2287.4 566.4,2286.2 566.4,2284.9 566.4,2283.7 566.5,2282.4 566.5,2281.2 566.6,2280.0 566.6,2278.7 566.7,2277.5 566.7,2276.3 566.8,2275.0 566.8,2273.8 566.8,2272.6" fill="none" stroke="#00b0f0" stroke-width="4.8" stroke-linejoin="round" stroke-linecap="round"/>
<polyline points="569.4,2272.6 569.5,2273.8 569.5,2275.0 569.6,2276.3 569.6,2277.5 569.6,2278.7 569.7,2280.0 569.7,2281.2 569.8,2282.4 569.8,2283.7 569.8,2284.9 569.9,2286.2 569.9,2287.4 569.9,2288.7 569.9,2289.9 570.0,2291.2 570.0,2292.4 570.0,2293.7 570.0,2294.9 570.1,2296.2" fill="none" stroke="#00b0f0" stroke-width="4.8" stroke-linejoin="round" stroke-linecap="round"/>
<polyline points="575.8,2368.2 576.4,2371.5" fill="none" stroke="#00b0f0" stroke-width="4.8" stroke-linejoin="round" stroke-linecap="round"/>
<polyline points="588.5,2361.9 589.0,2362.6 589.6,2358.5" fill="none" stroke="#00b0f0" stroke-width="4.8" stroke-linejoin="round" stroke-linecap="round"/>
<polyline points="597.2,2348.2 597.6,2349.2 598.1,2346.5 598.5,2347.1" fill="none" stroke="#00b0f0" stroke-width="4.8" stroke-linejoin="round" stroke-linecap="round"/>
<polyline points="601.1,2344.2 601.4,2344.0" fill="none" stroke="#00b0f0" stroke-width="4.8" stroke-linejoin="round" stroke-linecap="round"/>
<polyline points="601.6,2345.1 601.9,2346.2 602.2,2347.3 602.5,2348.4" fill="none" stroke="#00b0f0" stroke-width="4.8" stroke-linejoin="round" stroke-linecap="round"/>
<polyline points="606.0,2361.9 606.4,2360.6 606.8,2363.6" fill="none" stroke="#00b0f0" stroke-width="4.8" stroke-linejoin="round" stroke-linecap="round"/>
<polyline points="612.0,2363.4 612.4,2360.6 612.9,2362.4" fill="none" stroke="#00b0f0" stroke-width="4.8" stroke-linejoin="round" stroke-linecap="round"/>
<polyline points="617.6,2346.7 617.9,2348.5 618.3,2345.3" fill="none" stroke="#00b0f0" stroke-width="4.8" stroke-linejoin="round" stroke-linecap="round"/>
<polyline points="627.8,2346.5 628.5,2349.0 629.2,2348.4" fill="none" stroke="#00b0f0" stroke-width="4.8" stroke-linejoin="round" stroke-linecap="round"/>
<polyline points="635.6,2350.2 636.3,2350.7 637.0,2348.1" fill="none" stroke="#00b0f0" stroke-width="4.8" stroke-linejoin="round" stroke-linecap="round"/>
<polyline points="659.6,2345.8 660.4,2349.4 661.1,2348.2 661.8,2351.1" fill="none" stroke="#00b0f0" stroke-width="4.8" stroke-linejoin="round" stroke-linecap="round"/>
<polyline points="662.5,2350.3 663.2,2354.3 664.0,2351.5" fill="none" stroke="#00b0f0" stroke-width="4.8" stroke-linejoin="round" stroke-linecap="round"/>
<polyline points="679.6,2351.6 680.3,2347.6 681.1,2348.8 681.7,2346.4 682.4,2347.2" fill="none" stroke="#00b0f0" stroke-width="4.8" stroke-linejoin="round" stroke-linecap="round"/>
<polyline points="683.9,2342.0 684.0,2340.7 684.2,2339.5 684.3,2338.3" fill="none" stroke="#00b0f0" stroke-width="4.8" stroke-linejoin="round" stroke-linecap="round"/>
<polyline points="690.1,2337.9 690.4,2339.1 690.6,2337.9 690.7,2336.8 690.9,2335.6 691.0,2334.4" fill="none" stroke="#00b0f0" stroke-width="4.8" stroke-linejoin="round" stroke-linecap="round"/>
<polyline points="696.6,2340.7 696.7,2342.0 696.9,2343.2 697.0,2344.4 697.3,2342.7 697.7,2342.9 698.1,2340.1 698.4,2341.3 698.8,2338.2" fill="none" stroke="#00b0f0" stroke-width="4.8" stroke-linejoin="round" stroke-linecap="round"/>
<polyline points="698.9,2337.8 699.1,2336.5 699.2,2335.3" fill="none" stroke="#00b0f0" stroke-width="4.8" stroke-linejoin="round" stroke-linecap="round"/>
<polyline points="711.3,2349.6 712.4,2347.8 713.5,2349.6 714.5,2348.0" fill="none" stroke="#00b0f0" stroke-width="4.8" stroke-linejoin="round" stroke-linecap="round"/>
<polyline points="738.6,2362.3 739.5,2360.2 740.4,2362.9 740.9,2362.4" fill="none" stroke="#00b0f0" stroke-width="4.8" stroke-linejoin="round" stroke-linecap="round"/>
<polyline points="745.8,2362.5 746.5,2362.7 747.3,2362.4" fill="none" stroke="#00b0f0" stroke-width="4.8" stroke-linejoin="round" stroke-linecap="round"/>
<polyline points="755.2,2366.1 756.3,2362.6 757.0,2365.4" fill="none" stroke="#00b0f0" stroke-width="4.8" stroke-linejoin="round" stroke-linecap="round"/>
<polyline points="773.2,2362.2 774.0,2363.1 774.7,2361.5" fill="none" stroke="#00b0f0" stroke-width="4.8" stroke-linejoin="round" stroke-linecap="round"/>
<polyline points="786.1,2361.5 786.4,2360.4 786.7,2359.2 787.0,2358.0" fill="none" stroke="#00b0f0" stroke-width="4.8" stroke-linejoin="round" stroke-linecap="round"/>
<polyline points="791.9,2362.8 792.7,2361.9 793.5,2364.5" fill="none" stroke="#00b0f0" stroke-width="4.8" stroke-linejoin="round" stroke-linecap="round"/>
<polyline points="795.8,2360.6 796.5,2361.8 797.3,2359.6 798.0,2360.8" fill="none" stroke="#00b0f0" stroke-width="4.8" stroke-linejoin="round" stroke-linecap="round"/>
<polyline points="848.3,2361.8 849.2,2360.1 850.1,2361.4" fill="none" stroke="#00b0f0" stroke-width="4.8" stroke-linejoin="round" stroke-linecap="round"/>
<polyline points="873.9,2351.3 874.1,2350.0 874.4,2348.7 874.6,2347.5" fill="none" stroke="#00b0f0" stroke-width="4.8" stroke-linejoin="round" stroke-linecap="round"/>
<polyline points="897.9,2344.4 898.1,2345.6 898.2,2346.8 898.3,2348.0" fill="none" stroke="#00b0f0" stroke-width="4.8" stroke-linejoin="round" stroke-linecap="round"/>
<polyline points="902.3,2357.7 903.3,2360.6 904.2,2359.8 905.1,2362.5" fill="none" stroke="#00b0f0" stroke-width="4.8" stroke-linejoin="round" stroke-linecap="round"/>
<polyline points="976.5,2359.2 977.0,2356.0 977.4,2357.1" fill="none" stroke="#00b0f0" stroke-width="4.8" stroke-linejoin="round" stroke-linecap="round"/>
<polyline points="985.4,2337.9 985.6,2336.8 985.8,2335.6 986.1,2334.3 986.3,2333.0 986.6,2331.8" fill="none" stroke="#00b0f0" stroke-width="4.8" stroke-linejoin="round" stroke-linecap="round"/>
<polyline points="989.4,2329.7 989.6,2329.7" fill="none" stroke="#00b0f0" stroke-width="4.8" stroke-linejoin="round" stroke-linecap="round"/>
<polyline points="990.4,2334.4 990.6,2335.6 990.8,2336.8 991.0,2337.9 991.2,2339.1 991.3,2340.4 991.5,2341.6" fill="none" stroke="#00b0f0" stroke-width="4.8" stroke-linejoin="round" stroke-linecap="round"/>
<polyline points="993.7,2341.6 993.9,2340.4 994.2,2339.1" fill="none" stroke="#00b0f0" stroke-width="4.8" stroke-linejoin="round" stroke-linecap="round"/>
<polyline points="994.6,2337.0 995.1,2337.8" fill="none" stroke="#00b0f0" stroke-width="4.8" stroke-linejoin="round" stroke-linecap="round"/>
<polyline points="997.2,2337.0 997.5,2338.1 997.7,2339.1 997.8,2340.3 997.9,2341.5 998.1,2342.7 998.2,2343.8 998.3,2345.0" fill="none" stroke="#00b0f0" stroke-width="4.8" stroke-linejoin="round" stroke-linecap="round"/>
<polyline points="1000.2,2356.1 1000.5,2358.9" fill="none" stroke="#00b0f0" stroke-width="4.8" stroke-linejoin="round" stroke-linecap="round"/>
<polyline points="1067.9,2357.6 1068.0,2356.3" fill="none" stroke="#00b0f0" stroke-width="4.8" stroke-linejoin="round" stroke-linecap="round"/>
<polyline points="1072.7,2343.7 1072.8,2342.4 1072.9,2341.1 1073.0,2339.9 1073.1,2338.6 1073.2,2337.3" fill="none" stroke="#00b0f0" stroke-width="4.8" stroke-linejoin="round" stroke-linecap="round"/>
<polyline points="1079.1,2339.8 1079.2,2341.0 1079.3,2342.3 1079.4,2343.6 1079.5,2344.9 1079.6,2346.2 1079.7,2344.9 1079.8,2343.7 1079.9,2342.4" fill="none" stroke="#00b0f0" stroke-width="4.8" stroke-linejoin="round" stroke-linecap="round"/>
<polyline points="1090.3,2343.5 1090.7,2345.8 1091.2,2345.0 1091.6,2348.4 1092.0,2347.2" fill="none" stroke="#00b0f0" stroke-width="4.8" stroke-linejoin="round" stroke-linecap="round"/>
<polyline points="1112.2,2358.8 1112.9,2362.2" fill="none" stroke="#00b0f0" stroke-width="4.8" stroke-linejoin="round" stroke-linecap="round"/>
<polyline points="1117.3,2362.4 1118.4,2363.9" fill="none" stroke="#00b0f0" stroke-width="4.8" stroke-linejoin="round" stroke-linecap="round"/>
<polyline points="1119.8,2364.4 1120.1,2362.9" fill="none" stroke="#00b0f0" stroke-width="4.8" stroke-linejoin="round" stroke-linecap="round"/>
<polyline points="1192.6,2359.4 1193.7,2355.6" fill="none" stroke="#00b0f0" stroke-width="4.8" stroke-linejoin="round" stroke-linecap="round"/>
<polyline points="1203.4,2358.0 1204.4,2355.9 1205.5,2357.8" fill="none" stroke="#00b0f0" stroke-width="4.8" stroke-linejoin="round" stroke-linecap="round"/>
<polyline points="1207.6,2358.9 1208.7,2356.1 1209.7,2357.5" fill="none" stroke="#00b0f0" stroke-width="4.8" stroke-linejoin="round" stroke-linecap="round"/>
<polyline points="1214.1,2358.8 1215.2,2356.6" fill="none" stroke="#00b0f0" stroke-width="4.8" stroke-linejoin="round" stroke-linecap="round"/>
<polyline points="1267.8,2362.0 1268.8,2363.6 1269.9,2361.7 1271.0,2362.7" fill="none" stroke="#00b0f0" stroke-width="4.8" stroke-linejoin="round" stroke-linecap="round"/>
<polyline points="1285.3,2348.2 1286.2,2345.6 1287.4,2347.3 1288.6,2344.3 1289.7,2346.7 1290.6,2343.2 1291.5,2344.5" fill="none" stroke="#00b0f0" stroke-width="4.8" stroke-linejoin="round" stroke-linecap="round"/>
<polyline points="1297.3,2343.2 1297.9,2345.9 1298.6,2344.7 1299.5,2347.7 1300.4,2345.9" fill="none" stroke="#00b0f0" stroke-width="4.8" stroke-linejoin="round" stroke-linecap="round"/>
<polyline points="1314.1,2363.3 1314.8,2362.2 1315.4,2364.9 1316.1,2363.3 1316.9,2366.5 1317.6,2365.8" fill="none" stroke="#00b0f0" stroke-width="4.8" stroke-linejoin="round" stroke-linecap="round"/>
<polyline points="1644.4,2364.0 1645.4,2361.7 1646.1,2362.6" fill="none" stroke="#00b0f0" stroke-width="4.8" stroke-linejoin="round" stroke-linecap="round"/>
<polyline points="1649.3,2358.4 1650.0,2361.4" fill="none" stroke="#00b0f0" stroke-width="4.8" stroke-linejoin="round" stroke-linecap="round"/>
<polyline points="1663.3,2370.4 1664.4,2368.8 1665.4,2370.5 1666.1,2368.6 1666.8,2371.6 1667.5,2370.9" fill="none" stroke="#00b0f0" stroke-width="4.8" stroke-linejoin="round" stroke-linecap="round"/>
<polyline points="1738.5,2364.0 1738.9,2360.4 1739.3,2361.7" fill="none" stroke="#00b0f0" stroke-width="4.8" stroke-linejoin="round" stroke-linecap="round"/>
<polyline points="1776.3,2361.1 1776.8,2358.9 1777.2,2362.6" fill="none" stroke="#00b0f0" stroke-width="4.8" stroke-linejoin="round" stroke-linecap="round"/>
<polyline points="1778.8,2362.8 1779.8,2360.7 1780.9,2362.7" fill="none" stroke="#00b0f0" stroke-width="4.8" stroke-linejoin="round" stroke-linecap="round"/>
<polyline points="1782.8,2363.0 1783.6,2361.7" fill="none" stroke="#00b0f0" stroke-width="4.8" stroke-linejoin="round" stroke-linecap="round"/>
<polyline points="1830.7,2359.1 1831.8,2356.1 1832.9,2358.4 1834.1,2356.5" fill="none" stroke="#00b0f0" stroke-width="4.8" stroke-linejoin="round" stroke-linecap="round"/>
<polyline points="1880.0,2362.3 1880.9,2360.6" fill="none" stroke="#00b0f0" stroke-width="4.8" stroke-linejoin="round" stroke-linecap="round"/>
<polyline points="1882.5,2360.7 1883.2,2362.0 1883.9,2358.6" fill="none" stroke="#00b0f0" stroke-width="4.8" stroke-linejoin="round" stroke-linecap="round"/>
<polyline points="38.6,2357.2 39.5,2354.7" fill="none" stroke="#0070c0" stroke-width="4.8" stroke-linejoin="round" stroke-linecap="round"/>
<polyline points="74.9,2357.4 75.8,2361.5 76.6,2359.6" fill="none" stroke="#0070c0" stroke-width="4.8" stroke-linejoin="round" stroke-linecap="round"/>
<polyline points="90.8,2360.8 91.0,2360.9" fill="none" stroke="#0070c0" stroke-width="4.8" stroke-linejoin="round" stroke-linecap="round"/>
<polyline points="91.2,2359.8 91.4,2358.6 91.6,2357.4 91.8,2356.2 92.0,2355.0 92.2,2353.9" fill="none" stroke="#0070c0" stroke-width="4.8" stroke-linejoin="round" stroke-linecap="round"/>
<polyline points="93.1,2349.0 93.4,2347.8 93.6,2346.5 93.9,2345.3 94.2,2344.1 94.4,2342.8" fill="none" stroke="#0070c0" stroke-width="4.8" stroke-linejoin="round" stroke-linecap="round"/>
<polyline points="108.0,2347.2 108.2,2348.5 108.5,2349.7 108.9,2352.6 109.4,2351.2 109.8,2354.3 110.3,2353.2 110.7,2357.5" fill="none" stroke="#0070c0" stroke-width="4.8" stroke-linejoin="round" stroke-linecap="round"/>
<polyline points="112.6,2357.2 113.4,2361.3 114.1,2358.6" fill="none" stroke="#0070c0" stroke-width="4.8" stroke-linejoin="round" stroke-linecap="round"/>
<polyline points="137.7,2360.0 138.6,2361.6 139.3,2358.5" fill="none" stroke="#0070c0" stroke-width="4.8" stroke-linejoin="round" stroke-linecap="round"/>
<polyline points="140.0,2359.8 140.7,2356.4" fill="none" stroke="#0070c0" stroke-width="4.8" stroke-linejoin="round" stroke-linecap="round"/>
<polyline points="142.5,2352.6 142.7,2351.3 142.8,2350.1 143.0,2348.8" fill="none" stroke="#0070c0" stroke-width="4.8" stroke-linejoin="round" stroke-linecap="round"/>
<polyline points="155.9,2348.7 156.2,2350.0 156.4,2351.3 156.7,2352.5" fill="none" stroke="#0070c0" stroke-width="4.8" stroke-linejoin="round" stroke-linecap="round"/>
<polyline points="158.9,2359.1 159.4,2361.8 159.8,2361.3 160.7,2364.2" fill="none" stroke="#0070c0" stroke-width="4.8" stroke-linejoin="round" stroke-linecap="round"/>
<polyline points="167.1,2363.9 167.8,2360.3 168.7,2363.4 169.6,2359.4 170.4,2361.3" fill="none" stroke="#0070c0" stroke-width="4.8" stroke-linejoin="round" stroke-linecap="round"/>
<polyline points="172.9,2358.5 173.7,2361.7 174.4,2359.9" fill="none" stroke="#0070c0" stroke-width="4.8" stroke-linejoin="round" stroke-linecap="round"/>
<polyline points="179.3,2360.7 180.2,2362.0" fill="none" stroke="#0070c0" stroke-width="4.8" stroke-linejoin="round" stroke-linecap="round"/>
<polyline points="187.3,2358.6 188.1,2362.1 189.0,2359.8" fill="none" stroke="#0070c0" stroke-width="4.8" stroke-linejoin="round" stroke-linecap="round"/>
<polyline points="195.9,2362.8 197.0,2358.6 198.1,2362.0 199.1,2359.4 200.2,2361.7" fill="none" stroke="#0070c0" stroke-width="4.8" stroke-linejoin="round" stroke-linecap="round"/>
<polyline points="203.2,2360.1 204.1,2362.3 205.0,2360.6" fill="none" stroke="#0070c0" stroke-width="4.8" stroke-linejoin="round" stroke-linecap="round"/>
<polyline points="206.5,2361.2 206.8,2356.9 207.2,2359.7 207.5,2354.7" fill="none" stroke="#0070c0" stroke-width="4.8" stroke-linejoin="round" stroke-linecap="round"/>
<polyline points="207.8,2356.7 208.2,2353.4" fill="none" stroke="#0070c0" stroke-width="4.8" stroke-linejoin="round" stroke-linecap="round"/>
<polyline points="209.3,2346.8 209.5,2345.6 209.6,2344.3 209.8,2343.0 209.9,2341.7 210.1,2340.4 210.3,2339.1 210.3,2337.9 210.4,2336.7 210.5,2335.5 210.6,2334.2 210.7,2333.0 210.7,2331.8 210.8,2330.6 210.9,2329.4" fill="none" stroke="#0070c0" stroke-width="4.8" stroke-linejoin="round" stroke-linecap="round"/>
<polyline points="215.2,2330.0 215.2,2331.3 215.3,2332.6 215.3,2333.9 215.4,2335.2 215.5,2336.5 215.5,2337.8 215.6,2339.1 215.7,2340.4 215.8,2341.6 215.9,2342.8 216.1,2344.1 216.2,2345.3" fill="none" stroke="#0070c0" stroke-width="4.8" stroke-linejoin="round" stroke-linecap="round"/>
<polyline points="221.1,2357.7 222.1,2361.7 223.2,2359.9 224.2,2362.7" fill="none" stroke="#0070c0" stroke-width="4.8" stroke-linejoin="round" stroke-linecap="round"/>
<polyline points="248.8,2352.1 249.0,2350.9 249.2,2349.7 249.5,2348.5 249.7,2347.2" fill="none" stroke="#0070c0" stroke-width="4.8" stroke-linejoin="round" stroke-linecap="round"/>
<polyline points="266.0,2345.7 266.5,2349.3 266.9,2347.7 267.3,2352.0" fill="none" stroke="#0070c0" stroke-width="4.8" stroke-linejoin="round" stroke-linecap="round"/>
<polyline points="277.9,2351.7 278.1,2350.4 278.2,2349.2 278.4,2348.0" fill="none" stroke="#0070c0" stroke-width="4.8" stroke-linejoin="round" stroke-linecap="round"/>
<polyline points="298.7,2347.6 299.0,2350.9 299.2,2349.9 299.5,2352.8" fill="none" stroke="#0070c0" stroke-width="4.8" stroke-linejoin="round" stroke-linecap="round"/>
<polyline points="301.1,2353.2 301.7,2357.8 302.4,2356.1 303.0,2359.6 303.6,2357.4 304.2,2360.9 305.1,2359.0" fill="none" stroke="#0070c0" stroke-width="4.8" stroke-linejoin="round" stroke-linecap="round"/>
<polyline points="352.0,2371.3 352.2,2371.1" fill="none" stroke="#0070c0" stroke-width="4.8" stroke-linejoin="round" stroke-linecap="round"/>
<polyline points="352.5,2367.3 352.7,2366.1 352.8,2364.8 352.9,2363.5 353.0,2362.3 353.2,2361.0 353.3,2359.7 353.4,2358.5" fill="none" stroke="#0070c0" stroke-width="4.8" stroke-linejoin="round" stroke-linecap="round"/>
<polyline points="354.2,2347.3 354.3,2346.1 354.3,2344.9 354.4,2343.7 354.5,2342.4 354.6,2341.2 354.6,2340.0 354.7,2338.8 354.8,2340.0 355.0,2341.2 355.1,2342.4 355.2,2343.7 355.4,2344.9 355.5,2346.1 355.6,2347.3" fill="none" stroke="#0070c0" stroke-width="4.8" stroke-linejoin="round" stroke-linecap="round"/>
<polyline points="361.0,2348.6 361.0,2347.3 361.1,2346.0 361.1,2344.8 361.2,2343.5 361.2,2342.2" fill="none" stroke="#0070c0" stroke-width="4.8" stroke-linejoin="round" stroke-linecap="round"/>
<polyline points="368.5,2338.1 368.7,2339.3 368.8,2340.5 369.0,2341.7 369.1,2342.9 369.3,2344.1 369.4,2345.3 369.5,2346.4" fill="none" stroke="#0070c0" stroke-width="4.8" stroke-linejoin="round" stroke-linecap="round"/>
<polyline points="370.2,2348.6 370.3,2347.3 370.3,2346.0 370.4,2344.8" fill="none" stroke="#0070c0" stroke-width="4.8" stroke-linejoin="round" stroke-linecap="round"/>
<polyline points="385.3,2345.3 385.5,2346.4 385.7,2347.6 386.1,2349.8 386.5,2349.1 387.0,2352.1" fill="none" stroke="#0070c0" stroke-width="4.8" stroke-linejoin="round" stroke-linecap="round"/>
<polyline points="387.4,2351.6 387.9,2354.5" fill="none" stroke="#0070c0" stroke-width="4.8" stroke-linejoin="round" stroke-linecap="round"/>
<polyline points="389.3,2355.0 389.8,2358.8 390.3,2357.4 390.8,2360.7" fill="none" stroke="#0070c0" stroke-width="4.8" stroke-linejoin="round" stroke-linecap="round"/>
<polyline points="392.6,2359.9 393.3,2360.4 394.0,2356.9" fill="none" stroke="#0070c0" stroke-width="4.8" stroke-linejoin="round" stroke-linecap="round"/>
<polyline points="396.4,2351.7 396.7,2350.6 396.9,2349.4 397.2,2348.2 397.4,2347.0 397.7,2345.8 397.8,2344.6" fill="none" stroke="#0070c0" stroke-width="4.8" stroke-linejoin="round" stroke-linecap="round"/>
<polyline points="417.0,2344.7 417.2,2345.8 417.4,2347.0 417.6,2348.2 417.8,2349.4 418.0,2350.6" fill="none" stroke="#0070c0" stroke-width="4.8" stroke-linejoin="round" stroke-linecap="round"/>
<polyline points="422.8,2360.6 423.7,2364.0 424.6,2361.9" fill="none" stroke="#0070c0" stroke-width="4.8" stroke-linejoin="round" stroke-linecap="round"/>
<polyline points="452.6,2359.4 452.9,2358.2 453.2,2357.1 453.5,2355.9 453.8,2354.7 454.1,2353.5" fill="none" stroke="#0070c0" stroke-width="4.8" stroke-linejoin="round" stroke-linecap="round"/>
<polyline points="455.4,2350.3 455.7,2346.8 456.0,2348.7" fill="none" stroke="#0070c0" stroke-width="4.8" stroke-linejoin="round" stroke-linecap="round"/>
<polyline points="473.0,2348.8 473.1,2350.0 473.3,2351.2 473.6,2350.8" fill="none" stroke="#0070c0" stroke-width="4.8" stroke-linejoin="round" stroke-linecap="round"/>
<polyline points="474.6,2357.1 474.9,2355.1 475.3,2359.6 475.6,2357.7 475.9,2361.1 476.8,2358.9" fill="none" stroke="#0070c0" stroke-width="4.8" stroke-linejoin="round" stroke-linecap="round"/>
<polyline points="496.9,2358.1 497.6,2355.6" fill="none" stroke="#0070c0" stroke-width="4.8" stroke-linejoin="round" stroke-linecap="round"/>
<polyline points="500.2,2357.3 500.5,2358.6 500.7,2359.8" fill="none" stroke="#0070c0" stroke-width="4.8" stroke-linejoin="round" stroke-linecap="round"/>
<polyline points="521.0,2367.7 521.5,2365.0 522.0,2365.9 522.2,2363.6 522.3,2362.4 522.5,2361.2 522.7,2360.0 522.9,2358.7" fill="none" stroke="#0070c0" stroke-width="4.8" stroke-linejoin="round" stroke-linecap="round"/>
<polyline points="526.1,2363.1 526.2,2364.4 526.2,2365.7 526.3,2366.9 526.4,2368.2 526.5,2369.5 526.6,2370.8 526.7,2372.0" fill="none" stroke="#0070c0" stroke-width="4.8" stroke-linejoin="round" stroke-linecap="round"/>
<polyline points="532.1,2373.8 532.1,2372.6 532.2,2371.3 532.2,2370.1 532.3,2368.8 532.3,2367.6 532.3,2366.3 532.4,2365.1 532.4,2363.8 532.5,2362.6 532.5,2361.3 532.5,2360.1" fill="none" stroke="#0070c0" stroke-width="4.8" stroke-linejoin="round" stroke-linecap="round"/>
<polyline points="535.1,2364.2 535.2,2365.5 535.3,2366.8 535.3,2368.1 535.4,2369.4 535.5,2370.7 535.5,2371.9 535.6,2373.2 535.6,2374.5 535.7,2375.8 535.8,2377.1 535.9,2378.4 536.0,2379.7 536.1,2381.0" fill="none" stroke="#0070c0" stroke-width="4.8" stroke-linejoin="round" stroke-linecap="round"/>
<polyline points="540.7,2384.8 540.8,2383.6 540.8,2382.3 540.9,2381.1 540.9,2379.8 541.0,2378.6 541.0,2377.3 541.1,2376.1 541.1,2374.8 541.2,2373.6 541.2,2372.3 541.3,2371.1" fill="none" stroke="#0070c0" stroke-width="4.8" stroke-linejoin="round" stroke-linecap="round"/>
<polyline points="544.2,2368.6 544.3,2369.9 544.4,2371.2 544.5,2372.4 544.5,2373.7 544.6,2375.0 544.7,2376.2 544.8,2377.5" fill="none" stroke="#0070c0" stroke-width="4.8" stroke-linejoin="round" stroke-linecap="round"/>
<polyline points="551.5,2372.2 551.7,2371.0 551.8,2369.8 552.0,2368.6 552.1,2367.4 552.3,2366.2" fill="none" stroke="#0070c0" stroke-width="4.8" stroke-linejoin="round" stroke-linecap="round"/>
<polyline points="555.4,2423.0 555.4,2424.2 555.5,2425.5 555.5,2426.7 555.6,2428.0 555.6,2429.2 555.7,2430.5 555.8,2431.7 555.8,2433.0 556.7,2433.0 556.7,2431.7 556.7,2430.4 556.8,2429.1 556.8,2427.9 556.8,2426.6 556.8,2425.3 556.9,2424.1 556.9,2422.8 556.9,2421.5 556.9,2420.2" fill="none" stroke="#0070c0" stroke-width="4.8" stroke-linejoin="round" stroke-linecap="round"/>
<polyline points="557.6,2304.4 557.6,2303.3 557.6,2268.1" fill="none" stroke="#0070c0" stroke-width="4.8" stroke-linejoin="round" stroke-linecap="round"/>
<polyline points="562.8,2269.0 562.8,2304.0 562.9,2305.0" fill="none" stroke="#0070c0" stroke-width="4.8" stroke-linejoin="round" stroke-linecap="round"/>
<polyline points="565.4,2321.5 565.4,2320.2 565.4,2318.9 565.5,2317.6 565.5,2316.4 565.6,2315.1 565.6,2313.8 565.6,2312.5 565.7,2311.2 565.7,2309.9 565.7,2308.6 565.8,2307.4 565.8,2306.1 565.9,2304.9 565.9,2303.6 565.9,2302.4 566.0,2301.1 566.0,2299.9 566.0,2298.7 566.1,2297.4 566.1,2296.2" fill="none" stroke="#0070c0" stroke-width="4.8" stroke-linejoin="round" stroke-linecap="round"/>
<polyline points="570.1,2296.2 570.1,2297.4 570.1,2298.7 570.1,2299.9 570.2,2301.1 570.2,2302.4 570.2,2303.6 570.2,2304.9 570.3,2306.1 570.3,2307.4 570.3,2308.6 570.3,2309.9 570.4,2311.2 570.4,2312.5 570.4,2313.8 570.5,2315.1 570.5,2316.4 570.5,2317.6 570.6,2318.9 570.6,2320.2 570.6,2321.5" fill="none" stroke="#0070c0" stroke-width="4.8" stroke-linejoin="round" stroke-linecap="round"/>
<polyline points="574.7,2366.6 575.3,2370.6 575.8,2368.2" fill="none" stroke="#0070c0" stroke-width="4.8" stroke-linejoin="round" stroke-linecap="round"/>
<polyline points="589.6,2358.5 590.1,2360.2 590.8,2356.7" fill="none" stroke="#0070c0" stroke-width="4.8" stroke-linejoin="round" stroke-linecap="round"/>
<polyline points="591.4,2358.9 592.1,2354.9" fill="none" stroke="#0070c0" stroke-width="4.8" stroke-linejoin="round" stroke-linecap="round"/>
<polyline points="594.1,2355.9 594.7,2351.9 595.4,2353.0 596.0,2350.7 596.7,2351.9 597.2,2348.2" fill="none" stroke="#0070c0" stroke-width="4.8" stroke-linejoin="round" stroke-linecap="round"/>
<polyline points="602.5,2348.4 602.7,2349.5 603.1,2348.8 603.4,2352.5" fill="none" stroke="#0070c0" stroke-width="4.8" stroke-linejoin="round" stroke-linecap="round"/>
<polyline points="603.7,2350.8 604.0,2355.5 604.3,2353.1" fill="none" stroke="#0070c0" stroke-width="4.8" stroke-linejoin="round" stroke-linecap="round"/>
<polyline points="605.7,2357.3 606.0,2361.9" fill="none" stroke="#0070c0" stroke-width="4.8" stroke-linejoin="round" stroke-linecap="round"/>
<polyline points="612.9,2362.4 613.3,2357.5" fill="none" stroke="#0070c0" stroke-width="4.8" stroke-linejoin="round" stroke-linecap="round"/>
<polyline points="617.2,2350.7 617.6,2346.7" fill="none" stroke="#0070c0" stroke-width="4.8" stroke-linejoin="round" stroke-linecap="round"/>
<polyline points="629.2,2348.4 629.9,2352.3" fill="none" stroke="#0070c0" stroke-width="4.8" stroke-linejoin="round" stroke-linecap="round"/>
<polyline points="634.9,2353.1 635.6,2350.2" fill="none" stroke="#0070c0" stroke-width="4.8" stroke-linejoin="round" stroke-linecap="round"/>
<polyline points="661.8,2351.1 662.5,2350.3" fill="none" stroke="#0070c0" stroke-width="4.8" stroke-linejoin="round" stroke-linecap="round"/>
<polyline points="664.0,2351.5 664.7,2356.0 665.4,2353.1 666.2,2357.0" fill="none" stroke="#0070c0" stroke-width="4.8" stroke-linejoin="round" stroke-linecap="round"/>
<polyline points="678.1,2353.2 678.8,2349.6 679.6,2351.6" fill="none" stroke="#0070c0" stroke-width="4.8" stroke-linejoin="round" stroke-linecap="round"/>
<polyline points="682.4,2347.2 683.1,2343.8 683.7,2346.0 683.8,2343.2 683.9,2342.0" fill="none" stroke="#0070c0" stroke-width="4.8" stroke-linejoin="round" stroke-linecap="round"/>
<polyline points="714.5,2348.0 715.6,2351.3 716.5,2349.4 717.3,2352.5" fill="none" stroke="#0070c0" stroke-width="4.8" stroke-linejoin="round" stroke-linecap="round"/>
<polyline points="718.2,2350.8 719.1,2355.2 720.0,2353.2" fill="none" stroke="#0070c0" stroke-width="4.8" stroke-linejoin="round" stroke-linecap="round"/>
<polyline points="735.9,2356.7 736.8,2360.3 737.7,2358.4 738.6,2362.3" fill="none" stroke="#0070c0" stroke-width="4.8" stroke-linejoin="round" stroke-linecap="round"/>
<polyline points="787.0,2358.0 787.3,2356.8 787.6,2355.6 787.8,2354.5" fill="none" stroke="#0070c0" stroke-width="4.8" stroke-linejoin="round" stroke-linecap="round"/>
<polyline points="791.1,2360.0 791.9,2362.8" fill="none" stroke="#0070c0" stroke-width="4.8" stroke-linejoin="round" stroke-linecap="round"/>
<polyline points="798.0,2360.8 798.8,2356.6 799.6,2359.6 800.5,2355.6" fill="none" stroke="#0070c0" stroke-width="4.8" stroke-linejoin="round" stroke-linecap="round"/>
<polyline points="829.2,2358.8 830.3,2356.9 831.3,2359.5 832.4,2357.1 833.5,2360.0 834.5,2356.6 835.6,2359.9" fill="none" stroke="#0070c0" stroke-width="4.8" stroke-linejoin="round" stroke-linecap="round"/>
<polyline points="845.7,2356.7 846.5,2359.6 847.4,2358.6 848.3,2361.8" fill="none" stroke="#0070c0" stroke-width="4.8" stroke-linejoin="round" stroke-linecap="round"/>
<polyline points="850.1,2361.4 851.0,2358.6 851.9,2361.1 852.7,2357.0" fill="none" stroke="#0070c0" stroke-width="4.8" stroke-linejoin="round" stroke-linecap="round"/>
<polyline points="873.4,2353.8 873.6,2352.5 873.9,2351.3" fill="none" stroke="#0070c0" stroke-width="4.8" stroke-linejoin="round" stroke-linecap="round"/>
<polyline points="898.3,2348.0 898.5,2349.1 898.6,2350.3" fill="none" stroke="#0070c0" stroke-width="4.8" stroke-linejoin="round" stroke-linecap="round"/>
<polyline points="899.2,2351.0 899.6,2355.3" fill="none" stroke="#0070c0" stroke-width="4.8" stroke-linejoin="round" stroke-linecap="round"/>
<polyline points="900.1,2354.3 900.5,2357.1 901.0,2356.2 901.4,2360.0 902.3,2357.7" fill="none" stroke="#0070c0" stroke-width="4.8" stroke-linejoin="round" stroke-linecap="round"/>
<polyline points="977.4,2357.1 977.9,2353.6 978.6,2355.4 979.3,2351.4 980.0,2353.0" fill="none" stroke="#0070c0" stroke-width="4.8" stroke-linejoin="round" stroke-linecap="round"/>
<polyline points="984.5,2343.8 984.7,2342.7 984.9,2341.5 985.1,2340.3 985.3,2339.1 985.4,2337.9" fill="none" stroke="#0070c0" stroke-width="4.8" stroke-linejoin="round" stroke-linecap="round"/>
<polyline points="991.5,2341.6 991.7,2342.9 991.9,2344.2 992.0,2345.4" fill="none" stroke="#0070c0" stroke-width="4.8" stroke-linejoin="round" stroke-linecap="round"/>
<polyline points="992.9,2345.4 993.1,2344.2 993.4,2342.9 993.7,2341.6" fill="none" stroke="#0070c0" stroke-width="4.8" stroke-linejoin="round" stroke-linecap="round"/>
<polyline points="998.3,2345.0 998.4,2346.2 998.5,2347.4 998.6,2348.6 998.8,2349.7 998.9,2350.8 999.0,2351.9 999.2,2352.9" fill="none" stroke="#0070c0" stroke-width="4.8" stroke-linejoin="round" stroke-linecap="round"/>
<polyline points="999.5,2355.0 999.8,2357.0 1000.2,2356.1" fill="none" stroke="#0070c0" stroke-width="4.8" stroke-linejoin="round" stroke-linecap="round"/>
<polyline points="1068.0,2356.3 1068.1,2355.0 1069.0,2356.4 1069.9,2354.5" fill="none" stroke="#0070c0" stroke-width="4.8" stroke-linejoin="round" stroke-linecap="round"/>
<polyline points="1071.6,2352.1 1071.8,2350.9 1072.0,2349.7 1072.2,2348.6 1072.4,2347.4 1072.6,2346.2 1072.7,2344.9 1072.7,2343.7" fill="none" stroke="#0070c0" stroke-width="4.8" stroke-linejoin="round" stroke-linecap="round"/>
<polyline points="1092.0,2347.2 1092.5,2351.6 1092.9,2350.0 1093.4,2353.1" fill="none" stroke="#0070c0" stroke-width="4.8" stroke-linejoin="round" stroke-linecap="round"/>
<polyline points="1097.8,2354.7 1098.2,2350.6 1098.7,2351.9 1099.1,2348.2 1099.6,2352.1" fill="none" stroke="#0070c0" stroke-width="4.8" stroke-linejoin="round" stroke-linecap="round"/>
<polyline points="1100.2,2351.0 1100.7,2354.8 1101.2,2353.0" fill="none" stroke="#0070c0" stroke-width="4.8" stroke-linejoin="round" stroke-linecap="round"/>
<polyline points="1102.5,2353.2 1103.2,2354.5 1103.9,2350.0" fill="none" stroke="#0070c0" stroke-width="4.8" stroke-linejoin="round" stroke-linecap="round"/>
<polyline points="1104.6,2352.5 1105.3,2348.5 1105.8,2351.8" fill="none" stroke="#0070c0" stroke-width="4.8" stroke-linejoin="round" stroke-linecap="round"/>
<polyline points="1106.4,2351.1 1106.9,2354.5 1107.4,2352.6" fill="none" stroke="#0070c0" stroke-width="4.8" stroke-linejoin="round" stroke-linecap="round"/>
<polyline points="1110.6,2355.8 1111.5,2360.2 1112.2,2358.8" fill="none" stroke="#0070c0" stroke-width="4.8" stroke-linejoin="round" stroke-linecap="round"/>
<polyline points="1118.4,2363.9 1119.5,2361.4 1119.8,2364.4" fill="none" stroke="#0070c0" stroke-width="4.8" stroke-linejoin="round" stroke-linecap="round"/>
<polyline points="1193.7,2355.6 1194.8,2358.4 1195.9,2354.7" fill="none" stroke="#0070c0" stroke-width="4.8" stroke-linejoin="round" stroke-linecap="round"/>
<polyline points="1202.3,2354.8 1203.4,2358.0" fill="none" stroke="#0070c0" stroke-width="4.8" stroke-linejoin="round" stroke-linecap="round"/>
<polyline points="1209.7,2357.5 1210.8,2355.5" fill="none" stroke="#0070c0" stroke-width="4.8" stroke-linejoin="round" stroke-linecap="round"/>
<polyline points="1213.0,2355.0 1214.1,2358.8" fill="none" stroke="#0070c0" stroke-width="4.8" stroke-linejoin="round" stroke-linecap="round"/>
<polyline points="1271.0,2362.7 1272.0,2359.5 1273.1,2362.5 1274.2,2359.2" fill="none" stroke="#0070c0" stroke-width="4.8" stroke-linejoin="round" stroke-linecap="round"/>
<polyline points="1283.5,2348.9 1284.4,2346.2 1285.3,2348.2" fill="none" stroke="#0070c0" stroke-width="4.8" stroke-linejoin="round" stroke-linecap="round"/>
<polyline points="1300.4,2345.9 1301.2,2349.4 1302.1,2347.0 1303.0,2350.1" fill="none" stroke="#0070c0" stroke-width="4.8" stroke-linejoin="round" stroke-linecap="round"/>
<polyline points="1312.2,2357.9 1312.9,2361.1 1313.5,2359.2 1314.1,2363.3" fill="none" stroke="#0070c0" stroke-width="4.8" stroke-linejoin="round" stroke-linecap="round"/>
<polyline points="1646.1,2362.6 1646.7,2359.7 1647.3,2361.1 1647.9,2358.6" fill="none" stroke="#0070c0" stroke-width="4.8" stroke-linejoin="round" stroke-linecap="round"/>
<polyline points="1739.3,2361.7 1739.8,2357.6" fill="none" stroke="#0070c0" stroke-width="4.8" stroke-linejoin="round" stroke-linecap="round"/>
<polyline points="1775.8,2356.7 1776.3,2361.1" fill="none" stroke="#0070c0" stroke-width="4.8" stroke-linejoin="round" stroke-linecap="round"/>
<polyline points="1780.9,2362.7 1781.9,2359.4 1782.8,2363.0" fill="none" stroke="#0070c0" stroke-width="4.8" stroke-linejoin="round" stroke-linecap="round"/>
<polyline points="1834.1,2356.5 1835.2,2358.0 1836.3,2355.0" fill="none" stroke="#0070c0" stroke-width="4.8" stroke-linejoin="round" stroke-linecap="round"/>
<polyline points="1879.1,2359.0 1880.0,2362.3" fill="none" stroke="#0070c0" stroke-width="4.8" stroke-linejoin="round" stroke-linecap="round"/>
<polyline points="1883.9,2358.6 1884.6,2360.4" fill="none" stroke="#0070c0" stroke-width="4.8" stroke-linejoin="round" stroke-linecap="round"/>
<polyline points="39.5,2354.7 40.6,2357.6 41.8,2354.8 43.0,2356.5 44.2,2353.8 45.4,2357.1 46.5,2353.6 47.8,2356.2 49.1,2353.0 50.3,2355.7 51.6,2353.0 52.9,2355.9 54.1,2353.9 55.4,2355.5 56.5,2353.9 57.6,2357.0 58.7,2354.6 59.8,2357.2 60.9,2354.5 62.0,2357.5 63.1,2355.1 64.2,2357.6 65.5,2356.2 66.8,2358.0 68.0,2355.6 69.3,2358.6 70.6,2356.3 71.8,2359.0 73.1,2356.4 74.0,2359.5 74.9,2357.4" fill="none" stroke="#002060" stroke-width="4.8" stroke-linejoin="round" stroke-linecap="round"/>
<polyline points="92.2,2353.9 92.4,2352.7 92.6,2351.5 92.8,2350.3 93.1,2349.0" fill="none" stroke="#002060" stroke-width="4.8" stroke-linejoin="round" stroke-linecap="round"/>
<polyline points="110.7,2357.5 111.2,2356.0 111.9,2359.0 112.6,2357.2" fill="none" stroke="#002060" stroke-width="4.8" stroke-linejoin="round" stroke-linecap="round"/>
<polyline points="139.3,2358.5 140.0,2359.8" fill="none" stroke="#002060" stroke-width="4.8" stroke-linejoin="round" stroke-linecap="round"/>
<polyline points="140.7,2356.4 141.4,2356.9 142.1,2354.1 142.3,2353.8 142.5,2352.6" fill="none" stroke="#002060" stroke-width="4.8" stroke-linejoin="round" stroke-linecap="round"/>
<polyline points="156.7,2352.5 156.9,2353.8 157.2,2355.0 157.6,2357.1 158.1,2356.3 158.5,2359.4 158.9,2359.1" fill="none" stroke="#002060" stroke-width="4.8" stroke-linejoin="round" stroke-linecap="round"/>
<polyline points="170.4,2361.3 171.3,2358.5 172.2,2359.4 172.9,2358.5" fill="none" stroke="#002060" stroke-width="4.8" stroke-linejoin="round" stroke-linecap="round"/>
<polyline points="180.2,2362.0 181.1,2359.0 182.1,2362.0 183.2,2357.8 184.2,2360.9 185.3,2357.9 186.4,2359.8 187.3,2358.6" fill="none" stroke="#002060" stroke-width="4.8" stroke-linejoin="round" stroke-linecap="round"/>
<polyline points="200.2,2361.7 201.2,2359.2 202.3,2361.1 203.2,2360.1" fill="none" stroke="#002060" stroke-width="4.8" stroke-linejoin="round" stroke-linecap="round"/>
<polyline points="207.5,2354.7 207.8,2356.7" fill="none" stroke="#002060" stroke-width="4.8" stroke-linejoin="round" stroke-linecap="round"/>
<polyline points="208.2,2353.4 208.5,2354.3 208.7,2352.0 208.8,2350.7 209.0,2349.4 209.1,2348.1 209.3,2346.8" fill="none" stroke="#002060" stroke-width="4.8" stroke-linejoin="round" stroke-linecap="round"/>
<polyline points="216.2,2345.3 216.3,2346.5 216.4,2347.8 216.6,2349.0 216.7,2350.3 216.8,2351.5 217.3,2351.7 217.9,2354.8 218.4,2353.5 218.9,2358.1 219.5,2355.6 220.0,2359.9 221.1,2357.7" fill="none" stroke="#002060" stroke-width="4.8" stroke-linejoin="round" stroke-linecap="round"/>
<polyline points="267.3,2352.0 267.8,2350.7 268.5,2353.8 269.2,2352.3 269.9,2355.2 270.6,2353.3 271.3,2357.3 272.2,2354.9 273.1,2358.5 274.0,2355.4 274.9,2359.0 275.4,2355.2 276.0,2357.1 276.6,2353.5 277.1,2355.5 277.7,2351.6 277.9,2351.7" fill="none" stroke="#002060" stroke-width="4.8" stroke-linejoin="round" stroke-linecap="round"/>
<polyline points="299.5,2352.8 299.8,2352.1 300.5,2355.5 301.1,2353.2" fill="none" stroke="#002060" stroke-width="4.8" stroke-linejoin="round" stroke-linecap="round"/>
<polyline points="353.4,2358.5 353.6,2357.2 353.7,2356.0 353.8,2354.7 353.9,2353.5 353.9,2352.2 354.0,2351.0 354.1,2349.8 354.1,2348.6 354.2,2347.3" fill="none" stroke="#002060" stroke-width="4.8" stroke-linejoin="round" stroke-linecap="round"/>
<polyline points="355.6,2347.3 355.8,2348.6 355.9,2349.8 356.1,2351.0 356.2,2352.2 356.3,2353.5 356.5,2354.7 358.2,2363.5 360.9,2351.2 360.9,2349.9 361.0,2348.6" fill="none" stroke="#002060" stroke-width="4.8" stroke-linejoin="round" stroke-linecap="round"/>
<polyline points="369.5,2346.4 369.7,2347.6 369.8,2348.8 370.0,2350.0 370.1,2351.2 370.1,2349.9 370.2,2348.6" fill="none" stroke="#002060" stroke-width="4.8" stroke-linejoin="round" stroke-linecap="round"/>
<polyline points="387.0,2352.1 387.4,2351.6" fill="none" stroke="#002060" stroke-width="4.8" stroke-linejoin="round" stroke-linecap="round"/>
<polyline points="387.9,2354.5 388.3,2353.6 388.8,2356.8 389.3,2355.0" fill="none" stroke="#002060" stroke-width="4.8" stroke-linejoin="round" stroke-linecap="round"/>
<polyline points="394.0,2356.9 394.7,2358.9 395.4,2355.5 395.7,2355.3 395.9,2354.1 396.2,2352.9 396.4,2351.7" fill="none" stroke="#002060" stroke-width="4.8" stroke-linejoin="round" stroke-linecap="round"/>
<polyline points="418.0,2350.6 418.2,2351.7 418.4,2352.9 418.8,2355.4 419.3,2353.4 419.7,2357.3 420.2,2355.9 420.6,2360.1 421.1,2358.7 421.9,2362.7 422.8,2360.6" fill="none" stroke="#002060" stroke-width="4.8" stroke-linejoin="round" stroke-linecap="round"/>
<polyline points="454.1,2353.5 454.4,2352.3 454.7,2351.2 455.0,2348.1 455.4,2350.3" fill="none" stroke="#002060" stroke-width="4.8" stroke-linejoin="round" stroke-linecap="round"/>
<polyline points="497.6,2355.6 498.3,2356.7 498.9,2353.9 499.5,2357.2 500.0,2354.6 500.2,2357.3" fill="none" stroke="#002060" stroke-width="4.8" stroke-linejoin="round" stroke-linecap="round"/>
<polyline points="522.9,2358.7 523.1,2357.5 523.3,2356.3 523.4,2355.1 523.6,2353.8 524.7,2348.9 525.8,2359.3 525.9,2360.6 526.0,2361.9 526.1,2363.1" fill="none" stroke="#002060" stroke-width="4.8" stroke-linejoin="round" stroke-linecap="round"/>
<polyline points="532.5,2360.1 532.6,2358.8 532.6,2357.6 532.7,2356.3 532.7,2355.1 532.7,2353.8 533.5,2340.7 534.6,2353.8 534.7,2355.1 534.7,2356.4 534.8,2357.7 534.9,2359.0 534.9,2360.3 535.0,2361.6 535.1,2362.9 535.1,2364.2" fill="none" stroke="#002060" stroke-width="4.8" stroke-linejoin="round" stroke-linecap="round"/>
<polyline points="541.3,2371.1 541.3,2369.8 541.4,2368.6 541.4,2367.3 541.5,2366.1 541.5,2364.8 542.9,2348.4 544.0,2364.8 544.0,2366.1 544.1,2367.4 544.2,2368.6" fill="none" stroke="#002060" stroke-width="4.8" stroke-linejoin="round" stroke-linecap="round"/>
<polyline points="552.3,2366.2 552.4,2365.0 552.6,2363.8 552.7,2362.6 554.1,2386.8 554.9,2414.3 555.0,2415.5 555.1,2416.8 555.1,2418.0 555.2,2419.3 555.2,2420.5 555.3,2421.8 555.4,2423.0" fill="none" stroke="#002060" stroke-width="4.8" stroke-linejoin="round" stroke-linecap="round"/>
<polyline points="556.9,2420.2 557.0,2419.0 557.0,2417.7 557.0,2416.4 557.0,2415.2 557.1,2413.9 557.1,2412.6 557.1,2411.3 557.1,2410.1 557.1,2408.8 557.4,2375.8 557.6,2346.2 557.6,2304.4" fill="none" stroke="#002060" stroke-width="4.8" stroke-linejoin="round" stroke-linecap="round"/>
<polyline points="562.9,2305.0 563.3,2343.0 563.6,2342.4 564.0,2346.2 564.3,2344.7 565.1,2331.9 565.1,2330.6 565.1,2329.3 565.2,2328.0 565.2,2326.7 565.2,2325.4 565.3,2324.1 565.3,2322.8 565.4,2321.5" fill="none" stroke="#002060" stroke-width="4.8" stroke-linejoin="round" stroke-linecap="round"/>
<polyline points="570.6,2321.5 570.7,2322.8 570.7,2324.1 570.7,2325.4 570.7,2326.7 570.8,2328.0 570.8,2329.3 570.8,2330.6 570.9,2331.9 571.4,2353.8 572.5,2364.8 573.1,2366.4 573.6,2365.7 574.2,2368.4 574.7,2366.6" fill="none" stroke="#002060" stroke-width="4.8" stroke-linejoin="round" stroke-linecap="round"/>
<polyline points="590.8,2356.7 591.4,2358.9" fill="none" stroke="#002060" stroke-width="4.8" stroke-linejoin="round" stroke-linecap="round"/>
<polyline points="592.1,2354.9 592.7,2357.4 593.4,2353.9 594.1,2355.9" fill="none" stroke="#002060" stroke-width="4.8" stroke-linejoin="round" stroke-linecap="round"/>
<polyline points="603.4,2352.5 603.7,2350.8" fill="none" stroke="#002060" stroke-width="4.8" stroke-linejoin="round" stroke-linecap="round"/>
<polyline points="604.3,2353.1 604.6,2357.1 604.9,2356.0 605.3,2359.5 605.7,2357.3" fill="none" stroke="#002060" stroke-width="4.8" stroke-linejoin="round" stroke-linecap="round"/>
<polyline points="613.3,2357.5 613.7,2360.0 614.2,2355.6 614.7,2357.9 615.1,2353.0 615.6,2355.3 616.0,2351.1 616.5,2352.4 616.8,2348.9 617.2,2350.7" fill="none" stroke="#002060" stroke-width="4.8" stroke-linejoin="round" stroke-linecap="round"/>
<polyline points="629.9,2352.3 630.6,2350.2 631.5,2352.9 632.4,2350.5 633.3,2354.8 634.2,2352.0 634.9,2353.1" fill="none" stroke="#002060" stroke-width="4.8" stroke-linejoin="round" stroke-linecap="round"/>
<polyline points="666.2,2357.0 666.9,2356.0 668.0,2357.3 669.1,2354.6 670.2,2357.1 671.3,2353.1 672.4,2356.3 673.5,2352.8 674.5,2355.7 675.6,2352.3 676.6,2354.7 677.4,2351.6 678.1,2353.2" fill="none" stroke="#002060" stroke-width="4.8" stroke-linejoin="round" stroke-linecap="round"/>
<polyline points="717.3,2352.5 718.2,2350.8" fill="none" stroke="#002060" stroke-width="4.8" stroke-linejoin="round" stroke-linecap="round"/>
<polyline points="720.0,2353.2 720.9,2355.8 722.1,2353.9 723.2,2356.3 724.4,2353.5 725.6,2356.0 726.8,2353.3 728.0,2356.7 729.1,2354.0 730.3,2356.6 731.5,2354.0 732.7,2357.3 733.9,2354.8 735.0,2357.8 735.9,2356.7" fill="none" stroke="#002060" stroke-width="4.8" stroke-linejoin="round" stroke-linecap="round"/>
<polyline points="787.8,2354.5 788.1,2353.3 789.0,2348.0 790.3,2360.4 791.1,2360.0" fill="none" stroke="#002060" stroke-width="4.8" stroke-linejoin="round" stroke-linecap="round"/>
<polyline points="800.5,2355.6 801.4,2357.0 802.3,2353.8 803.2,2355.5 804.1,2351.4 805.1,2353.7 806.2,2350.5 807.3,2353.3 808.3,2349.4 809.4,2352.3 810.4,2349.8 811.5,2353.2 812.6,2351.6 813.6,2354.6 814.7,2352.4 815.8,2354.8 816.8,2352.8 817.9,2355.3 818.9,2352.4 820.0,2354.1 820.9,2351.9 821.8,2353.4 822.7,2350.2 823.5,2352.6 824.1,2349.8 824.7,2354.7 825.3,2352.7 825.9,2355.6 826.5,2355.0 827.1,2358.2 828.1,2355.5 829.2,2358.8" fill="none" stroke="#002060" stroke-width="4.8" stroke-linejoin="round" stroke-linecap="round"/>
<polyline points="835.6,2359.9 836.6,2356.3 837.7,2358.6 838.9,2355.8 840.1,2358.5 841.2,2355.8 842.4,2358.3 843.6,2355.3 844.8,2357.8 845.7,2356.7" fill="none" stroke="#002060" stroke-width="4.8" stroke-linejoin="round" stroke-linecap="round"/>
<polyline points="852.7,2357.0 853.6,2358.7 854.8,2355.9 856.0,2359.2 857.2,2355.7 858.3,2358.5 859.5,2356.4 860.7,2359.5 861.9,2355.8 863.1,2359.3 864.2,2356.5 865.4,2358.2 866.6,2356.1 867.8,2357.8 868.8,2354.5 869.9,2357.6 871.0,2353.8 872.0,2356.6 873.1,2353.2 873.4,2353.8" fill="none" stroke="#002060" stroke-width="4.8" stroke-linejoin="round" stroke-linecap="round"/>
<polyline points="898.6,2350.3 898.8,2351.5 899.2,2351.0" fill="none" stroke="#002060" stroke-width="4.8" stroke-linejoin="round" stroke-linecap="round"/>
<polyline points="899.6,2355.3 900.1,2354.3" fill="none" stroke="#002060" stroke-width="4.8" stroke-linejoin="round" stroke-linecap="round"/>
<polyline points="980.0,2353.0 980.7,2349.6 981.4,2351.2 982.1,2347.6 982.7,2349.5 983.4,2345.8 984.1,2347.5 984.3,2345.0 984.5,2343.8" fill="none" stroke="#002060" stroke-width="4.8" stroke-linejoin="round" stroke-linecap="round"/>
<polyline points="992.0,2345.4 992.2,2346.7 992.4,2348.0 992.6,2346.7 992.9,2345.4" fill="none" stroke="#002060" stroke-width="4.8" stroke-linejoin="round" stroke-linecap="round"/>
<polyline points="999.2,2352.9 999.3,2354.0 999.5,2355.0" fill="none" stroke="#002060" stroke-width="4.8" stroke-linejoin="round" stroke-linecap="round"/>
<polyline points="1069.9,2354.5 1070.8,2357.8 1071.0,2355.6 1071.2,2354.5 1071.4,2353.3 1071.6,2352.1" fill="none" stroke="#002060" stroke-width="4.8" stroke-linejoin="round" stroke-linecap="round"/>
<polyline points="1093.4,2353.1 1093.8,2351.7 1094.5,2354.9 1095.1,2354.3 1095.8,2357.1 1096.5,2356.0 1096.9,2356.8 1097.3,2353.5 1097.8,2354.7" fill="none" stroke="#002060" stroke-width="4.8" stroke-linejoin="round" stroke-linecap="round"/>
<polyline points="1099.6,2352.1 1100.2,2351.0" fill="none" stroke="#002060" stroke-width="4.8" stroke-linejoin="round" stroke-linecap="round"/>
<polyline points="1101.2,2353.0 1101.8,2355.9 1102.5,2353.2" fill="none" stroke="#002060" stroke-width="4.8" stroke-linejoin="round" stroke-linecap="round"/>
<polyline points="1103.9,2350.0 1104.6,2352.5" fill="none" stroke="#002060" stroke-width="4.8" stroke-linejoin="round" stroke-linecap="round"/>
<polyline points="1105.8,2351.8 1106.4,2351.1" fill="none" stroke="#002060" stroke-width="4.8" stroke-linejoin="round" stroke-linecap="round"/>
<polyline points="1107.4,2352.6 1108.0,2356.2 1108.8,2354.4 1109.7,2358.1 1110.6,2355.8" fill="none" stroke="#002060" stroke-width="4.8" stroke-linejoin="round" stroke-linecap="round"/>
<polyline points="1195.9,2354.7 1197.0,2357.4 1198.1,2354.1 1199.1,2356.5 1200.2,2354.2 1201.2,2356.6 1202.3,2354.8" fill="none" stroke="#002060" stroke-width="4.8" stroke-linejoin="round" stroke-linecap="round"/>
<polyline points="1210.8,2355.5 1211.9,2356.7 1213.0,2355.0" fill="none" stroke="#002060" stroke-width="4.8" stroke-linejoin="round" stroke-linecap="round"/>
<polyline points="1274.2,2359.2 1275.4,2360.6 1276.5,2357.2 1277.3,2359.4 1278.2,2355.9 1279.1,2357.3 1280.0,2353.9 1280.4,2355.6 1280.9,2351.6 1281.3,2353.4 1281.8,2349.3 1282.2,2350.1 1282.7,2346.4 1283.5,2348.9" fill="none" stroke="#002060" stroke-width="4.8" stroke-linejoin="round" stroke-linecap="round"/>
<polyline points="1303.0,2350.1 1303.9,2348.3 1304.8,2352.3 1305.7,2349.8 1306.5,2353.9 1307.4,2352.1 1308.3,2355.3 1309.2,2354.1 1310.1,2357.7 1311.0,2355.3 1311.6,2359.5 1312.2,2357.9" fill="none" stroke="#002060" stroke-width="4.8" stroke-linejoin="round" stroke-linecap="round"/>
<polyline points="1647.9,2358.6 1648.6,2360.1 1649.3,2358.4" fill="none" stroke="#002060" stroke-width="4.8" stroke-linejoin="round" stroke-linecap="round"/>
<polyline points="1739.8,2357.6 1740.2,2359.8 1741.1,2356.3 1741.9,2358.2 1742.8,2354.5 1743.7,2356.7 1744.8,2353.7 1745.8,2356.0 1746.9,2353.1 1748.0,2354.6 1749.0,2351.9 1750.1,2355.7 1751.2,2353.0 1752.2,2356.5 1753.5,2353.0 1754.7,2355.5 1755.9,2352.1 1757.2,2354.5 1758.2,2352.7 1759.3,2356.4 1760.4,2354.3 1761.4,2357.7 1762.4,2354.3 1763.4,2356.4 1764.4,2353.3 1765.4,2355.9 1766.4,2352.8 1767.6,2354.7 1768.8,2351.8 1770.1,2354.2 1771.3,2350.6 1772.2,2354.4 1773.1,2352.4 1774.0,2356.3 1774.9,2354.6 1775.3,2358.0 1775.8,2356.7" fill="none" stroke="#002060" stroke-width="4.8" stroke-linejoin="round" stroke-linecap="round"/>
<polyline points="1836.3,2355.0 1837.5,2358.1 1838.6,2354.0 1839.5,2356.7 1840.5,2353.5 1841.4,2355.0 1842.4,2352.0 1843.3,2354.0 1844.2,2351.5 1845.4,2352.7 1846.5,2350.8 1847.6,2352.7 1848.8,2349.8 1849.9,2352.2 1851.0,2349.2 1852.2,2351.5 1853.3,2348.5 1854.4,2349.9 1855.6,2347.2 1856.7,2350.0 1857.8,2347.5 1859.0,2350.2 1860.1,2348.7 1861.2,2351.3 1862.3,2348.1 1863.4,2351.7 1864.4,2348.4 1865.5,2351.1 1866.2,2348.0 1866.9,2350.5 1867.6,2346.8 1868.3,2349.3 1869.3,2347.1 1870.2,2350.8 1871.2,2347.9 1871.7,2351.2 1872.3,2350.7 1872.9,2353.9 1873.5,2351.6 1874.1,2355.1 1874.7,2354.1 1875.4,2357.7 1876.1,2356.0 1876.8,2359.6 1877.5,2357.3 1878.2,2360.2 1879.1,2359.0" fill="none" stroke="#002060" stroke-width="4.8" stroke-linejoin="round" stroke-linecap="round"/>
<polyline points="1884.6,2360.4 1885.3,2356.5 1886.4,2358.9 1887.4,2356.1 1888.5,2358.7 1889.6,2354.7 1890.6,2359.1 1891.7,2356.6 1892.7,2359.8 1893.8,2358.7 1894.9,2362.1 1895.9,2359.3" fill="none" stroke="#002060" stroke-width="4.8" stroke-linejoin="round" stroke-linecap="round"/>
<polyline points="36.0,2355.2 37.4,2353.9 38.8,2356.0 40.2,2354.1 41.6,2356.7 43.0,2353.9 44.4,2356.3 45.8,2354.5 47.2,2356.1 48.6,2353.8 50.0,2356.0 51.4,2354.0 52.8,2356.3 54.2,2353.8 55.6,2356.5 57.0,2354.5 58.4,2355.6 59.8,2354.5 61.2,2356.1 62.6,2354.2 64.0,2356.5 65.4,2353.8 66.8,2355.6 68.2,2353.9 69.6,2356.5 71.0,2353.8 72.4,2356.2 73.8,2354.5 75.2,2356.5 76.6,2353.9 78.0,2356.4 79.4,2353.8 80.8,2356.0 82.2,2354.7 83.6,2356.2 85.0,2353.9 86.4,2355.8 87.8,2354.0 89.2,2356.6 90.6,2354.5 92.0,2356.3" fill="none" stroke="#002060" stroke-width="4.8" stroke-linejoin="round" stroke-linecap="round"/>
<polyline points="109.0,2355.2 110.4,2354.1 111.8,2356.1 113.2,2354.6 114.6,2355.9 116.0,2354.0 117.4,2356.5 118.8,2354.3 120.2,2355.7 121.6,2353.9 123.0,2356.4 124.4,2354.5 125.8,2356.2 127.2,2353.8 128.6,2356.6 130.0,2354.2 131.4,2356.1 132.8,2354.2 134.2,2355.8 135.6,2354.6 137.0,2355.8 138.4,2354.0 139.8,2356.0 141.2,2354.2 142.0,2356.0" fill="none" stroke="#002060" stroke-width="4.8" stroke-linejoin="round" stroke-linecap="round"/>
<polyline points="157.0,2355.2 158.4,2354.2 159.8,2355.8 161.2,2354.8 162.6,2356.7 164.0,2354.4 165.4,2355.7 166.8,2354.1 168.2,2356.5 169.6,2354.6 171.0,2356.3 172.4,2354.4 173.8,2356.2 175.2,2354.8 176.6,2355.6 178.0,2353.7 179.4,2356.6 180.8,2354.3 182.2,2356.2 183.6,2354.5 185.0,2356.5 186.4,2354.3 187.8,2356.6 189.2,2354.0 190.6,2356.5 192.0,2353.7 193.4,2355.9 194.8,2354.8 196.2,2355.8 197.6,2354.6 199.0,2355.7 200.4,2354.7 201.8,2356.2 203.2,2353.8 204.6,2356.1 206.0,2353.8 207.4,2356.6 208.0,2354.7" fill="none" stroke="#002060" stroke-width="4.8" stroke-linejoin="round" stroke-linecap="round"/>
<polyline points="737.0,2355.2 738.4,2354.1 739.8,2356.0 741.2,2354.7 742.6,2356.7 744.0,2354.5 745.4,2356.2 746.8,2354.1 748.2,2356.7 749.6,2354.1 751.0,2356.0 752.4,2354.3 753.8,2355.8 755.2,2353.7 756.6,2356.7 758.0,2354.6 759.4,2355.6 760.8,2354.5 762.2,2356.0 763.6,2353.8 765.0,2356.6 766.4,2353.9 767.8,2355.7 769.2,2353.9 770.6,2356.4 772.0,2354.1 773.4,2356.7 774.8,2354.7 776.2,2355.8 777.6,2354.0 779.0,2356.6 780.4,2354.1 781.8,2355.9 783.2,2354.1 784.6,2356.4 786.0,2354.7 787.4,2356.0 788.8,2354.5 790.2,2355.7 791.0,2354.3" fill="none" stroke="#002060" stroke-width="4.8" stroke-linejoin="round" stroke-linecap="round"/>
<g transform="translate(112.30,2137.00) rotate(-90)"><text font-family='"DejaVu Sans", "Liberation Sans", sans-serif' font-size="36.21" fill="#000" stroke="#000" stroke-width="0.5" stroke-linejoin="round" xml:space="preserve"><tspan x="-3.48" textLength="21.39" lengthAdjust="spacingAndGlyphs">P</tspan><tspan x="17.91" textLength="23.32" lengthAdjust="spacingAndGlyphs">C</tspan></text></g>
<line x1="99.0" y1="2141.0" x2="99.0" y2="2230.0" stroke="#000" stroke-width="2.6"/>
<polygon points="86.4,2229.0 111.6,2229.0 99.0,2253.6" fill="#000"/>
<g transform="translate(158.30,2137.00) rotate(-90)"><text font-family='"DejaVu Sans", "Liberation Sans", sans-serif' font-size="36.21" fill="#000" stroke="#000" stroke-width="0.5" stroke-linejoin="round" xml:space="preserve"><tspan x="-4.13" textLength="36.38" lengthAdjust="spacingAndGlyphs">M</tspan><tspan x="32.25" textLength="18.93" lengthAdjust="spacingAndGlyphs">y</tspan><tspan x="51.18" textLength="9.61" lengthAdjust="spacingAndGlyphs">I</tspan></text></g>
<line x1="147.7" y1="2141.0" x2="147.7" y2="2230.0" stroke="#000" stroke-width="2.6"/>
<polygon points="135.1,2229.0 160.3,2229.0 147.7,2253.6" fill="#000"/>
<g transform="translate(220.00,2137.00) rotate(-90)"><text font-family='"DejaVu Sans", "Liberation Sans", sans-serif' font-size="36.21" fill="#000" stroke="#000" stroke-width="0.5" stroke-linejoin="round" xml:space="preserve"><tspan x="-0.92" textLength="13.31" lengthAdjust="spacingAndGlyphs">t</tspan><tspan x="12.39" textLength="23.32" lengthAdjust="spacingAndGlyphs">C</tspan><tspan x="35.71" textLength="13.15" lengthAdjust="spacingAndGlyphs">r</tspan></text></g>
<line x1="213.2" y1="2141.0" x2="213.2" y2="2230.0" stroke="#000" stroke-width="2.6"/>
<polygon points="200.6,2229.0 225.8,2229.0 213.2,2253.6" fill="#000"/>
<g transform="translate(298.50,2052.00) rotate(-90)"><text font-family='"DejaVu Sans", "Liberation Sans", sans-serif' font-size="36.21" fill="#000" stroke="#000" stroke-width="0.5" stroke-linejoin="round" xml:space="preserve"><tspan x="-1.88" textLength="25.97" lengthAdjust="spacingAndGlyphs">G</tspan><tspan x="24.09" textLength="19.82" lengthAdjust="spacingAndGlyphs">S</tspan><tspan x="43.91" textLength="18.61" lengthAdjust="spacingAndGlyphs">x</tspan><tspan x="62.52" textLength="13.79" lengthAdjust="spacingAndGlyphs">/</tspan><tspan x="76.31" textLength="25.97" lengthAdjust="spacingAndGlyphs">G</tspan><tspan x="102.28" textLength="9.49" lengthAdjust="spacingAndGlyphs">l</tspan><tspan x="111.77" textLength="22.15" lengthAdjust="spacingAndGlyphs">u</tspan></text></g>
<line x1="286.5" y1="2056.0" x2="286.5" y2="2144.4" stroke="#000" stroke-width="2.6"/>
<polygon points="273.9,2143.4 299.1,2143.4 286.5,2168.0" fill="#000"/>
<g transform="translate(379.90,2137.00) rotate(-90)"><text font-family='"DejaVu Sans", "Liberation Sans", sans-serif' font-size="36.21" fill="#000" stroke="#000" stroke-width="0.5" stroke-linejoin="round" xml:space="preserve"><tspan x="-4.13" textLength="36.38" lengthAdjust="spacingAndGlyphs">M</tspan><tspan x="32.25" textLength="18.93" lengthAdjust="spacingAndGlyphs">y</tspan><tspan x="51.18" textLength="9.61" lengthAdjust="spacingAndGlyphs">I</tspan></text></g>
<line x1="368.7" y1="2141.0" x2="368.7" y2="2230.4" stroke="#000" stroke-width="2.6"/>
<polygon points="356.1,2229.4 381.3,2229.4 368.7,2254.0" fill="#000"/>
<g transform="translate(420.20,2137.00) rotate(-90)"><text font-family='"DejaVu Sans", "Liberation Sans", sans-serif' font-size="36.21" fill="#000" stroke="#000" stroke-width="0.5" stroke-linejoin="round" xml:space="preserve"><tspan x="-4.13" textLength="36.38" lengthAdjust="spacingAndGlyphs">M</tspan><tspan x="32.25" textLength="18.93" lengthAdjust="spacingAndGlyphs">y</tspan><tspan x="51.18" textLength="9.61" lengthAdjust="spacingAndGlyphs">I</tspan></text></g>
<line x1="407.8" y1="2141.0" x2="407.8" y2="2230.4" stroke="#000" stroke-width="2.6"/>
<polygon points="395.2,2229.4 420.4,2229.4 407.8,2254.0" fill="#000"/>
<g transform="translate(480.90,2137.00) rotate(-90)"><text font-family='"DejaVu Sans", "Liberation Sans", sans-serif' font-size="36.21" fill="#000" stroke="#000" stroke-width="0.5" stroke-linejoin="round" xml:space="preserve"><tspan x="0.10" textLength="19.98" lengthAdjust="spacingAndGlyphs">T</tspan><tspan x="20.08" textLength="19.38" lengthAdjust="spacingAndGlyphs">a</tspan><tspan x="39.45" textLength="22.15" lengthAdjust="spacingAndGlyphs">u</tspan></text></g>
<line x1="465.4" y1="2141.0" x2="465.4" y2="2230.4" stroke="#000" stroke-width="2.6"/>
<polygon points="452.8,2229.4 478.0,2229.4 465.4,2254.0" fill="#000"/>
<g transform="translate(545.00,2073.50) rotate(-90)"><text font-family='"DejaVu Sans", "Liberation Sans", sans-serif' font-size="36.21" fill="#000" stroke="#000" stroke-width="0.5" stroke-linejoin="round" xml:space="preserve"><tspan x="-4.24" textLength="37.36" lengthAdjust="spacingAndGlyphs">M</tspan><tspan x="33.12" textLength="19.45" lengthAdjust="spacingAndGlyphs">y</tspan><tspan x="52.57" textLength="9.87" lengthAdjust="spacingAndGlyphs">I</tspan><tspan x="62.43" textLength="14.16" lengthAdjust="spacingAndGlyphs">/</tspan><tspan x="76.59" textLength="20.52" lengthAdjust="spacingAndGlyphs">T</tspan><tspan x="97.11" textLength="19.90" lengthAdjust="spacingAndGlyphs">a</tspan><tspan x="117.01" textLength="22.75" lengthAdjust="spacingAndGlyphs">u</tspan><tspan x="139.76" textLength="14.16" lengthAdjust="spacingAndGlyphs">/</tspan><tspan x="153.92" textLength="21.96" lengthAdjust="spacingAndGlyphs">P</tspan><tspan x="175.89" textLength="13.67" lengthAdjust="spacingAndGlyphs">t</tspan><tspan x="189.55" textLength="23.95" lengthAdjust="spacingAndGlyphs">C</tspan></text></g>
<line x1="530.4" y1="2078.0" x2="530.4" y2="2231.2" stroke="#000" stroke-width="2.6"/>
<polygon points="517.8,2230.2 543.0,2230.2 530.4,2254.8" fill="#000"/>
<g transform="translate(560.40,2145.50) rotate(-90)"><text font-family='"DejaVu Sans", "Liberation Sans", sans-serif' font-size="36.21" fill="#000" stroke="#000" stroke-width="0.5" stroke-linejoin="round" xml:space="preserve"><tspan x="-1.88" textLength="25.97" lengthAdjust="spacingAndGlyphs">G</tspan><tspan x="24.09" textLength="21.39" lengthAdjust="spacingAndGlyphs">P</tspan><tspan x="45.48" textLength="23.32" lengthAdjust="spacingAndGlyphs">C</tspan></text></g>
<line x1="552.9" y1="2152.5" x2="552.9" y2="2230.8" stroke="#000" stroke-width="2.6"/>
<polygon points="540.3,2229.8 565.5,2229.8 552.9,2254.4" fill="#000"/>
<g transform="translate(572.10,1903.50) rotate(-90)"><text font-family='"DejaVu Sans", "Liberation Sans", sans-serif' font-size="36.21" fill="#000" stroke="#000" stroke-width="0.5" stroke-linejoin="round" xml:space="preserve"><tspan x="-3.48" textLength="21.39" lengthAdjust="spacingAndGlyphs">P</tspan><tspan x="17.91" textLength="23.32" lengthAdjust="spacingAndGlyphs">C</tspan></text></g>
<line x1="559.3" y1="1907.5" x2="559.3" y2="1930.2" stroke="#000" stroke-width="2.6"/>
<polygon points="546.7,1929.2 571.9,1929.2 559.3,1953.8" fill="#000"/>
<g transform="translate(660.90,2137.00) rotate(-90)"><text font-family='"DejaVu Sans", "Liberation Sans", sans-serif' font-size="36.21" fill="#000" stroke="#000" stroke-width="0.5" stroke-linejoin="round" xml:space="preserve"><tspan x="-0.92" textLength="13.31" lengthAdjust="spacingAndGlyphs">t</tspan><tspan x="12.39" textLength="23.32" lengthAdjust="spacingAndGlyphs">C</tspan><tspan x="35.71" textLength="13.15" lengthAdjust="spacingAndGlyphs">r</tspan></text></g>
<line x1="652.1" y1="2141.0" x2="652.1" y2="2230.5" stroke="#000" stroke-width="2.6"/>
<polygon points="639.5,2229.5 664.7,2229.5 652.1,2254.1" fill="#000"/>
<g transform="translate(709.70,2136.40) rotate(-90)"><text font-family='"DejaVu Sans", "Liberation Sans", sans-serif' font-size="36.21" fill="#000" stroke="#000" stroke-width="0.5" stroke-linejoin="round" xml:space="preserve"><tspan x="-1.82" textLength="25.19" lengthAdjust="spacingAndGlyphs">G</tspan><tspan x="23.37" textLength="19.22" lengthAdjust="spacingAndGlyphs">S</tspan><tspan x="42.59" textLength="18.05" lengthAdjust="spacingAndGlyphs">x</tspan></text></g>
<line x1="696.0" y1="2142.0" x2="696.0" y2="2232.2" stroke="#000" stroke-width="2.6"/>
<polygon points="683.4,2231.2 708.6,2231.2 696.0,2255.8" fill="#000"/>
<g transform="translate(789.35,2137.00) rotate(-90)"><text font-family='"DejaVu Sans", "Liberation Sans", sans-serif' font-size="31.69" fill="#000" stroke="#000" stroke-width="0.5" stroke-linejoin="round" xml:space="preserve"><tspan x="-2.93" textLength="17.19" lengthAdjust="spacingAndGlyphs">F</tspan><tspan x="14.26" textLength="21.60" lengthAdjust="spacingAndGlyphs">A</tspan><tspan x="35.86"> </tspan><tspan x="43.35" textLength="17.65" lengthAdjust="spacingAndGlyphs">–</tspan><tspan x="61.00" textLength="20.47" lengthAdjust="spacingAndGlyphs">C</tspan><tspan x="81.47" textLength="23.02" lengthAdjust="spacingAndGlyphs">H</tspan><tspan x="104.49" textLength="21.04" lengthAdjust="spacingAndGlyphs">=</tspan><tspan x="125.53" textLength="20.47" lengthAdjust="spacingAndGlyphs">C</tspan><tspan x="146.00" textLength="23.02" lengthAdjust="spacingAndGlyphs">H</tspan><tspan x="169.02" textLength="17.65" lengthAdjust="spacingAndGlyphs">–</tspan><tspan x="186.67" textLength="20.47" lengthAdjust="spacingAndGlyphs">C</tspan><tspan x="207.14" textLength="23.02" lengthAdjust="spacingAndGlyphs">H</tspan><tspan x="230.16" dy="9.00" font-size="20.76" textLength="11.86" lengthAdjust="spacingAndGlyphs">2</tspan><tspan x="242.02" dy="-9.00" textLength="17.65" lengthAdjust="spacingAndGlyphs">–</tspan><tspan x="259.67" textLength="20.47" lengthAdjust="spacingAndGlyphs">C</tspan><tspan x="280.14" textLength="23.02" lengthAdjust="spacingAndGlyphs">H</tspan><tspan x="303.16" textLength="21.04" lengthAdjust="spacingAndGlyphs">=</tspan><tspan x="324.20" textLength="20.47" lengthAdjust="spacingAndGlyphs">C</tspan><tspan x="344.67" textLength="23.02" lengthAdjust="spacingAndGlyphs">H</tspan><tspan x="367.69" textLength="17.65" lengthAdjust="spacingAndGlyphs">–</tspan></text><rect x="206.84" y="4.59" width="23.62" height="2.82" fill="#000"/><rect x="229.96" y="12.74" width="12.26" height="1.91" fill="#000"/></g>
<line x1="777.5" y1="2142.0" x2="777.5" y2="2232.2" stroke="#000" stroke-width="2.6"/>
<polygon points="764.9,2231.2 790.1,2231.2 777.5,2255.8" fill="#000"/>
<g transform="translate(899.70,2136.40) rotate(-90)"><text font-family='"DejaVu Sans", "Liberation Sans", sans-serif' font-size="36.21" fill="#000" stroke="#000" stroke-width="0.5" stroke-linejoin="round" xml:space="preserve"><tspan x="-1.82" textLength="25.19" lengthAdjust="spacingAndGlyphs">G</tspan><tspan x="23.37" textLength="19.22" lengthAdjust="spacingAndGlyphs">S</tspan><tspan x="42.59" textLength="18.05" lengthAdjust="spacingAndGlyphs">x</tspan></text></g>
<line x1="886.0" y1="2142.0" x2="886.0" y2="2232.2" stroke="#000" stroke-width="2.6"/>
<polygon points="873.4,2231.2 898.6,2231.2 886.0,2255.8" fill="#000"/>
<g transform="translate(1002.10,2137.20) rotate(-90)"><text font-family='"DejaVu Sans", "Liberation Sans", sans-serif' font-size="36.21" fill="#000" stroke="#000" stroke-width="0.5" stroke-linejoin="round" xml:space="preserve"><tspan x="-1.88" textLength="25.97" lengthAdjust="spacingAndGlyphs">G</tspan><tspan x="24.09" textLength="9.49" lengthAdjust="spacingAndGlyphs">l</tspan><tspan x="33.58" textLength="22.15" lengthAdjust="spacingAndGlyphs">u</tspan></text></g>
<line x1="991.9" y1="2142.0" x2="991.9" y2="2232.2" stroke="#000" stroke-width="2.6"/>
<polygon points="979.3,2231.2 1004.5,2231.2 991.9,2255.8" fill="#000"/>
<g transform="translate(1057.05,2137.00) rotate(-90)"><text font-family='"DejaVu Sans", "Liberation Sans", sans-serif' font-size="31.69" fill="#000" stroke="#000" stroke-width="0.5" stroke-linejoin="round" xml:space="preserve"><tspan x="-2.93" textLength="17.19" lengthAdjust="spacingAndGlyphs">F</tspan><tspan x="14.26" textLength="21.60" lengthAdjust="spacingAndGlyphs">A</tspan><tspan x="35.86"> </tspan><tspan x="43.35" textLength="17.65" lengthAdjust="spacingAndGlyphs">–</tspan><tspan x="61.00" textLength="20.47" lengthAdjust="spacingAndGlyphs">C</tspan><tspan x="81.47" textLength="23.02" lengthAdjust="spacingAndGlyphs">H</tspan><tspan x="104.49" dy="9.00" font-size="20.76" textLength="11.86" lengthAdjust="spacingAndGlyphs">2</tspan><tspan x="116.35" dy="-9.00" textLength="17.65" lengthAdjust="spacingAndGlyphs">–</tspan><tspan x="134.00" textLength="20.47" lengthAdjust="spacingAndGlyphs">C</tspan><tspan x="154.47" textLength="23.02" lengthAdjust="spacingAndGlyphs">H</tspan><tspan x="177.49" dy="9.00" font-size="20.76" textLength="11.86" lengthAdjust="spacingAndGlyphs">2</tspan><tspan x="189.35" dy="-9.00" textLength="17.65" lengthAdjust="spacingAndGlyphs">–</tspan><tspan x="207.00" textLength="20.47" lengthAdjust="spacingAndGlyphs">C</tspan><tspan x="227.47" textLength="24.32" lengthAdjust="spacingAndGlyphs">O</tspan><tspan x="251.80" textLength="24.32" lengthAdjust="spacingAndGlyphs">O</tspan><tspan x="276.12" textLength="23.02" lengthAdjust="spacingAndGlyphs">H</tspan></text><rect x="154.17" y="4.59" width="23.62" height="2.82" fill="#000"/><rect x="177.29" y="12.74" width="12.26" height="1.91" fill="#000"/></g>
<line x1="1043.4" y1="2141.0" x2="1043.4" y2="2232.2" stroke="#000" stroke-width="2.6"/>
<polygon points="1030.8,2231.2 1056.0,2231.2 1043.4,2255.8" fill="#000"/>
<g transform="translate(1097.40,2136.40) rotate(-90)"><text font-family='"DejaVu Sans", "Liberation Sans", sans-serif' font-size="36.21" fill="#000" stroke="#000" stroke-width="0.5" stroke-linejoin="round" xml:space="preserve"><tspan x="-1.82" textLength="25.19" lengthAdjust="spacingAndGlyphs">G</tspan><tspan x="23.37" textLength="19.22" lengthAdjust="spacingAndGlyphs">S</tspan><tspan x="42.59" textLength="18.05" lengthAdjust="spacingAndGlyphs">x</tspan></text></g>
<line x1="1083.6" y1="2142.0" x2="1083.6" y2="2232.2" stroke="#000" stroke-width="2.6"/>
<polygon points="1071.0,2231.2 1096.2,2231.2 1083.6,2255.8" fill="#000"/>
<g transform="translate(1163.45,2137.00) rotate(-90)"><text font-family='"DejaVu Sans", "Liberation Sans", sans-serif' font-size="31.69" fill="#000" stroke="#000" stroke-width="0.5" stroke-linejoin="round" xml:space="preserve"><tspan x="-2.93" textLength="17.19" lengthAdjust="spacingAndGlyphs">F</tspan><tspan x="14.26" textLength="21.60" lengthAdjust="spacingAndGlyphs">A</tspan><tspan x="35.86"> </tspan><tspan x="43.35" textLength="17.65" lengthAdjust="spacingAndGlyphs">–</tspan><tspan x="61.00" textLength="20.47" lengthAdjust="spacingAndGlyphs">C</tspan><tspan x="81.47" textLength="23.02" lengthAdjust="spacingAndGlyphs">H</tspan><tspan x="104.49" dy="9.00" font-size="20.76" textLength="11.86" lengthAdjust="spacingAndGlyphs">2</tspan><tspan x="116.35" dy="-9.00" textLength="17.65" lengthAdjust="spacingAndGlyphs">–</tspan><tspan x="134.00" textLength="20.47" lengthAdjust="spacingAndGlyphs">C</tspan><tspan x="154.47" textLength="23.02" lengthAdjust="spacingAndGlyphs">H</tspan><tspan x="177.49" dy="9.00" font-size="20.76" textLength="11.86" lengthAdjust="spacingAndGlyphs">2</tspan><tspan x="189.35" dy="-9.00" textLength="17.65" lengthAdjust="spacingAndGlyphs">–</tspan><tspan x="207.00" textLength="20.47" lengthAdjust="spacingAndGlyphs">C</tspan><tspan x="227.47" textLength="23.02" lengthAdjust="spacingAndGlyphs">H</tspan><tspan x="250.49" textLength="21.04" lengthAdjust="spacingAndGlyphs">=</tspan><tspan x="271.53" textLength="20.47" lengthAdjust="spacingAndGlyphs">C</tspan><tspan x="292.00" textLength="23.02" lengthAdjust="spacingAndGlyphs">H</tspan><tspan x="315.02" textLength="17.65" lengthAdjust="spacingAndGlyphs">–</tspan></text><rect x="154.17" y="4.59" width="23.62" height="2.82" fill="#000"/><rect x="177.29" y="12.74" width="12.26" height="1.91" fill="#000"/></g>
<line x1="1151.6" y1="2141.0" x2="1151.6" y2="2232.2" stroke="#000" stroke-width="2.6"/>
<polygon points="1139.0,2231.2 1164.2,2231.2 1151.6,2255.8" fill="#000"/>
<g transform="translate(1376.85,2137.00) rotate(-90)"><text font-family='"DejaVu Sans", "Liberation Sans", sans-serif' font-size="31.69" fill="#000" stroke="#000" stroke-width="0.5" stroke-linejoin="round" xml:space="preserve"><tspan x="-2.93" textLength="17.19" lengthAdjust="spacingAndGlyphs">F</tspan><tspan x="14.26" textLength="21.60" lengthAdjust="spacingAndGlyphs">A</tspan><tspan x="35.86"> </tspan><tspan x="43.35" textLength="17.65" lengthAdjust="spacingAndGlyphs">–</tspan><tspan x="61.00" textLength="20.47" lengthAdjust="spacingAndGlyphs">C</tspan><tspan x="81.47" textLength="23.02" lengthAdjust="spacingAndGlyphs">H</tspan><tspan x="104.49" dy="9.00" font-size="20.76" textLength="11.86" lengthAdjust="spacingAndGlyphs">2</tspan><tspan x="116.35" dy="-9.00" textLength="17.65" lengthAdjust="spacingAndGlyphs">–</tspan><tspan x="134.00" textLength="20.47" lengthAdjust="spacingAndGlyphs">C</tspan><tspan x="154.47" textLength="23.02" lengthAdjust="spacingAndGlyphs">H</tspan><tspan x="177.49" dy="9.00" font-size="20.76" textLength="11.86" lengthAdjust="spacingAndGlyphs">2</tspan><tspan x="189.35" dy="-9.00" textLength="17.65" lengthAdjust="spacingAndGlyphs">–</tspan><tspan x="207.00" textLength="20.47" lengthAdjust="spacingAndGlyphs">C</tspan><tspan x="227.47" textLength="24.32" lengthAdjust="spacingAndGlyphs">O</tspan><tspan x="251.80" textLength="24.32" lengthAdjust="spacingAndGlyphs">O</tspan><tspan x="276.12" textLength="23.02" lengthAdjust="spacingAndGlyphs">H</tspan></text><rect x="81.17" y="4.59" width="23.62" height="2.82" fill="#000"/><rect x="104.29" y="12.74" width="12.26" height="1.91" fill="#000"/></g>
<line x1="1366.1" y1="2141.0" x2="1366.1" y2="2232.2" stroke="#000" stroke-width="2.6"/>
<polygon points="1353.5,2231.2 1378.7,2231.2 1366.1,2255.8" fill="#000"/>
<g transform="translate(1506.10,2137.00) rotate(-90)"><text font-family='"DejaVu Sans", "Liberation Sans", sans-serif' font-size="36.21" fill="#000" stroke="#000" stroke-width="0.5" stroke-linejoin="round" xml:space="preserve"><tspan x="-3.40" textLength="19.97" lengthAdjust="spacingAndGlyphs">F</tspan><tspan x="16.57" textLength="25.09" lengthAdjust="spacingAndGlyphs">A</tspan><tspan x="41.66"> </tspan><tspan x="50.35" textLength="11.65" lengthAdjust="spacingAndGlyphs">(</tspan><tspan x="62.00" textLength="20.50" lengthAdjust="spacingAndGlyphs">–</tspan><tspan x="82.50" textLength="23.78" lengthAdjust="spacingAndGlyphs">C</tspan><tspan x="106.28" textLength="26.73" lengthAdjust="spacingAndGlyphs">H</tspan><tspan x="133.02" dy="10.46" font-size="23.72" textLength="13.78" lengthAdjust="spacingAndGlyphs">2</tspan><tspan x="146.79" dy="-10.46" textLength="20.50" lengthAdjust="spacingAndGlyphs">–</tspan><tspan x="167.30" textLength="11.65" lengthAdjust="spacingAndGlyphs">)</tspan><tspan x="178.94" dy="10.46" font-size="23.72" font-style="italic" textLength="14.91" lengthAdjust="spacingAndGlyphs">n</tspan></text></g>
<line x1="1495.2" y1="2141.0" x2="1495.2" y2="2232.2" stroke="#000" stroke-width="2.6"/>
<polygon points="1482.6,2231.2 1507.8,2231.2 1495.2,2255.8" fill="#000"/>
<g transform="translate(1712.20,2136.50) rotate(-90)"><text font-family='"DejaVu Sans", "Liberation Sans", sans-serif' font-size="36.21" fill="#000" stroke="#000" stroke-width="0.5" stroke-linejoin="round" xml:space="preserve"><tspan x="-3.27" textLength="19.19" lengthAdjust="spacingAndGlyphs">F</tspan><tspan x="15.92" textLength="24.11" lengthAdjust="spacingAndGlyphs">A</tspan><tspan x="40.03"> </tspan><tspan x="48.38" textLength="19.70" lengthAdjust="spacingAndGlyphs">–</tspan><tspan x="68.08" textLength="22.85" lengthAdjust="spacingAndGlyphs">C</tspan><tspan x="90.93" textLength="25.69" lengthAdjust="spacingAndGlyphs">H</tspan><tspan x="116.61" dy="10.05" font-size="23.72" textLength="13.24" lengthAdjust="spacingAndGlyphs">3</tspan></text></g>
<line x1="1702.9" y1="2141.0" x2="1702.9" y2="2232.2" stroke="#000" stroke-width="2.6"/>
<polygon points="1690.3,2231.2 1715.5,2231.2 1702.9,2255.8" fill="#000"/>
<text x="177.7" y="2414.4" font-family='"Liberation Sans", sans-serif' font-size="32.5" text-anchor="middle" fill="#111">4</text>
<text x="423.2" y="2414.4" font-family='"Liberation Sans", sans-serif' font-size="32.5" text-anchor="middle" fill="#111">3.5</text>
<text x="668.7" y="2414.4" font-family='"Liberation Sans", sans-serif' font-size="32.5" text-anchor="middle" fill="#111">3</text>
<text x="914.2" y="2414.4" font-family='"Liberation Sans", sans-serif' font-size="32.5" text-anchor="middle" fill="#111">2.5</text>
<text x="1159.7" y="2414.4" font-family='"Liberation Sans", sans-serif' font-size="32.5" text-anchor="middle" fill="#111">2</text>
<text x="1405.2" y="2414.4" font-family='"Liberation Sans", sans-serif' font-size="32.5" text-anchor="middle" fill="#111">1.5</text>
<text x="1650.7" y="2414.4" font-family='"Liberation Sans", sans-serif' font-size="32.5" text-anchor="middle" fill="#111">1</text>
<text x="1894.0" y="2413.2" font-family='"Liberation Sans", sans-serif' font-size="32" text-anchor="middle" fill="#111">0.5</text>
<text transform="translate(1786.2,2448.8) scale(0.915,1)" font-family='"Liberation Sans", sans-serif' font-size="34" fill="#222">PPM</text>
<line x1="1885.2" y1="1843.4" x2="1907.2" y2="1843.4" stroke="#000" stroke-width="2"/>
<text x="1930.0" y="1855.3" font-family='"Liberation Sans", sans-serif' font-size="33.5" text-anchor="start" fill="#222">0.05</text>
<line x1="1885.2" y1="2047.4" x2="1907.2" y2="2047.4" stroke="#000" stroke-width="2"/>
<text x="1930.0" y="2059.3" font-family='"Liberation Sans", sans-serif' font-size="33.5" text-anchor="start" fill="#222">0.03</text>
<line x1="1885.2" y1="2251.4" x2="1907.2" y2="2251.4" stroke="#000" stroke-width="2"/>
<text x="1930.0" y="2263.3" font-family='"Liberation Sans", sans-serif' font-size="33.5" text-anchor="start" fill="#222">0.01</text>
<line x1="1885.2" y1="2455.4" x2="1907.2" y2="2455.4" stroke="#000" stroke-width="2"/>
<text x="1930.0" y="2467.3" font-family='"Liberation Sans", sans-serif' font-size="33.5" text-anchor="start" fill="#222">-0.01</text>
<line x1="1885.2" y1="2659.4" x2="1907.2" y2="2659.4" stroke="#000" stroke-width="2"/>
<text x="1930.0" y="2671.3" font-family='"Liberation Sans", sans-serif' font-size="33.5" text-anchor="start" fill="#222">-0.03</text>
<line x1="1885.2" y1="2863.4" x2="1907.2" y2="2863.4" stroke="#000" stroke-width="2"/>
<text x="1930.0" y="2875.3" font-family='"Liberation Sans", sans-serif' font-size="33.5" text-anchor="start" fill="#222">-0.05</text>
<text transform="translate(1872.0,2038.8) rotate(-90)" font-family='"Liberation Serif", serif' font-size="51.3" fill="#111"><tspan font-style="italic">p</tspan>(Ctr)[1]</text>
<line x1="2030.6" y1="2072.1" x2="2078.2" y2="2072.1" stroke="#ff0000" stroke-width="6.6" stroke-linecap="round"/>
<text x="2083.5" y="2083.6" font-family='"Liberation Sans", sans-serif' font-size="35" text-anchor="start" fill="#000">&gt;0.9</text>
<line x1="2030.6" y1="2134.2" x2="2078.2" y2="2134.2" stroke="#ff0000" stroke-width="6.6" stroke-linecap="round"/>
<text x="2083.5" y="2145.7" font-family='"Liberation Sans", sans-serif' font-size="35" text-anchor="start" fill="#000">0.9–0.8</text>
<line x1="2030.6" y1="2196.3" x2="2078.2" y2="2196.3" stroke="#ffc000" stroke-width="6.6" stroke-linecap="round"/>
<text x="2083.5" y="2207.8" font-family='"Liberation Sans", sans-serif' font-size="35" text-anchor="start" fill="#000">0.8–0.7</text>
<line x1="2030.6" y1="2259.1" x2="2078.2" y2="2259.1" stroke="#ffff00" stroke-width="6.6" stroke-linecap="round"/>
<text x="2083.5" y="2270.6" font-family='"Liberation Sans", sans-serif' font-size="35" text-anchor="start" fill="#000">0.7–0.6</text>
<line x1="2030.6" y1="2321.7" x2="2078.2" y2="2321.7" stroke="#92d050" stroke-width="6.6" stroke-linecap="round"/>
<text x="2083.5" y="2333.2" font-family='"Liberation Sans", sans-serif' font-size="35" text-anchor="start" fill="#000">0.6–0.5</text>
<line x1="2030.6" y1="2383.3" x2="2078.2" y2="2383.3" stroke="#00b050" stroke-width="6.6" stroke-linecap="round"/>
<text x="2083.5" y="2394.8" font-family='"Liberation Sans", sans-serif' font-size="35" text-anchor="start" fill="#000">0.5–0.4</text>
<line x1="2030.6" y1="2446.3" x2="2078.2" y2="2446.3" stroke="#00b0f0" stroke-width="6.6" stroke-linecap="round"/>
<text x="2083.5" y="2457.8" font-family='"Liberation Sans", sans-serif' font-size="35" text-anchor="start" fill="#000">0.4–0.3</text>
<line x1="2030.6" y1="2509.3" x2="2078.2" y2="2509.3" stroke="#0070c0" stroke-width="6.6" stroke-linecap="round"/>
<text x="2083.5" y="2520.8" font-family='"Liberation Sans", sans-serif' font-size="35" text-anchor="start" fill="#000">0.3–0.2</text>
<line x1="2030.6" y1="2571.9" x2="2078.2" y2="2571.9" stroke="#002060" stroke-width="6.6" stroke-linecap="round"/>
<text x="2083.5" y="2583.4" font-family='"Liberation Sans", sans-serif' font-size="35" text-anchor="start" fill="#000">0.2–0.1</text>
<line x1="2030.6" y1="2634.2" x2="2078.2" y2="2634.2" stroke="#002060" stroke-width="6.6" stroke-linecap="round"/>
<text x="2083.5" y="2645.7" font-family='"Liberation Sans", sans-serif' font-size="35" text-anchor="start" fill="#000">&lt;0.1</text>
</g>
</svg>
</body>
</html>
